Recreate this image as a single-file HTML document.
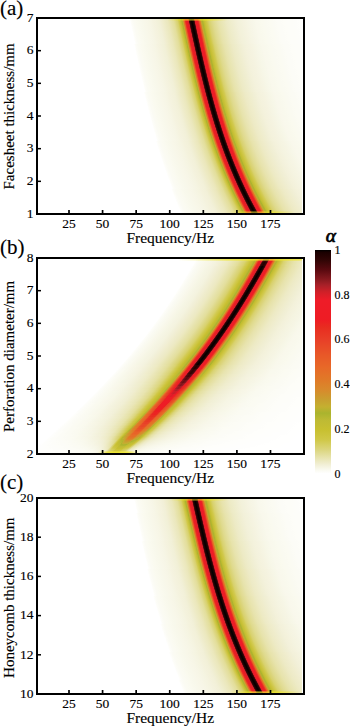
<!DOCTYPE html><html><head><meta charset="utf-8"><style>html,body{margin:0;padding:0;background:#fff;overflow:hidden}svg{display:block}</style></head><body>
<svg width="350" height="727" viewBox="0 0 350 727"><defs><linearGradient id="g0"><stop offset="0.0000" stop-color="#ffffff"/><stop offset="0.0077" stop-color="#fdfdf8"/><stop offset="0.0137" stop-color="#fcfcf6"/><stop offset="0.0179" stop-color="#fbfbf4"/><stop offset="0.0275" stop-color="#fbfbf2"/><stop offset="0.0412" stop-color="#fafaef"/><stop offset="0.0436" stop-color="#fafaef"/><stop offset="0.0549" stop-color="#f9f9ed"/><stop offset="0.0686" stop-color="#f8f8eb"/><stop offset="0.0824" stop-color="#f8f7e9"/><stop offset="0.0949" stop-color="#f7f6e7"/><stop offset="0.0961" stop-color="#f7f6e7"/><stop offset="0.1098" stop-color="#f6f5e4"/><stop offset="0.1236" stop-color="#f5f3e0"/><stop offset="0.1373" stop-color="#f4f2dd"/><stop offset="0.1510" stop-color="#f2f1d9"/><stop offset="0.1564" stop-color="#f2f0d8"/><stop offset="0.1648" stop-color="#f1eed3"/><stop offset="0.1785" stop-color="#efecca"/><stop offset="0.1922" stop-color="#ece9c2"/><stop offset="0.2025" stop-color="#ebe7bc"/><stop offset="0.2059" stop-color="#eae6b8"/><stop offset="0.2197" stop-color="#e6e2a9"/><stop offset="0.2333" stop-color="#e3de9b"/><stop offset="0.2334" stop-color="#e3de9a"/><stop offset="0.2471" stop-color="#dbd57b"/><stop offset="0.2538" stop-color="#d8d16d"/><stop offset="0.2609" stop-color="#d1c94b"/><stop offset="0.2641" stop-color="#cec643"/><stop offset="0.2712" stop-color="#c2bd32"/><stop offset="0.2746" stop-color="#b6b832"/><stop offset="0.2766" stop-color="#aab42e"/><stop offset="0.2832" stop-color="#c7a530"/><stop offset="0.2870" stop-color="#e07928"/><stop offset="0.2883" stop-color="#e47128"/><stop offset="0.2908" stop-color="#e86128"/><stop offset="0.2946" stop-color="#e83825"/><stop offset="0.2995" stop-color="#ee1c25"/><stop offset="0.3021" stop-color="#ee1c25"/><stop offset="0.3126" stop-color="#da1f28"/><stop offset="0.3158" stop-color="#54090e"/><stop offset="0.3159" stop-color="#51090e"/><stop offset="0.3192" stop-color="#270303"/><stop offset="0.3295" stop-color="#000000"/><stop offset="0.3399" stop-color="#270303"/><stop offset="0.3432" stop-color="#51090e"/><stop offset="0.3464" stop-color="#da1f28"/><stop offset="0.3492" stop-color="#eb1c28"/><stop offset="0.3606" stop-color="#ee1c25"/><stop offset="0.3655" stop-color="#e83825"/><stop offset="0.3690" stop-color="#e85928"/><stop offset="0.3699" stop-color="#e86128"/><stop offset="0.3742" stop-color="#e07928"/><stop offset="0.3786" stop-color="#c7a530"/><stop offset="0.3873" stop-color="#aab42e"/><stop offset="0.3887" stop-color="#b1b630"/><stop offset="0.3950" stop-color="#c5be31"/><stop offset="0.4052" stop-color="#cec643"/><stop offset="0.4084" stop-color="#d0c847"/><stop offset="0.4206" stop-color="#d8d16d"/><stop offset="0.4281" stop-color="#dad479"/><stop offset="0.4411" stop-color="#dfda8d"/><stop offset="0.4478" stop-color="#e1dc94"/><stop offset="0.4676" stop-color="#e6e2a8"/><stop offset="0.4719" stop-color="#e7e3ac"/><stop offset="0.4873" stop-color="#e9e6b5"/><stop offset="0.5070" stop-color="#ece9c1"/><stop offset="0.5129" stop-color="#edeac5"/><stop offset="0.5267" stop-color="#eeecca"/><stop offset="0.5464" stop-color="#f0eed1"/><stop offset="0.5662" stop-color="#f2f0d8"/><stop offset="0.5744" stop-color="#f3f1da"/><stop offset="0.5859" stop-color="#f3f2dc"/><stop offset="0.6056" stop-color="#f5f3e0"/><stop offset="0.6253" stop-color="#f6f5e4"/><stop offset="0.6450" stop-color="#f7f6e8"/><stop offset="0.6648" stop-color="#f8f8eb"/><stop offset="0.6667" stop-color="#f9f8ec"/><stop offset="0.6845" stop-color="#f9f9ed"/><stop offset="0.7042" stop-color="#fafaef"/><stop offset="0.7239" stop-color="#fafaf1"/><stop offset="0.7436" stop-color="#fbfbf2"/><stop offset="0.7634" stop-color="#fbfbf4"/><stop offset="0.7831" stop-color="#fcfcf6"/><stop offset="0.7949" stop-color="#fcfcf7"/><stop offset="0.8028" stop-color="#fcfcf7"/><stop offset="0.8225" stop-color="#fdfdf8"/><stop offset="0.8422" stop-color="#fdfdf9"/><stop offset="0.8620" stop-color="#fdfdf9"/><stop offset="0.8817" stop-color="#fdfdfa"/><stop offset="0.9014" stop-color="#fefefb"/><stop offset="0.9211" stop-color="#fefefc"/><stop offset="0.9408" stop-color="#fefefd"/><stop offset="0.9606" stop-color="#fefefd"/><stop offset="0.9803" stop-color="#fffffe"/><stop offset="1.0000" stop-color="#ffffff"/></linearGradient><linearGradient id="g1"><stop offset="0.0000" stop-color="#ffffff"/><stop offset="0.0077" stop-color="#fdfdf8"/><stop offset="0.0137" stop-color="#fcfcf6"/><stop offset="0.0180" stop-color="#fbfbf4"/><stop offset="0.0274" stop-color="#fbfbf2"/><stop offset="0.0411" stop-color="#fafaef"/><stop offset="0.0437" stop-color="#fafaef"/><stop offset="0.0548" stop-color="#f9f9ed"/><stop offset="0.0686" stop-color="#f8f8eb"/><stop offset="0.0823" stop-color="#f8f7e9"/><stop offset="0.0951" stop-color="#f7f6e7"/><stop offset="0.0960" stop-color="#f7f6e7"/><stop offset="0.1097" stop-color="#f6f5e4"/><stop offset="0.1234" stop-color="#f5f3e0"/><stop offset="0.1371" stop-color="#f4f2dd"/><stop offset="0.1508" stop-color="#f2f1d9"/><stop offset="0.1568" stop-color="#f2f0d8"/><stop offset="0.1645" stop-color="#f1efd3"/><stop offset="0.1782" stop-color="#efeccb"/><stop offset="0.1919" stop-color="#edeac2"/><stop offset="0.2031" stop-color="#ebe7bc"/><stop offset="0.2057" stop-color="#eae7b9"/><stop offset="0.2194" stop-color="#e7e2aa"/><stop offset="0.2331" stop-color="#e3de9c"/><stop offset="0.2339" stop-color="#e3de9b"/><stop offset="0.2468" stop-color="#dcd57e"/><stop offset="0.2545" stop-color="#d8d16d"/><stop offset="0.2605" stop-color="#d2ca50"/><stop offset="0.2648" stop-color="#cec643"/><stop offset="0.2717" stop-color="#c2bd32"/><stop offset="0.2742" stop-color="#bbb933"/><stop offset="0.2771" stop-color="#aab42e"/><stop offset="0.2835" stop-color="#c7a530"/><stop offset="0.2873" stop-color="#e07928"/><stop offset="0.2879" stop-color="#e27528"/><stop offset="0.2910" stop-color="#e86128"/><stop offset="0.2948" stop-color="#e83825"/><stop offset="0.2996" stop-color="#ee1c25"/><stop offset="0.3016" stop-color="#ee1c25"/><stop offset="0.3124" stop-color="#da1f28"/><stop offset="0.3153" stop-color="#5c0b11"/><stop offset="0.3157" stop-color="#51090e"/><stop offset="0.3189" stop-color="#270303"/><stop offset="0.3290" stop-color="#000000"/><stop offset="0.3392" stop-color="#270303"/><stop offset="0.3424" stop-color="#51090e"/><stop offset="0.3457" stop-color="#da1f28"/><stop offset="0.3488" stop-color="#ed1c28"/><stop offset="0.3596" stop-color="#ee1c25"/><stop offset="0.3644" stop-color="#e83825"/><stop offset="0.3685" stop-color="#e86028"/><stop offset="0.3687" stop-color="#e86128"/><stop offset="0.3730" stop-color="#e07928"/><stop offset="0.3772" stop-color="#c7a530"/><stop offset="0.3858" stop-color="#aab42e"/><stop offset="0.3883" stop-color="#b7b832"/><stop offset="0.3933" stop-color="#c5be31"/><stop offset="0.4036" stop-color="#cec643"/><stop offset="0.4080" stop-color="#d0c84a"/><stop offset="0.4190" stop-color="#d8d16d"/><stop offset="0.4277" stop-color="#dbd57a"/><stop offset="0.4396" stop-color="#dfda8d"/><stop offset="0.4475" stop-color="#e1dc95"/><stop offset="0.4672" stop-color="#e6e2a9"/><stop offset="0.4704" stop-color="#e7e3ac"/><stop offset="0.4869" stop-color="#e9e6b6"/><stop offset="0.5067" stop-color="#ece9c2"/><stop offset="0.5116" stop-color="#edeac5"/><stop offset="0.5264" stop-color="#eeecca"/><stop offset="0.5461" stop-color="#f0eed1"/><stop offset="0.5659" stop-color="#f2f0d8"/><stop offset="0.5733" stop-color="#f3f1da"/><stop offset="0.5856" stop-color="#f4f2dd"/><stop offset="0.6053" stop-color="#f5f3e0"/><stop offset="0.6251" stop-color="#f6f5e4"/><stop offset="0.6448" stop-color="#f7f7e8"/><stop offset="0.6645" stop-color="#f8f8eb"/><stop offset="0.6658" stop-color="#f9f8ec"/><stop offset="0.6843" stop-color="#f9f9ed"/><stop offset="0.7040" stop-color="#fafaef"/><stop offset="0.7237" stop-color="#fafaf1"/><stop offset="0.7435" stop-color="#fbfbf2"/><stop offset="0.7632" stop-color="#fbfbf4"/><stop offset="0.7829" stop-color="#fcfcf6"/><stop offset="0.7943" stop-color="#fcfcf7"/><stop offset="0.8027" stop-color="#fcfcf7"/><stop offset="0.8224" stop-color="#fdfdf8"/><stop offset="0.8421" stop-color="#fdfdf9"/><stop offset="0.8619" stop-color="#fdfdf9"/><stop offset="0.8816" stop-color="#fdfdfa"/><stop offset="0.9013" stop-color="#fefefb"/><stop offset="0.9211" stop-color="#fefefc"/><stop offset="0.9408" stop-color="#fefefd"/><stop offset="0.9605" stop-color="#fefefd"/><stop offset="0.9803" stop-color="#fffffe"/><stop offset="1.0000" stop-color="#ffffff"/></linearGradient><linearGradient id="g2"><stop offset="0.0000" stop-color="#ffffff"/><stop offset="0.0077" stop-color="#fdfdf8"/><stop offset="0.0137" stop-color="#fcfcf6"/><stop offset="0.0180" stop-color="#fbfbf4"/><stop offset="0.0274" stop-color="#fbfbf2"/><stop offset="0.0411" stop-color="#fafaef"/><stop offset="0.0438" stop-color="#fafaef"/><stop offset="0.0548" stop-color="#f9f9ed"/><stop offset="0.0685" stop-color="#f8f8eb"/><stop offset="0.0821" stop-color="#f8f7e9"/><stop offset="0.0954" stop-color="#f7f6e7"/><stop offset="0.0958" stop-color="#f7f6e7"/><stop offset="0.1095" stop-color="#f6f5e4"/><stop offset="0.1232" stop-color="#f5f3e0"/><stop offset="0.1369" stop-color="#f4f2dd"/><stop offset="0.1506" stop-color="#f3f1da"/><stop offset="0.1572" stop-color="#f2f0d8"/><stop offset="0.1643" stop-color="#f1efd4"/><stop offset="0.1780" stop-color="#efeccb"/><stop offset="0.1917" stop-color="#edeac3"/><stop offset="0.2036" stop-color="#ebe7bc"/><stop offset="0.2054" stop-color="#eae7ba"/><stop offset="0.2191" stop-color="#e7e3ab"/><stop offset="0.2328" stop-color="#e3de9d"/><stop offset="0.2345" stop-color="#e3de9b"/><stop offset="0.2464" stop-color="#dcd680"/><stop offset="0.2552" stop-color="#d8d16d"/><stop offset="0.2601" stop-color="#d3cb55"/><stop offset="0.2655" stop-color="#cec643"/><stop offset="0.2723" stop-color="#c2bd32"/><stop offset="0.2738" stop-color="#bfbb34"/><stop offset="0.2776" stop-color="#aab42e"/><stop offset="0.2839" stop-color="#c7a530"/><stop offset="0.2875" stop-color="#e07a28"/><stop offset="0.2876" stop-color="#e07928"/><stop offset="0.2913" stop-color="#e86128"/><stop offset="0.2949" stop-color="#e83825"/><stop offset="0.2997" stop-color="#ee1c25"/><stop offset="0.3012" stop-color="#ee1c25"/><stop offset="0.3123" stop-color="#da1f28"/><stop offset="0.3149" stop-color="#660e14"/><stop offset="0.3154" stop-color="#51090e"/><stop offset="0.3186" stop-color="#270303"/><stop offset="0.3286" stop-color="#000000"/><stop offset="0.3386" stop-color="#270303"/><stop offset="0.3417" stop-color="#51090e"/><stop offset="0.3449" stop-color="#da1f28"/><stop offset="0.3483" stop-color="#ee1c28"/><stop offset="0.3586" stop-color="#ee1c25"/><stop offset="0.3633" stop-color="#e83825"/><stop offset="0.3675" stop-color="#e86128"/><stop offset="0.3681" stop-color="#e86428"/><stop offset="0.3717" stop-color="#e07928"/><stop offset="0.3759" stop-color="#c7a530"/><stop offset="0.3844" stop-color="#aab42e"/><stop offset="0.3878" stop-color="#bcb933"/><stop offset="0.3917" stop-color="#c5be31"/><stop offset="0.4020" stop-color="#cec643"/><stop offset="0.4076" stop-color="#d1c94d"/><stop offset="0.4175" stop-color="#d8d16d"/><stop offset="0.4273" stop-color="#dbd57c"/><stop offset="0.4381" stop-color="#dfda8d"/><stop offset="0.4471" stop-color="#e2dc96"/><stop offset="0.4668" stop-color="#e6e2aa"/><stop offset="0.4690" stop-color="#e7e3ac"/><stop offset="0.4866" stop-color="#eae6b7"/><stop offset="0.5063" stop-color="#ede9c2"/><stop offset="0.5103" stop-color="#edeac5"/><stop offset="0.5261" stop-color="#efecca"/><stop offset="0.5458" stop-color="#f0eed1"/><stop offset="0.5656" stop-color="#f2f0d8"/><stop offset="0.5721" stop-color="#f3f1da"/><stop offset="0.5853" stop-color="#f4f2dd"/><stop offset="0.6051" stop-color="#f5f3e0"/><stop offset="0.6248" stop-color="#f6f5e4"/><stop offset="0.6446" stop-color="#f7f7e8"/><stop offset="0.6643" stop-color="#f9f8ec"/><stop offset="0.6649" stop-color="#f9f8ec"/><stop offset="0.6840" stop-color="#f9f9ed"/><stop offset="0.7038" stop-color="#fafaef"/><stop offset="0.7235" stop-color="#fafaf1"/><stop offset="0.7433" stop-color="#fbfbf3"/><stop offset="0.7630" stop-color="#fbfbf4"/><stop offset="0.7828" stop-color="#fcfcf6"/><stop offset="0.7938" stop-color="#fcfcf7"/><stop offset="0.8025" stop-color="#fcfcf7"/><stop offset="0.8223" stop-color="#fdfdf8"/><stop offset="0.8420" stop-color="#fdfdf9"/><stop offset="0.8618" stop-color="#fdfdf9"/><stop offset="0.8815" stop-color="#fdfdfa"/><stop offset="0.9013" stop-color="#fefefb"/><stop offset="0.9210" stop-color="#fefefc"/><stop offset="0.9408" stop-color="#fefefd"/><stop offset="0.9605" stop-color="#fefefd"/><stop offset="0.9803" stop-color="#fffffe"/><stop offset="1.0000" stop-color="#ffffff"/></linearGradient><linearGradient id="g3"><stop offset="0.0000" stop-color="#ffffff"/><stop offset="0.0078" stop-color="#fdfdf8"/><stop offset="0.0137" stop-color="#fcfcf6"/><stop offset="0.0181" stop-color="#fbfbf4"/><stop offset="0.0273" stop-color="#fbfbf2"/><stop offset="0.0410" stop-color="#fafaf0"/><stop offset="0.0439" stop-color="#fafaef"/><stop offset="0.0547" stop-color="#f9f9ed"/><stop offset="0.0684" stop-color="#f8f8eb"/><stop offset="0.0820" stop-color="#f8f7e9"/><stop offset="0.0956" stop-color="#f7f6e7"/><stop offset="0.0957" stop-color="#f7f6e7"/><stop offset="0.1094" stop-color="#f6f5e4"/><stop offset="0.1231" stop-color="#f5f4e1"/><stop offset="0.1367" stop-color="#f4f2dd"/><stop offset="0.1504" stop-color="#f3f1da"/><stop offset="0.1576" stop-color="#f2f0d8"/><stop offset="0.1641" stop-color="#f1efd4"/><stop offset="0.1778" stop-color="#efeccc"/><stop offset="0.1914" stop-color="#edeac3"/><stop offset="0.2041" stop-color="#ebe7bc"/><stop offset="0.2051" stop-color="#ebe7bb"/><stop offset="0.2188" stop-color="#e7e3ac"/><stop offset="0.2325" stop-color="#e3df9e"/><stop offset="0.2351" stop-color="#e3de9b"/><stop offset="0.2461" stop-color="#dcd782"/><stop offset="0.2558" stop-color="#d8d16d"/><stop offset="0.2598" stop-color="#d4cd5a"/><stop offset="0.2661" stop-color="#cec643"/><stop offset="0.2729" stop-color="#c2bd32"/><stop offset="0.2735" stop-color="#c1bc33"/><stop offset="0.2780" stop-color="#aab42e"/><stop offset="0.2842" stop-color="#c7a530"/><stop offset="0.2871" stop-color="#dd802a"/><stop offset="0.2879" stop-color="#e07928"/><stop offset="0.2915" stop-color="#e86128"/><stop offset="0.2951" stop-color="#e83825"/><stop offset="0.2997" stop-color="#ee1c25"/><stop offset="0.3008" stop-color="#ee1c25"/><stop offset="0.3121" stop-color="#da1f28"/><stop offset="0.3145" stop-color="#6f1117"/><stop offset="0.3152" stop-color="#51090e"/><stop offset="0.3183" stop-color="#270303"/><stop offset="0.3282" stop-color="#000000"/><stop offset="0.3380" stop-color="#270303"/><stop offset="0.3411" stop-color="#51090e"/><stop offset="0.3442" stop-color="#da1f28"/><stop offset="0.3479" stop-color="#ee1c28"/><stop offset="0.3576" stop-color="#ee1c25"/><stop offset="0.3623" stop-color="#e83825"/><stop offset="0.3664" stop-color="#e86128"/><stop offset="0.3677" stop-color="#e86928"/><stop offset="0.3705" stop-color="#e07928"/><stop offset="0.3747" stop-color="#c7a530"/><stop offset="0.3829" stop-color="#aab42e"/><stop offset="0.3874" stop-color="#bfbb33"/><stop offset="0.3902" stop-color="#c5be31"/><stop offset="0.4005" stop-color="#cec643"/><stop offset="0.4072" stop-color="#d2ca51"/><stop offset="0.4160" stop-color="#d8d16d"/><stop offset="0.4270" stop-color="#dcd57e"/><stop offset="0.4367" stop-color="#dfda8d"/><stop offset="0.4467" stop-color="#e2dd97"/><stop offset="0.4665" stop-color="#e7e2ab"/><stop offset="0.4677" stop-color="#e7e3ac"/><stop offset="0.4862" stop-color="#eae6b7"/><stop offset="0.5060" stop-color="#edeac3"/><stop offset="0.5090" stop-color="#edeac5"/><stop offset="0.5258" stop-color="#efeccb"/><stop offset="0.5455" stop-color="#f0eed2"/><stop offset="0.5653" stop-color="#f2f0d8"/><stop offset="0.5711" stop-color="#f3f1da"/><stop offset="0.5850" stop-color="#f4f2dd"/><stop offset="0.6048" stop-color="#f5f4e1"/><stop offset="0.6246" stop-color="#f6f5e4"/><stop offset="0.6443" stop-color="#f7f7e8"/><stop offset="0.6641" stop-color="#f9f8ec"/><stop offset="0.6838" stop-color="#f9f9ed"/><stop offset="0.7036" stop-color="#fafaef"/><stop offset="0.7234" stop-color="#fafaf1"/><stop offset="0.7431" stop-color="#fbfbf3"/><stop offset="0.7629" stop-color="#fbfbf4"/><stop offset="0.7826" stop-color="#fcfcf6"/><stop offset="0.7933" stop-color="#fcfcf7"/><stop offset="0.8024" stop-color="#fcfcf7"/><stop offset="0.8222" stop-color="#fdfdf8"/><stop offset="0.8419" stop-color="#fdfdf9"/><stop offset="0.8617" stop-color="#fdfdf9"/><stop offset="0.8814" stop-color="#fdfdfa"/><stop offset="0.9012" stop-color="#fefefb"/><stop offset="0.9210" stop-color="#fefefc"/><stop offset="0.9407" stop-color="#fefefd"/><stop offset="0.9605" stop-color="#fefefd"/><stop offset="0.9802" stop-color="#fffffe"/><stop offset="1.0000" stop-color="#ffffff"/></linearGradient><linearGradient id="g4"><stop offset="0.0000" stop-color="#ffffff"/><stop offset="0.0078" stop-color="#fdfdf8"/><stop offset="0.0137" stop-color="#fcfcf6"/><stop offset="0.0181" stop-color="#fbfbf4"/><stop offset="0.0273" stop-color="#fbfbf2"/><stop offset="0.0410" stop-color="#fafaf0"/><stop offset="0.0440" stop-color="#fafaef"/><stop offset="0.0546" stop-color="#f9f9ed"/><stop offset="0.0683" stop-color="#f8f8eb"/><stop offset="0.0819" stop-color="#f8f7e9"/><stop offset="0.0956" stop-color="#f7f6e7"/><stop offset="0.0958" stop-color="#f7f6e7"/><stop offset="0.1092" stop-color="#f6f5e4"/><stop offset="0.1229" stop-color="#f5f4e1"/><stop offset="0.1366" stop-color="#f4f2dd"/><stop offset="0.1502" stop-color="#f3f1da"/><stop offset="0.1580" stop-color="#f2f0d8"/><stop offset="0.1639" stop-color="#f1efd4"/><stop offset="0.1775" stop-color="#efeccc"/><stop offset="0.1912" stop-color="#edeac4"/><stop offset="0.2046" stop-color="#ebe7bc"/><stop offset="0.2048" stop-color="#ebe7bb"/><stop offset="0.2185" stop-color="#e7e3ad"/><stop offset="0.2322" stop-color="#e4df9e"/><stop offset="0.2357" stop-color="#e3de9b"/><stop offset="0.2458" stop-color="#ddd784"/><stop offset="0.2564" stop-color="#d8d16d"/><stop offset="0.2595" stop-color="#d5ce5f"/><stop offset="0.2668" stop-color="#cec643"/><stop offset="0.2731" stop-color="#c3bd32"/><stop offset="0.2734" stop-color="#c2bd32"/><stop offset="0.2785" stop-color="#aab42e"/><stop offset="0.2846" stop-color="#c7a530"/><stop offset="0.2868" stop-color="#d9872b"/><stop offset="0.2881" stop-color="#e07928"/><stop offset="0.2917" stop-color="#e86128"/><stop offset="0.2952" stop-color="#e83825"/><stop offset="0.2998" stop-color="#ee1c25"/><stop offset="0.3004" stop-color="#ee1c25"/><stop offset="0.3120" stop-color="#da1f28"/><stop offset="0.3141" stop-color="#78141a"/><stop offset="0.3150" stop-color="#51090e"/><stop offset="0.3181" stop-color="#270303"/><stop offset="0.3277" stop-color="#000000"/><stop offset="0.3374" stop-color="#270303"/><stop offset="0.3404" stop-color="#51090e"/><stop offset="0.3435" stop-color="#da1f28"/><stop offset="0.3475" stop-color="#ee1c28"/><stop offset="0.3567" stop-color="#ee1c25"/><stop offset="0.3613" stop-color="#e83825"/><stop offset="0.3653" stop-color="#e86128"/><stop offset="0.3673" stop-color="#e66d28"/><stop offset="0.3694" stop-color="#e07928"/><stop offset="0.3735" stop-color="#c7a530"/><stop offset="0.3816" stop-color="#aab42e"/><stop offset="0.3871" stop-color="#c1bc33"/><stop offset="0.3887" stop-color="#c5be31"/><stop offset="0.3991" stop-color="#cec643"/><stop offset="0.4068" stop-color="#d3cb54"/><stop offset="0.4146" stop-color="#d8d16d"/><stop offset="0.4266" stop-color="#dcd67f"/><stop offset="0.4353" stop-color="#dfda8d"/><stop offset="0.4464" stop-color="#e2dd98"/><stop offset="0.4662" stop-color="#e7e3ac"/><stop offset="0.4664" stop-color="#e7e3ac"/><stop offset="0.4859" stop-color="#eae6b8"/><stop offset="0.5057" stop-color="#edeac3"/><stop offset="0.5078" stop-color="#edeac5"/><stop offset="0.5255" stop-color="#efeccb"/><stop offset="0.5452" stop-color="#f0eed2"/><stop offset="0.5650" stop-color="#f2f0d9"/><stop offset="0.5700" stop-color="#f3f1da"/><stop offset="0.5848" stop-color="#f4f2dd"/><stop offset="0.6046" stop-color="#f5f4e1"/><stop offset="0.6243" stop-color="#f6f5e4"/><stop offset="0.6441" stop-color="#f7f7e8"/><stop offset="0.6633" stop-color="#f9f8ec"/><stop offset="0.6639" stop-color="#f9f8ec"/><stop offset="0.6836" stop-color="#f9f9ee"/><stop offset="0.7034" stop-color="#fafaef"/><stop offset="0.7232" stop-color="#fafaf1"/><stop offset="0.7430" stop-color="#fbfbf3"/><stop offset="0.7627" stop-color="#fbfbf4"/><stop offset="0.7825" stop-color="#fcfcf6"/><stop offset="0.7928" stop-color="#fcfcf7"/><stop offset="0.8023" stop-color="#fcfcf7"/><stop offset="0.8221" stop-color="#fdfdf8"/><stop offset="0.8418" stop-color="#fdfdf9"/><stop offset="0.8616" stop-color="#fdfdf9"/><stop offset="0.8814" stop-color="#fdfdfa"/><stop offset="0.9011" stop-color="#fefefb"/><stop offset="0.9209" stop-color="#fefefc"/><stop offset="0.9407" stop-color="#fefefd"/><stop offset="0.9605" stop-color="#fefefd"/><stop offset="0.9802" stop-color="#fffffe"/><stop offset="1.0000" stop-color="#ffffff"/></linearGradient><linearGradient id="sta5"><stop offset="0" stop-color="#f0e830" stop-opacity="0"/><stop offset="0.3" stop-color="#f0e830" stop-opacity="0.60"/><stop offset="0.7" stop-color="#f0e830" stop-opacity="0.60"/><stop offset="1" stop-color="#f0e830" stop-opacity="0"/></linearGradient><linearGradient id="sta6"><stop offset="0" stop-color="#f0e830" stop-opacity="0"/><stop offset="0.3" stop-color="#f0e830" stop-opacity="0.55"/><stop offset="0.7" stop-color="#f0e830" stop-opacity="0.55"/><stop offset="1" stop-color="#f0e830" stop-opacity="0"/></linearGradient><linearGradient id="g5"><stop offset="0.0000" stop-color="#ffffff"/><stop offset="0.0078" stop-color="#fdfdf9"/><stop offset="0.0137" stop-color="#fcfcf6"/><stop offset="0.0181" stop-color="#fbfbf4"/><stop offset="0.0273" stop-color="#fbfbf2"/><stop offset="0.0410" stop-color="#f9f9ed"/><stop offset="0.0439" stop-color="#f9f9ed"/><stop offset="0.0547" stop-color="#f8f7ea"/><stop offset="0.0684" stop-color="#f7f6e7"/><stop offset="0.0820" stop-color="#f6f5e3"/><stop offset="0.0956" stop-color="#f5f3e0"/><stop offset="0.0957" stop-color="#f5f3e0"/><stop offset="0.1094" stop-color="#f3f1db"/><stop offset="0.1231" stop-color="#f1efd5"/><stop offset="0.1367" stop-color="#f0edce"/><stop offset="0.1504" stop-color="#eeebc8"/><stop offset="0.1576" stop-color="#edeac5"/><stop offset="0.1641" stop-color="#ece9c0"/><stop offset="0.1778" stop-color="#e9e5b5"/><stop offset="0.1914" stop-color="#e6e2aa"/><stop offset="0.2041" stop-color="#e4df9f"/><stop offset="0.2051" stop-color="#e3df9e"/><stop offset="0.2188" stop-color="#dfd98a"/><stop offset="0.2325" stop-color="#dad477"/><stop offset="0.2351" stop-color="#d9d373"/><stop offset="0.2461" stop-color="#d3cc56"/><stop offset="0.2532" stop-color="#cfc746"/><stop offset="0.2598" stop-color="#cbc339"/><stop offset="0.2636" stop-color="#c9c132"/><stop offset="0.2718" stop-color="#c0bb33"/><stop offset="0.2735" stop-color="#beba34"/><stop offset="0.2780" stop-color="#b1b630"/><stop offset="0.2842" stop-color="#c5ab30"/><stop offset="0.2871" stop-color="#da862b"/><stop offset="0.2879" stop-color="#dd7f29"/><stop offset="0.2915" stop-color="#e86728"/><stop offset="0.2951" stop-color="#e84128"/><stop offset="0.2997" stop-color="#eb2422"/><stop offset="0.3008" stop-color="#ed1f23"/><stop offset="0.3121" stop-color="#ee1c28"/><stop offset="0.3145" stop-color="#981d24"/><stop offset="0.3152" stop-color="#77141a"/><stop offset="0.3183" stop-color="#46080b"/><stop offset="0.3282" stop-color="#2d0404"/><stop offset="0.3380" stop-color="#46080b"/><stop offset="0.3411" stop-color="#77141a"/><stop offset="0.3442" stop-color="#ee1c28"/><stop offset="0.3479" stop-color="#ee1c26"/><stop offset="0.3576" stop-color="#eb2422"/><stop offset="0.3623" stop-color="#e84128"/><stop offset="0.3664" stop-color="#e86728"/><stop offset="0.3677" stop-color="#e56e28"/><stop offset="0.3705" stop-color="#dd7f29"/><stop offset="0.3747" stop-color="#c5ab30"/><stop offset="0.3829" stop-color="#b1b630"/><stop offset="0.3874" stop-color="#c2bc33"/><stop offset="0.3902" stop-color="#c6bf31"/><stop offset="0.4005" stop-color="#cfc746"/><stop offset="0.4072" stop-color="#d3cc58"/><stop offset="0.4160" stop-color="#d9d373"/><stop offset="0.4270" stop-color="#ddd783"/><stop offset="0.4367" stop-color="#e1db92"/><stop offset="0.4467" stop-color="#e3de9c"/><stop offset="0.4665" stop-color="#e8e4af"/><stop offset="0.4677" stop-color="#e8e4b0"/><stop offset="0.4862" stop-color="#ebe7ba"/><stop offset="0.5060" stop-color="#edeac6"/><stop offset="0.5090" stop-color="#eeebc7"/><stop offset="0.5258" stop-color="#efedcd"/><stop offset="0.5455" stop-color="#f1efd4"/><stop offset="0.5653" stop-color="#f3f1da"/><stop offset="0.5711" stop-color="#f3f2dc"/><stop offset="0.5850" stop-color="#f4f3de"/><stop offset="0.6048" stop-color="#f5f4e2"/><stop offset="0.6246" stop-color="#f6f6e5"/><stop offset="0.6443" stop-color="#f8f7e9"/><stop offset="0.6641" stop-color="#f9f9ed"/><stop offset="0.6838" stop-color="#f9f9ee"/><stop offset="0.7036" stop-color="#fafaf0"/><stop offset="0.7234" stop-color="#fbfbf2"/><stop offset="0.7431" stop-color="#fbfbf3"/><stop offset="0.7629" stop-color="#fcfcf5"/><stop offset="0.7826" stop-color="#fcfcf6"/><stop offset="0.7933" stop-color="#fcfcf7"/><stop offset="0.8024" stop-color="#fcfcf7"/><stop offset="0.8222" stop-color="#fdfdf8"/><stop offset="0.8419" stop-color="#fdfdf9"/><stop offset="0.8617" stop-color="#fdfdfa"/><stop offset="0.8814" stop-color="#fdfdfa"/><stop offset="0.9012" stop-color="#fefefb"/><stop offset="0.9210" stop-color="#fefefc"/><stop offset="0.9407" stop-color="#fefefd"/><stop offset="0.9605" stop-color="#fefefd"/><stop offset="0.9802" stop-color="#fffffe"/><stop offset="1.0000" stop-color="#ffffff"/></linearGradient><linearGradient id="g6"><stop offset="0.0000" stop-color="#ffffff"/><stop offset="0.0078" stop-color="#fdfdf9"/><stop offset="0.0137" stop-color="#fcfcf6"/><stop offset="0.0181" stop-color="#fbfbf4"/><stop offset="0.0273" stop-color="#fafaf1"/><stop offset="0.0410" stop-color="#f9f9ed"/><stop offset="0.0439" stop-color="#f9f8ec"/><stop offset="0.0547" stop-color="#f8f7e9"/><stop offset="0.0684" stop-color="#f7f6e6"/><stop offset="0.0820" stop-color="#f6f4e3"/><stop offset="0.0956" stop-color="#f4f3df"/><stop offset="0.0957" stop-color="#f4f3df"/><stop offset="0.1094" stop-color="#f3f1da"/><stop offset="0.1231" stop-color="#f1efd4"/><stop offset="0.1367" stop-color="#efedcd"/><stop offset="0.1504" stop-color="#eeebc7"/><stop offset="0.1576" stop-color="#edeac3"/><stop offset="0.1641" stop-color="#ece8be"/><stop offset="0.1778" stop-color="#e9e5b3"/><stop offset="0.1914" stop-color="#e6e2a8"/><stop offset="0.2041" stop-color="#e3de9d"/><stop offset="0.2051" stop-color="#e3de9c"/><stop offset="0.2188" stop-color="#ded887"/><stop offset="0.2325" stop-color="#d9d374"/><stop offset="0.2351" stop-color="#d9d270"/><stop offset="0.2461" stop-color="#d2cb53"/><stop offset="0.2532" stop-color="#cfc744"/><stop offset="0.2598" stop-color="#cac237"/><stop offset="0.2636" stop-color="#c8c030"/><stop offset="0.2718" stop-color="#bfbb34"/><stop offset="0.2735" stop-color="#bbb933"/><stop offset="0.2780" stop-color="#adb52f"/><stop offset="0.2842" stop-color="#c6a830"/><stop offset="0.2871" stop-color="#db832a"/><stop offset="0.2879" stop-color="#df7c29"/><stop offset="0.2915" stop-color="#e86428"/><stop offset="0.2951" stop-color="#e83c27"/><stop offset="0.2997" stop-color="#ee1d24"/><stop offset="0.3008" stop-color="#ee1c24"/><stop offset="0.3121" stop-color="#e71d28"/><stop offset="0.3145" stop-color="#82171d"/><stop offset="0.3152" stop-color="#630d13"/><stop offset="0.3183" stop-color="#340506"/><stop offset="0.3282" stop-color="#200101"/><stop offset="0.3380" stop-color="#340506"/><stop offset="0.3411" stop-color="#630d13"/><stop offset="0.3442" stop-color="#e71d28"/><stop offset="0.3479" stop-color="#ee1c27"/><stop offset="0.3576" stop-color="#ee1d24"/><stop offset="0.3623" stop-color="#e83c27"/><stop offset="0.3664" stop-color="#e86428"/><stop offset="0.3677" stop-color="#e66b28"/><stop offset="0.3705" stop-color="#df7c29"/><stop offset="0.3747" stop-color="#c6a830"/><stop offset="0.3829" stop-color="#adb52f"/><stop offset="0.3874" stop-color="#c0bb33"/><stop offset="0.3902" stop-color="#c6bf31"/><stop offset="0.4005" stop-color="#cfc744"/><stop offset="0.4072" stop-color="#d3cb55"/><stop offset="0.4160" stop-color="#d9d270"/><stop offset="0.4270" stop-color="#dcd680"/><stop offset="0.4367" stop-color="#e0db90"/><stop offset="0.4467" stop-color="#e2dd9a"/><stop offset="0.4665" stop-color="#e7e3ad"/><stop offset="0.4677" stop-color="#e7e3ae"/><stop offset="0.4862" stop-color="#eae7b9"/><stop offset="0.5060" stop-color="#edeac4"/><stop offset="0.5090" stop-color="#eeebc6"/><stop offset="0.5258" stop-color="#efeccc"/><stop offset="0.5455" stop-color="#f1eed3"/><stop offset="0.5653" stop-color="#f2f1d9"/><stop offset="0.5711" stop-color="#f3f1db"/><stop offset="0.5850" stop-color="#f4f2de"/><stop offset="0.6048" stop-color="#f5f4e1"/><stop offset="0.6246" stop-color="#f6f5e5"/><stop offset="0.6443" stop-color="#f7f7e8"/><stop offset="0.6641" stop-color="#f9f8ec"/><stop offset="0.6838" stop-color="#f9f9ee"/><stop offset="0.7036" stop-color="#fafaf0"/><stop offset="0.7234" stop-color="#fafaf1"/><stop offset="0.7431" stop-color="#fbfbf3"/><stop offset="0.7629" stop-color="#fbfbf4"/><stop offset="0.7826" stop-color="#fcfcf6"/><stop offset="0.7933" stop-color="#fcfcf7"/><stop offset="0.8024" stop-color="#fcfcf7"/><stop offset="0.8222" stop-color="#fdfdf8"/><stop offset="0.8419" stop-color="#fdfdf9"/><stop offset="0.8617" stop-color="#fdfdf9"/><stop offset="0.8814" stop-color="#fdfdfa"/><stop offset="0.9012" stop-color="#fefefb"/><stop offset="0.9210" stop-color="#fefefc"/><stop offset="0.9407" stop-color="#fefefd"/><stop offset="0.9605" stop-color="#fefefd"/><stop offset="0.9802" stop-color="#fffffe"/><stop offset="1.0000" stop-color="#ffffff"/></linearGradient><linearGradient id="g7"><stop offset="0.0000" stop-color="#ffffff"/><stop offset="0.0078" stop-color="#fdfdf8"/><stop offset="0.0137" stop-color="#fcfcf6"/><stop offset="0.0181" stop-color="#fbfbf4"/><stop offset="0.0273" stop-color="#fafaf1"/><stop offset="0.0410" stop-color="#f9f9ed"/><stop offset="0.0439" stop-color="#f9f8ec"/><stop offset="0.0547" stop-color="#f8f7e9"/><stop offset="0.0684" stop-color="#f6f6e5"/><stop offset="0.0820" stop-color="#f5f4e2"/><stop offset="0.0956" stop-color="#f4f3df"/><stop offset="0.0957" stop-color="#f4f3df"/><stop offset="0.1094" stop-color="#f2f0d9"/><stop offset="0.1231" stop-color="#f1eed3"/><stop offset="0.1367" stop-color="#efeccc"/><stop offset="0.1504" stop-color="#edeac6"/><stop offset="0.1576" stop-color="#ede9c2"/><stop offset="0.1641" stop-color="#ebe8bd"/><stop offset="0.1778" stop-color="#e8e4b1"/><stop offset="0.1914" stop-color="#e5e1a6"/><stop offset="0.2041" stop-color="#e3de9b"/><stop offset="0.2051" stop-color="#e2dd99"/><stop offset="0.2188" stop-color="#ddd785"/><stop offset="0.2325" stop-color="#d9d271"/><stop offset="0.2351" stop-color="#d8d16d"/><stop offset="0.2461" stop-color="#d2ca4f"/><stop offset="0.2532" stop-color="#cec643"/><stop offset="0.2598" stop-color="#cac235"/><stop offset="0.2636" stop-color="#c7bf30"/><stop offset="0.2718" stop-color="#bdba34"/><stop offset="0.2735" stop-color="#b8b832"/><stop offset="0.2780" stop-color="#aab42e"/><stop offset="0.2842" stop-color="#c7a530"/><stop offset="0.2871" stop-color="#dd802a"/><stop offset="0.2879" stop-color="#e07928"/><stop offset="0.2915" stop-color="#e86128"/><stop offset="0.2951" stop-color="#e83825"/><stop offset="0.2997" stop-color="#ee1c25"/><stop offset="0.3008" stop-color="#ee1c25"/><stop offset="0.3121" stop-color="#da1f28"/><stop offset="0.3145" stop-color="#6f1117"/><stop offset="0.3152" stop-color="#51090e"/><stop offset="0.3183" stop-color="#270303"/><stop offset="0.3282" stop-color="#000000"/><stop offset="0.3380" stop-color="#270303"/><stop offset="0.3411" stop-color="#51090e"/><stop offset="0.3442" stop-color="#da1f28"/><stop offset="0.3479" stop-color="#ee1c28"/><stop offset="0.3576" stop-color="#ee1c25"/><stop offset="0.3623" stop-color="#e83825"/><stop offset="0.3664" stop-color="#e86128"/><stop offset="0.3677" stop-color="#e86928"/><stop offset="0.3705" stop-color="#e07928"/><stop offset="0.3747" stop-color="#c7a530"/><stop offset="0.3829" stop-color="#aab42e"/><stop offset="0.3874" stop-color="#bfbb33"/><stop offset="0.3902" stop-color="#c5be31"/><stop offset="0.4005" stop-color="#cec643"/><stop offset="0.4072" stop-color="#d2ca51"/><stop offset="0.4160" stop-color="#d8d16d"/><stop offset="0.4270" stop-color="#dcd57e"/><stop offset="0.4367" stop-color="#dfda8d"/><stop offset="0.4467" stop-color="#e2dd97"/><stop offset="0.4665" stop-color="#e7e2ab"/><stop offset="0.4677" stop-color="#e7e3ac"/><stop offset="0.4862" stop-color="#eae6b7"/><stop offset="0.5060" stop-color="#edeac3"/><stop offset="0.5090" stop-color="#edeac5"/><stop offset="0.5258" stop-color="#efeccb"/><stop offset="0.5455" stop-color="#f0eed2"/><stop offset="0.5653" stop-color="#f2f0d8"/><stop offset="0.5711" stop-color="#f3f1da"/><stop offset="0.5850" stop-color="#f4f2dd"/><stop offset="0.6048" stop-color="#f5f4e1"/><stop offset="0.6246" stop-color="#f6f5e4"/><stop offset="0.6443" stop-color="#f7f7e8"/><stop offset="0.6641" stop-color="#f9f8ec"/><stop offset="0.6838" stop-color="#f9f9ed"/><stop offset="0.7036" stop-color="#fafaef"/><stop offset="0.7234" stop-color="#fafaf1"/><stop offset="0.7431" stop-color="#fbfbf3"/><stop offset="0.7629" stop-color="#fbfbf4"/><stop offset="0.7826" stop-color="#fcfcf6"/><stop offset="0.7933" stop-color="#fcfcf7"/><stop offset="0.8024" stop-color="#fcfcf7"/><stop offset="0.8222" stop-color="#fdfdf8"/><stop offset="0.8419" stop-color="#fdfdf9"/><stop offset="0.8617" stop-color="#fdfdf9"/><stop offset="0.8814" stop-color="#fdfdfa"/><stop offset="0.9012" stop-color="#fefefb"/><stop offset="0.9210" stop-color="#fefefc"/><stop offset="0.9407" stop-color="#fefefd"/><stop offset="0.9605" stop-color="#fefefd"/><stop offset="0.9802" stop-color="#fffffe"/><stop offset="1.0000" stop-color="#ffffff"/></linearGradient><linearGradient id="g8"><stop offset="0.0000" stop-color="#ffffff"/><stop offset="0.0078" stop-color="#fdfdf9"/><stop offset="0.0137" stop-color="#fcfcf6"/><stop offset="0.0181" stop-color="#fbfbf4"/><stop offset="0.0273" stop-color="#fbfbf2"/><stop offset="0.0410" stop-color="#f9f9ee"/><stop offset="0.0439" stop-color="#f9f9ed"/><stop offset="0.0547" stop-color="#f8f8ea"/><stop offset="0.0684" stop-color="#f7f6e7"/><stop offset="0.0820" stop-color="#f6f5e4"/><stop offset="0.0956" stop-color="#f5f4e1"/><stop offset="0.0957" stop-color="#f5f4e1"/><stop offset="0.1094" stop-color="#f3f1db"/><stop offset="0.1231" stop-color="#f1efd6"/><stop offset="0.1367" stop-color="#f0eed0"/><stop offset="0.1504" stop-color="#eeecca"/><stop offset="0.1576" stop-color="#eeebc6"/><stop offset="0.1641" stop-color="#ece9c1"/><stop offset="0.1778" stop-color="#eae6b7"/><stop offset="0.1914" stop-color="#e7e3ac"/><stop offset="0.2041" stop-color="#e4e0a1"/><stop offset="0.2051" stop-color="#e4dfa0"/><stop offset="0.2188" stop-color="#dfda8d"/><stop offset="0.2325" stop-color="#dbd47a"/><stop offset="0.2351" stop-color="#dad476"/><stop offset="0.2461" stop-color="#d4cc5a"/><stop offset="0.2532" stop-color="#d0c848"/><stop offset="0.2598" stop-color="#ccc43b"/><stop offset="0.2636" stop-color="#c9c134"/><stop offset="0.2718" stop-color="#c1bc33"/><stop offset="0.2735" stop-color="#bfbb33"/><stop offset="0.2780" stop-color="#b4b731"/><stop offset="0.2842" stop-color="#c4af30"/><stop offset="0.2871" stop-color="#d8892c"/><stop offset="0.2879" stop-color="#dc822a"/><stop offset="0.2915" stop-color="#e76a28"/><stop offset="0.2951" stop-color="#e84528"/><stop offset="0.2997" stop-color="#e92b20"/><stop offset="0.3008" stop-color="#ea2621"/><stop offset="0.3121" stop-color="#ee1c27"/><stop offset="0.3145" stop-color="#af2028"/><stop offset="0.3152" stop-color="#8c1a20"/><stop offset="0.3183" stop-color="#580a10"/><stop offset="0.3282" stop-color="#3e0709"/><stop offset="0.3380" stop-color="#580a10"/><stop offset="0.3411" stop-color="#8c1a20"/><stop offset="0.3442" stop-color="#ee1c27"/><stop offset="0.3479" stop-color="#ee1c26"/><stop offset="0.3576" stop-color="#e92b20"/><stop offset="0.3623" stop-color="#e84528"/><stop offset="0.3664" stop-color="#e76a28"/><stop offset="0.3677" stop-color="#e47128"/><stop offset="0.3705" stop-color="#dc822a"/><stop offset="0.3747" stop-color="#c4af30"/><stop offset="0.3829" stop-color="#b4b731"/><stop offset="0.3874" stop-color="#c3bd32"/><stop offset="0.3902" stop-color="#c7c030"/><stop offset="0.4005" stop-color="#d0c848"/><stop offset="0.4072" stop-color="#d4cd5c"/><stop offset="0.4160" stop-color="#dad476"/><stop offset="0.4270" stop-color="#ded886"/><stop offset="0.4367" stop-color="#e1dc95"/><stop offset="0.4467" stop-color="#e4df9e"/><stop offset="0.4665" stop-color="#e8e4b1"/><stop offset="0.4677" stop-color="#e8e5b2"/><stop offset="0.4862" stop-color="#ebe8bc"/><stop offset="0.5060" stop-color="#eeebc7"/><stop offset="0.5090" stop-color="#eeebc9"/><stop offset="0.5258" stop-color="#f0edce"/><stop offset="0.5455" stop-color="#f1efd5"/><stop offset="0.5653" stop-color="#f3f1db"/><stop offset="0.5711" stop-color="#f4f2dd"/><stop offset="0.5850" stop-color="#f4f3df"/><stop offset="0.6048" stop-color="#f5f4e2"/><stop offset="0.6246" stop-color="#f7f6e6"/><stop offset="0.6443" stop-color="#f8f7e9"/><stop offset="0.6641" stop-color="#f9f9ed"/><stop offset="0.6838" stop-color="#faf9ef"/><stop offset="0.7036" stop-color="#fafaf0"/><stop offset="0.7234" stop-color="#fbfbf2"/><stop offset="0.7431" stop-color="#fbfbf3"/><stop offset="0.7629" stop-color="#fcfcf5"/><stop offset="0.7826" stop-color="#fcfcf6"/><stop offset="0.7933" stop-color="#fcfcf7"/><stop offset="0.8024" stop-color="#fcfcf7"/><stop offset="0.8222" stop-color="#fdfdf8"/><stop offset="0.8419" stop-color="#fdfdf9"/><stop offset="0.8617" stop-color="#fdfdfa"/><stop offset="0.8814" stop-color="#fdfdfa"/><stop offset="0.9012" stop-color="#fefefb"/><stop offset="0.9210" stop-color="#fefefc"/><stop offset="0.9407" stop-color="#fefefd"/><stop offset="0.9605" stop-color="#fefefd"/><stop offset="0.9802" stop-color="#fffffe"/><stop offset="1.0000" stop-color="#ffffff"/></linearGradient><linearGradient id="g9"><stop offset="0.0000" stop-color="#ffffff"/><stop offset="0.0078" stop-color="#fdfdf9"/><stop offset="0.0137" stop-color="#fcfcf6"/><stop offset="0.0181" stop-color="#fcfcf5"/><stop offset="0.0273" stop-color="#fbfbf2"/><stop offset="0.0410" stop-color="#f9f9ee"/><stop offset="0.0439" stop-color="#f9f9ed"/><stop offset="0.0547" stop-color="#f8f8eb"/><stop offset="0.0684" stop-color="#f7f7e8"/><stop offset="0.0820" stop-color="#f6f5e4"/><stop offset="0.0956" stop-color="#f5f4e1"/><stop offset="0.0957" stop-color="#f5f4e1"/><stop offset="0.1094" stop-color="#f3f2dc"/><stop offset="0.1231" stop-color="#f2f0d7"/><stop offset="0.1367" stop-color="#f0eed1"/><stop offset="0.1504" stop-color="#efeccb"/><stop offset="0.1576" stop-color="#eeebc8"/><stop offset="0.1641" stop-color="#edeac3"/><stop offset="0.1778" stop-color="#eae6b8"/><stop offset="0.1914" stop-color="#e7e3ae"/><stop offset="0.2041" stop-color="#e5e0a4"/><stop offset="0.2051" stop-color="#e5e0a2"/><stop offset="0.2188" stop-color="#e0db8f"/><stop offset="0.2325" stop-color="#dbd57d"/><stop offset="0.2351" stop-color="#dbd479"/><stop offset="0.2461" stop-color="#d5cd5d"/><stop offset="0.2532" stop-color="#d1c94b"/><stop offset="0.2598" stop-color="#ccc43d"/><stop offset="0.2636" stop-color="#cac236"/><stop offset="0.2718" stop-color="#c2bc32"/><stop offset="0.2735" stop-color="#c0bb33"/><stop offset="0.2780" stop-color="#b8b832"/><stop offset="0.2842" stop-color="#c1b130"/><stop offset="0.2871" stop-color="#d68d2d"/><stop offset="0.2879" stop-color="#da852b"/><stop offset="0.2915" stop-color="#e66d28"/><stop offset="0.2951" stop-color="#e84a28"/><stop offset="0.2997" stop-color="#e83022"/><stop offset="0.3008" stop-color="#e82d20"/><stop offset="0.3121" stop-color="#ee1c26"/><stop offset="0.3145" stop-color="#c62028"/><stop offset="0.3152" stop-color="#a41f27"/><stop offset="0.3183" stop-color="#6d1016"/><stop offset="0.3282" stop-color="#51090e"/><stop offset="0.3380" stop-color="#6d1016"/><stop offset="0.3411" stop-color="#a41f27"/><stop offset="0.3442" stop-color="#ee1c26"/><stop offset="0.3479" stop-color="#ee1c25"/><stop offset="0.3576" stop-color="#e83022"/><stop offset="0.3623" stop-color="#e84a28"/><stop offset="0.3664" stop-color="#e66d28"/><stop offset="0.3677" stop-color="#e37428"/><stop offset="0.3705" stop-color="#da852b"/><stop offset="0.3747" stop-color="#c1b130"/><stop offset="0.3829" stop-color="#b8b832"/><stop offset="0.3874" stop-color="#c4bd32"/><stop offset="0.3902" stop-color="#c8c031"/><stop offset="0.4005" stop-color="#d1c94b"/><stop offset="0.4072" stop-color="#d5ce5f"/><stop offset="0.4160" stop-color="#dbd479"/><stop offset="0.4270" stop-color="#ded989"/><stop offset="0.4367" stop-color="#e2dd97"/><stop offset="0.4467" stop-color="#e4e0a1"/><stop offset="0.4665" stop-color="#e9e5b2"/><stop offset="0.4677" stop-color="#e9e5b4"/><stop offset="0.4862" stop-color="#ebe8be"/><stop offset="0.5060" stop-color="#eeebc8"/><stop offset="0.5090" stop-color="#efecca"/><stop offset="0.5258" stop-color="#f0edd0"/><stop offset="0.5455" stop-color="#f1efd6"/><stop offset="0.5653" stop-color="#f3f2dc"/><stop offset="0.5711" stop-color="#f4f2dd"/><stop offset="0.5850" stop-color="#f5f3e0"/><stop offset="0.6048" stop-color="#f6f5e3"/><stop offset="0.6246" stop-color="#f7f6e7"/><stop offset="0.6443" stop-color="#f8f7ea"/><stop offset="0.6641" stop-color="#f9f9ed"/><stop offset="0.6838" stop-color="#fafaef"/><stop offset="0.7036" stop-color="#fafaf1"/><stop offset="0.7234" stop-color="#fbfbf2"/><stop offset="0.7431" stop-color="#fbfbf4"/><stop offset="0.7629" stop-color="#fcfcf5"/><stop offset="0.7826" stop-color="#fcfcf6"/><stop offset="0.7933" stop-color="#fcfcf7"/><stop offset="0.8024" stop-color="#fdfdf8"/><stop offset="0.8222" stop-color="#fdfdf8"/><stop offset="0.8419" stop-color="#fdfdf9"/><stop offset="0.8617" stop-color="#fdfdfa"/><stop offset="0.8814" stop-color="#fefefb"/><stop offset="0.9012" stop-color="#fefefb"/><stop offset="0.9210" stop-color="#fefefc"/><stop offset="0.9407" stop-color="#fefefd"/><stop offset="0.9605" stop-color="#fffffe"/><stop offset="0.9802" stop-color="#fffffe"/><stop offset="1.0000" stop-color="#ffffff"/></linearGradient><linearGradient id="g10"><stop offset="0.0000" stop-color="#ffffff"/><stop offset="0.0078" stop-color="#fdfdf9"/><stop offset="0.0137" stop-color="#fcfcf7"/><stop offset="0.0181" stop-color="#fcfcf5"/><stop offset="0.0273" stop-color="#fbfbf2"/><stop offset="0.0410" stop-color="#faf9ef"/><stop offset="0.0439" stop-color="#f9f9ee"/><stop offset="0.0547" stop-color="#f8f8eb"/><stop offset="0.0684" stop-color="#f7f7e8"/><stop offset="0.0820" stop-color="#f6f5e5"/><stop offset="0.0956" stop-color="#f5f4e2"/><stop offset="0.0957" stop-color="#f5f4e2"/><stop offset="0.1094" stop-color="#f4f2dd"/><stop offset="0.1231" stop-color="#f2f0d8"/><stop offset="0.1367" stop-color="#f1eed2"/><stop offset="0.1504" stop-color="#efeccc"/><stop offset="0.1576" stop-color="#eeecc9"/><stop offset="0.1641" stop-color="#edeac4"/><stop offset="0.1778" stop-color="#ebe7ba"/><stop offset="0.1914" stop-color="#e8e4b0"/><stop offset="0.2041" stop-color="#e6e1a6"/><stop offset="0.2051" stop-color="#e5e1a5"/><stop offset="0.2188" stop-color="#e1db92"/><stop offset="0.2325" stop-color="#dcd680"/><stop offset="0.2351" stop-color="#dbd57c"/><stop offset="0.2461" stop-color="#d5ce61"/><stop offset="0.2532" stop-color="#d2ca4f"/><stop offset="0.2598" stop-color="#cdc53f"/><stop offset="0.2636" stop-color="#cbc338"/><stop offset="0.2718" stop-color="#c3bd32"/><stop offset="0.2735" stop-color="#c2bc33"/><stop offset="0.2780" stop-color="#bbb933"/><stop offset="0.2842" stop-color="#bbb12f"/><stop offset="0.2871" stop-color="#d3912d"/><stop offset="0.2879" stop-color="#d9892c"/><stop offset="0.2915" stop-color="#e47028"/><stop offset="0.2951" stop-color="#e84e28"/><stop offset="0.2997" stop-color="#e83523"/><stop offset="0.3008" stop-color="#e83222"/><stop offset="0.3121" stop-color="#ee1c25"/><stop offset="0.3145" stop-color="#d91f28"/><stop offset="0.3152" stop-color="#bb2028"/><stop offset="0.3183" stop-color="#82171d"/><stop offset="0.3282" stop-color="#650e14"/><stop offset="0.3380" stop-color="#82171d"/><stop offset="0.3411" stop-color="#bb2028"/><stop offset="0.3442" stop-color="#ee1c25"/><stop offset="0.3479" stop-color="#ee1c24"/><stop offset="0.3576" stop-color="#e83523"/><stop offset="0.3623" stop-color="#e84e28"/><stop offset="0.3664" stop-color="#e47028"/><stop offset="0.3677" stop-color="#e17728"/><stop offset="0.3705" stop-color="#d9892c"/><stop offset="0.3747" stop-color="#bbb12f"/><stop offset="0.3829" stop-color="#bbb933"/><stop offset="0.3874" stop-color="#c5be31"/><stop offset="0.3902" stop-color="#c9c133"/><stop offset="0.4005" stop-color="#d2ca4f"/><stop offset="0.4072" stop-color="#d6cf63"/><stop offset="0.4160" stop-color="#dbd57c"/><stop offset="0.4270" stop-color="#dfd98c"/><stop offset="0.4367" stop-color="#e2de9a"/><stop offset="0.4467" stop-color="#e5e0a3"/><stop offset="0.4665" stop-color="#e9e5b4"/><stop offset="0.4677" stop-color="#e9e6b5"/><stop offset="0.4862" stop-color="#ece9bf"/><stop offset="0.5060" stop-color="#eeecca"/><stop offset="0.5090" stop-color="#efeccb"/><stop offset="0.5258" stop-color="#f0eed1"/><stop offset="0.5455" stop-color="#f2f0d7"/><stop offset="0.5653" stop-color="#f4f2dd"/><stop offset="0.5711" stop-color="#f4f3de"/><stop offset="0.5850" stop-color="#f5f4e0"/><stop offset="0.6048" stop-color="#f6f5e4"/><stop offset="0.6246" stop-color="#f7f6e7"/><stop offset="0.6443" stop-color="#f8f8ea"/><stop offset="0.6641" stop-color="#f9f9ee"/><stop offset="0.6838" stop-color="#fafaef"/><stop offset="0.7036" stop-color="#fafaf1"/><stop offset="0.7234" stop-color="#fbfbf2"/><stop offset="0.7431" stop-color="#fbfbf4"/><stop offset="0.7629" stop-color="#fcfcf5"/><stop offset="0.7826" stop-color="#fcfcf7"/><stop offset="0.7933" stop-color="#fcfcf7"/><stop offset="0.8024" stop-color="#fdfdf8"/><stop offset="0.8222" stop-color="#fdfdf8"/><stop offset="0.8419" stop-color="#fdfdf9"/><stop offset="0.8617" stop-color="#fdfdfa"/><stop offset="0.8814" stop-color="#fefefb"/><stop offset="0.9012" stop-color="#fefefb"/><stop offset="0.9210" stop-color="#fefefc"/><stop offset="0.9407" stop-color="#fefefd"/><stop offset="0.9605" stop-color="#fffffe"/><stop offset="0.9802" stop-color="#fffffe"/><stop offset="1.0000" stop-color="#ffffff"/></linearGradient><linearGradient id="g11"><stop offset="0.0000" stop-color="#ffffff"/><stop offset="0.0078" stop-color="#fdfdf9"/><stop offset="0.0137" stop-color="#fcfcf7"/><stop offset="0.0181" stop-color="#fcfcf5"/><stop offset="0.0273" stop-color="#fbfbf3"/><stop offset="0.0410" stop-color="#fafaef"/><stop offset="0.0439" stop-color="#f9f9ee"/><stop offset="0.0547" stop-color="#f9f8ec"/><stop offset="0.0684" stop-color="#f8f7e9"/><stop offset="0.0820" stop-color="#f7f6e6"/><stop offset="0.0956" stop-color="#f6f4e3"/><stop offset="0.0957" stop-color="#f6f4e3"/><stop offset="0.1094" stop-color="#f4f2de"/><stop offset="0.1231" stop-color="#f2f0d9"/><stop offset="0.1367" stop-color="#f1efd3"/><stop offset="0.1504" stop-color="#efedce"/><stop offset="0.1576" stop-color="#efeccb"/><stop offset="0.1641" stop-color="#edebc6"/><stop offset="0.1778" stop-color="#ebe8bc"/><stop offset="0.1914" stop-color="#e8e5b2"/><stop offset="0.2041" stop-color="#e6e2a8"/><stop offset="0.2051" stop-color="#e6e1a7"/><stop offset="0.2188" stop-color="#e1dc95"/><stop offset="0.2325" stop-color="#ddd783"/><stop offset="0.2351" stop-color="#dcd67f"/><stop offset="0.2461" stop-color="#d6cf65"/><stop offset="0.2532" stop-color="#d2cb53"/><stop offset="0.2598" stop-color="#cec641"/><stop offset="0.2636" stop-color="#cbc33a"/><stop offset="0.2718" stop-color="#c4be31"/><stop offset="0.2735" stop-color="#c3bd32"/><stop offset="0.2780" stop-color="#beba34"/><stop offset="0.2842" stop-color="#b5b22f"/><stop offset="0.2871" stop-color="#d0952e"/><stop offset="0.2879" stop-color="#d68c2c"/><stop offset="0.2915" stop-color="#e37328"/><stop offset="0.2951" stop-color="#e85228"/><stop offset="0.2997" stop-color="#e83925"/><stop offset="0.3008" stop-color="#e83724"/><stop offset="0.3121" stop-color="#ee1c25"/><stop offset="0.3145" stop-color="#e71d28"/><stop offset="0.3152" stop-color="#d22028"/><stop offset="0.3183" stop-color="#9a1d24"/><stop offset="0.3282" stop-color="#7b151b"/><stop offset="0.3380" stop-color="#9a1d24"/><stop offset="0.3411" stop-color="#d22028"/><stop offset="0.3442" stop-color="#ee1c25"/><stop offset="0.3479" stop-color="#ed2023"/><stop offset="0.3576" stop-color="#e83925"/><stop offset="0.3623" stop-color="#e85228"/><stop offset="0.3664" stop-color="#e37328"/><stop offset="0.3677" stop-color="#e07a28"/><stop offset="0.3705" stop-color="#d68c2c"/><stop offset="0.3747" stop-color="#b5b22f"/><stop offset="0.3829" stop-color="#beba34"/><stop offset="0.3874" stop-color="#c6bf31"/><stop offset="0.3902" stop-color="#cac235"/><stop offset="0.4005" stop-color="#d2cb53"/><stop offset="0.4072" stop-color="#d7d066"/><stop offset="0.4160" stop-color="#dcd67f"/><stop offset="0.4270" stop-color="#e0da8f"/><stop offset="0.4367" stop-color="#e3de9d"/><stop offset="0.4467" stop-color="#e5e1a5"/><stop offset="0.4665" stop-color="#eae6b6"/><stop offset="0.4677" stop-color="#eae6b7"/><stop offset="0.4862" stop-color="#ece9c1"/><stop offset="0.5060" stop-color="#efeccb"/><stop offset="0.5090" stop-color="#efedcd"/><stop offset="0.5258" stop-color="#f1eed2"/><stop offset="0.5455" stop-color="#f2f0d8"/><stop offset="0.5653" stop-color="#f4f2dd"/><stop offset="0.5711" stop-color="#f4f3df"/><stop offset="0.5850" stop-color="#f5f4e1"/><stop offset="0.6048" stop-color="#f6f5e4"/><stop offset="0.6246" stop-color="#f7f7e8"/><stop offset="0.6443" stop-color="#f8f8eb"/><stop offset="0.6641" stop-color="#f9f9ee"/><stop offset="0.6838" stop-color="#fafaf0"/><stop offset="0.7036" stop-color="#fafaf1"/><stop offset="0.7234" stop-color="#fbfbf3"/><stop offset="0.7431" stop-color="#fbfbf4"/><stop offset="0.7629" stop-color="#fcfcf5"/><stop offset="0.7826" stop-color="#fcfcf7"/><stop offset="0.7933" stop-color="#fdfdf8"/><stop offset="0.8024" stop-color="#fdfdf8"/><stop offset="0.8222" stop-color="#fdfdf9"/><stop offset="0.8419" stop-color="#fdfdf9"/><stop offset="0.8617" stop-color="#fdfdfa"/><stop offset="0.8814" stop-color="#fefefb"/><stop offset="0.9012" stop-color="#fefefb"/><stop offset="0.9210" stop-color="#fefefc"/><stop offset="0.9407" stop-color="#fefefd"/><stop offset="0.9605" stop-color="#fffffe"/><stop offset="0.9802" stop-color="#fffffe"/><stop offset="1.0000" stop-color="#ffffff"/></linearGradient><linearGradient id="g12"><stop offset="0.0000" stop-color="#ffffff"/><stop offset="0.0078" stop-color="#fdfdf9"/><stop offset="0.0137" stop-color="#fcfcf7"/><stop offset="0.0181" stop-color="#fcfcf5"/><stop offset="0.0273" stop-color="#fbfbf3"/><stop offset="0.0410" stop-color="#fafaf0"/><stop offset="0.0439" stop-color="#faf9ef"/><stop offset="0.0547" stop-color="#f9f8ec"/><stop offset="0.0684" stop-color="#f8f7e9"/><stop offset="0.0820" stop-color="#f7f6e6"/><stop offset="0.0956" stop-color="#f6f5e3"/><stop offset="0.0957" stop-color="#f6f5e3"/><stop offset="0.1094" stop-color="#f4f3df"/><stop offset="0.1231" stop-color="#f3f1da"/><stop offset="0.1367" stop-color="#f1efd5"/><stop offset="0.1504" stop-color="#f0edcf"/><stop offset="0.1576" stop-color="#efeccc"/><stop offset="0.1641" stop-color="#eeebc7"/><stop offset="0.1778" stop-color="#ebe8be"/><stop offset="0.1914" stop-color="#e9e5b4"/><stop offset="0.2041" stop-color="#e7e2ab"/><stop offset="0.2051" stop-color="#e6e2a9"/><stop offset="0.2188" stop-color="#e2dd98"/><stop offset="0.2325" stop-color="#ddd886"/><stop offset="0.2351" stop-color="#ddd782"/><stop offset="0.2461" stop-color="#d7d068"/><stop offset="0.2532" stop-color="#d3cc57"/><stop offset="0.2598" stop-color="#cec643"/><stop offset="0.2636" stop-color="#ccc43c"/><stop offset="0.2718" stop-color="#c5be31"/><stop offset="0.2735" stop-color="#c4be32"/><stop offset="0.2780" stop-color="#c0bb33"/><stop offset="0.2842" stop-color="#afb32e"/><stop offset="0.2871" stop-color="#cd992f"/><stop offset="0.2879" stop-color="#d3902d"/><stop offset="0.2915" stop-color="#e27628"/><stop offset="0.2951" stop-color="#e85728"/><stop offset="0.2997" stop-color="#e83e27"/><stop offset="0.3008" stop-color="#e83c26"/><stop offset="0.3121" stop-color="#ee1c24"/><stop offset="0.3145" stop-color="#ee1c28"/><stop offset="0.3152" stop-color="#e11e28"/><stop offset="0.3183" stop-color="#b32028"/><stop offset="0.3282" stop-color="#921c22"/><stop offset="0.3380" stop-color="#b32028"/><stop offset="0.3411" stop-color="#e11e28"/><stop offset="0.3442" stop-color="#ee1c24"/><stop offset="0.3479" stop-color="#ea2721"/><stop offset="0.3576" stop-color="#e83e27"/><stop offset="0.3623" stop-color="#e85728"/><stop offset="0.3664" stop-color="#e27628"/><stop offset="0.3677" stop-color="#de7d29"/><stop offset="0.3705" stop-color="#d3902d"/><stop offset="0.3747" stop-color="#afb32e"/><stop offset="0.3829" stop-color="#c0bb33"/><stop offset="0.3874" stop-color="#c7bf30"/><stop offset="0.3902" stop-color="#cbc338"/><stop offset="0.4005" stop-color="#d3cc57"/><stop offset="0.4072" stop-color="#d7d06a"/><stop offset="0.4160" stop-color="#ddd782"/><stop offset="0.4270" stop-color="#e0db92"/><stop offset="0.4367" stop-color="#e4df9f"/><stop offset="0.4467" stop-color="#e6e2a8"/><stop offset="0.4665" stop-color="#eae6b8"/><stop offset="0.4677" stop-color="#eae7b9"/><stop offset="0.4862" stop-color="#edeac3"/><stop offset="0.5060" stop-color="#efedcd"/><stop offset="0.5090" stop-color="#f0edce"/><stop offset="0.5258" stop-color="#f1efd3"/><stop offset="0.5455" stop-color="#f2f0d9"/><stop offset="0.5653" stop-color="#f4f3de"/><stop offset="0.5711" stop-color="#f5f3e0"/><stop offset="0.5850" stop-color="#f5f4e2"/><stop offset="0.6048" stop-color="#f6f5e5"/><stop offset="0.6246" stop-color="#f7f7e8"/><stop offset="0.6443" stop-color="#f9f8ec"/><stop offset="0.6641" stop-color="#faf9ef"/><stop offset="0.6838" stop-color="#fafaf0"/><stop offset="0.7036" stop-color="#fbfbf2"/><stop offset="0.7234" stop-color="#fbfbf3"/><stop offset="0.7431" stop-color="#fbfbf4"/><stop offset="0.7629" stop-color="#fcfcf6"/><stop offset="0.7826" stop-color="#fcfcf7"/><stop offset="0.7933" stop-color="#fdfdf8"/><stop offset="0.8024" stop-color="#fdfdf8"/><stop offset="0.8222" stop-color="#fdfdf9"/><stop offset="0.8419" stop-color="#fdfdf9"/><stop offset="0.8617" stop-color="#fdfdfa"/><stop offset="0.8814" stop-color="#fefefb"/><stop offset="0.9012" stop-color="#fefefc"/><stop offset="0.9210" stop-color="#fefefc"/><stop offset="0.9407" stop-color="#fefefd"/><stop offset="0.9605" stop-color="#fffffe"/><stop offset="0.9802" stop-color="#fffffe"/><stop offset="1.0000" stop-color="#ffffff"/></linearGradient><linearGradient id="g13"><stop offset="0.0000" stop-color="#ffffff"/><stop offset="0.0078" stop-color="#fdfdf9"/><stop offset="0.0137" stop-color="#fcfcf7"/><stop offset="0.0181" stop-color="#fcfcf6"/><stop offset="0.0273" stop-color="#fbfbf3"/><stop offset="0.0410" stop-color="#fafaf0"/><stop offset="0.0439" stop-color="#fafaef"/><stop offset="0.0547" stop-color="#f9f9ed"/><stop offset="0.0684" stop-color="#f8f7ea"/><stop offset="0.0820" stop-color="#f7f6e7"/><stop offset="0.0956" stop-color="#f6f5e4"/><stop offset="0.0957" stop-color="#f6f5e4"/><stop offset="0.1094" stop-color="#f4f3df"/><stop offset="0.1231" stop-color="#f3f1db"/><stop offset="0.1367" stop-color="#f1efd6"/><stop offset="0.1504" stop-color="#f0eed0"/><stop offset="0.1576" stop-color="#efedcd"/><stop offset="0.1641" stop-color="#eeebc9"/><stop offset="0.1778" stop-color="#ece9bf"/><stop offset="0.1914" stop-color="#e9e6b6"/><stop offset="0.2041" stop-color="#e7e3ad"/><stop offset="0.2051" stop-color="#e7e3ac"/><stop offset="0.2188" stop-color="#e3de9a"/><stop offset="0.2325" stop-color="#ded989"/><stop offset="0.2351" stop-color="#ddd886"/><stop offset="0.2461" stop-color="#d8d16c"/><stop offset="0.2532" stop-color="#d4cd5b"/><stop offset="0.2598" stop-color="#cfc745"/><stop offset="0.2636" stop-color="#cdc53e"/><stop offset="0.2718" stop-color="#c6bf31"/><stop offset="0.2735" stop-color="#c5be31"/><stop offset="0.2780" stop-color="#c1bc33"/><stop offset="0.2842" stop-color="#abb42e"/><stop offset="0.2871" stop-color="#cb9c2f"/><stop offset="0.2879" stop-color="#d0942e"/><stop offset="0.2915" stop-color="#e07928"/><stop offset="0.2951" stop-color="#e85b28"/><stop offset="0.2997" stop-color="#e84328"/><stop offset="0.3008" stop-color="#e84128"/><stop offset="0.3121" stop-color="#eb2422"/><stop offset="0.3145" stop-color="#ee1c27"/><stop offset="0.3152" stop-color="#ee1c28"/><stop offset="0.3183" stop-color="#cc2028"/><stop offset="0.3282" stop-color="#ac2028"/><stop offset="0.3380" stop-color="#cc2028"/><stop offset="0.3411" stop-color="#ee1c28"/><stop offset="0.3442" stop-color="#eb2422"/><stop offset="0.3479" stop-color="#e82e21"/><stop offset="0.3576" stop-color="#e84328"/><stop offset="0.3623" stop-color="#e85b28"/><stop offset="0.3664" stop-color="#e07928"/><stop offset="0.3677" stop-color="#dd812a"/><stop offset="0.3705" stop-color="#d0942e"/><stop offset="0.3747" stop-color="#abb42e"/><stop offset="0.3829" stop-color="#c1bc33"/><stop offset="0.3874" stop-color="#c8c030"/><stop offset="0.3902" stop-color="#cbc33a"/><stop offset="0.4005" stop-color="#d4cd5b"/><stop offset="0.4072" stop-color="#d8d16d"/><stop offset="0.4160" stop-color="#ddd886"/><stop offset="0.4270" stop-color="#e1dc94"/><stop offset="0.4367" stop-color="#e4e0a2"/><stop offset="0.4467" stop-color="#e6e2aa"/><stop offset="0.4665" stop-color="#ebe7ba"/><stop offset="0.4677" stop-color="#ebe7bb"/><stop offset="0.4862" stop-color="#edeac4"/><stop offset="0.5060" stop-color="#f0edce"/><stop offset="0.5090" stop-color="#f0edd0"/><stop offset="0.5258" stop-color="#f1efd5"/><stop offset="0.5455" stop-color="#f3f1da"/><stop offset="0.5653" stop-color="#f4f3df"/><stop offset="0.5711" stop-color="#f5f4e0"/><stop offset="0.5850" stop-color="#f6f4e3"/><stop offset="0.6048" stop-color="#f7f6e6"/><stop offset="0.6246" stop-color="#f8f7e9"/><stop offset="0.6443" stop-color="#f9f8ec"/><stop offset="0.6641" stop-color="#fafaef"/><stop offset="0.6838" stop-color="#fafaf1"/><stop offset="0.7036" stop-color="#fbfbf2"/><stop offset="0.7234" stop-color="#fbfbf3"/><stop offset="0.7431" stop-color="#fcfcf5"/><stop offset="0.7629" stop-color="#fcfcf6"/><stop offset="0.7826" stop-color="#fcfcf7"/><stop offset="0.7933" stop-color="#fdfdf8"/><stop offset="0.8024" stop-color="#fdfdf8"/><stop offset="0.8222" stop-color="#fdfdf9"/><stop offset="0.8419" stop-color="#fdfdfa"/><stop offset="0.8617" stop-color="#fdfdfa"/><stop offset="0.8814" stop-color="#fefefb"/><stop offset="0.9012" stop-color="#fefefc"/><stop offset="0.9210" stop-color="#fefefc"/><stop offset="0.9407" stop-color="#fefefd"/><stop offset="0.9605" stop-color="#fffffe"/><stop offset="0.9802" stop-color="#fffffe"/><stop offset="1.0000" stop-color="#ffffff"/></linearGradient><linearGradient id="g14"><stop offset="0.0000" stop-color="#ffffff"/><stop offset="0.0078" stop-color="#fdfdfa"/><stop offset="0.0137" stop-color="#fcfcf7"/><stop offset="0.0181" stop-color="#fcfcf6"/><stop offset="0.0273" stop-color="#fbfbf4"/><stop offset="0.0410" stop-color="#fafaf0"/><stop offset="0.0439" stop-color="#fafaf0"/><stop offset="0.0547" stop-color="#f9f9ed"/><stop offset="0.0684" stop-color="#f8f8ea"/><stop offset="0.0820" stop-color="#f7f7e8"/><stop offset="0.0956" stop-color="#f6f5e5"/><stop offset="0.0957" stop-color="#f6f5e5"/><stop offset="0.1094" stop-color="#f5f3e0"/><stop offset="0.1231" stop-color="#f3f2dc"/><stop offset="0.1367" stop-color="#f2f0d7"/><stop offset="0.1504" stop-color="#f0eed2"/><stop offset="0.1576" stop-color="#f0edcf"/><stop offset="0.1641" stop-color="#efecca"/><stop offset="0.1778" stop-color="#ece9c1"/><stop offset="0.1914" stop-color="#eae6b8"/><stop offset="0.2041" stop-color="#e8e4af"/><stop offset="0.2051" stop-color="#e7e3ae"/><stop offset="0.2188" stop-color="#e3de9d"/><stop offset="0.2325" stop-color="#dfda8c"/><stop offset="0.2351" stop-color="#ded989"/><stop offset="0.2461" stop-color="#d8d26f"/><stop offset="0.2532" stop-color="#d5ce5f"/><stop offset="0.2598" stop-color="#d0c847"/><stop offset="0.2636" stop-color="#cec641"/><stop offset="0.2718" stop-color="#c8c030"/><stop offset="0.2735" stop-color="#c6bf31"/><stop offset="0.2780" stop-color="#c2bc32"/><stop offset="0.2842" stop-color="#afb52f"/><stop offset="0.2871" stop-color="#c8a030"/><stop offset="0.2879" stop-color="#cd982f"/><stop offset="0.2915" stop-color="#df7d29"/><stop offset="0.2951" stop-color="#e85f28"/><stop offset="0.2997" stop-color="#e84828"/><stop offset="0.3008" stop-color="#e84628"/><stop offset="0.3121" stop-color="#e82c20"/><stop offset="0.3145" stop-color="#ee1c26"/><stop offset="0.3152" stop-color="#ee1c27"/><stop offset="0.3183" stop-color="#de1e28"/><stop offset="0.3282" stop-color="#c62028"/><stop offset="0.3380" stop-color="#de1e28"/><stop offset="0.3411" stop-color="#ee1c27"/><stop offset="0.3442" stop-color="#e82c20"/><stop offset="0.3479" stop-color="#e83423"/><stop offset="0.3576" stop-color="#e84828"/><stop offset="0.3623" stop-color="#e85f28"/><stop offset="0.3664" stop-color="#df7d29"/><stop offset="0.3677" stop-color="#db842b"/><stop offset="0.3705" stop-color="#cd982f"/><stop offset="0.3747" stop-color="#afb52f"/><stop offset="0.3829" stop-color="#c2bc32"/><stop offset="0.3874" stop-color="#c9c132"/><stop offset="0.3902" stop-color="#ccc43c"/><stop offset="0.4005" stop-color="#d5ce5f"/><stop offset="0.4072" stop-color="#d9d271"/><stop offset="0.4160" stop-color="#ded989"/><stop offset="0.4270" stop-color="#e2dd97"/><stop offset="0.4367" stop-color="#e5e1a4"/><stop offset="0.4467" stop-color="#e7e3ac"/><stop offset="0.4665" stop-color="#ebe8bc"/><stop offset="0.4677" stop-color="#ebe8bd"/><stop offset="0.4862" stop-color="#edebc6"/><stop offset="0.5060" stop-color="#f0edcf"/><stop offset="0.5090" stop-color="#f0eed1"/><stop offset="0.5258" stop-color="#f1efd6"/><stop offset="0.5455" stop-color="#f3f1db"/><stop offset="0.5653" stop-color="#f5f3e0"/><stop offset="0.5711" stop-color="#f5f4e1"/><stop offset="0.5850" stop-color="#f6f5e3"/><stop offset="0.6048" stop-color="#f7f6e6"/><stop offset="0.6246" stop-color="#f8f7e9"/><stop offset="0.6443" stop-color="#f9f9ed"/><stop offset="0.6641" stop-color="#fafaf0"/><stop offset="0.6838" stop-color="#fafaf1"/><stop offset="0.7036" stop-color="#fbfbf2"/><stop offset="0.7234" stop-color="#fbfbf4"/><stop offset="0.7431" stop-color="#fcfcf5"/><stop offset="0.7629" stop-color="#fcfcf6"/><stop offset="0.7826" stop-color="#fcfcf7"/><stop offset="0.7933" stop-color="#fdfdf8"/><stop offset="0.8024" stop-color="#fdfdf8"/><stop offset="0.8222" stop-color="#fdfdf9"/><stop offset="0.8419" stop-color="#fdfdfa"/><stop offset="0.8617" stop-color="#fdfdfa"/><stop offset="0.8814" stop-color="#fefefb"/><stop offset="0.9012" stop-color="#fefefc"/><stop offset="0.9210" stop-color="#fefefc"/><stop offset="0.9407" stop-color="#fefefd"/><stop offset="0.9605" stop-color="#fffffe"/><stop offset="0.9802" stop-color="#fffffe"/><stop offset="1.0000" stop-color="#ffffff"/></linearGradient><linearGradient id="g15"><stop offset="0.0000" stop-color="#ffffff"/><stop offset="0.0078" stop-color="#fdfdfa"/><stop offset="0.0137" stop-color="#fdfdf8"/><stop offset="0.0181" stop-color="#fcfcf6"/><stop offset="0.0273" stop-color="#fbfbf4"/><stop offset="0.0410" stop-color="#fafaf1"/><stop offset="0.0439" stop-color="#fafaf0"/><stop offset="0.0547" stop-color="#f9f9ee"/><stop offset="0.0684" stop-color="#f8f8eb"/><stop offset="0.0820" stop-color="#f7f7e8"/><stop offset="0.0956" stop-color="#f7f6e6"/><stop offset="0.0957" stop-color="#f6f6e5"/><stop offset="0.1094" stop-color="#f5f4e1"/><stop offset="0.1231" stop-color="#f4f2dd"/><stop offset="0.1367" stop-color="#f2f0d8"/><stop offset="0.1504" stop-color="#f1efd3"/><stop offset="0.1576" stop-color="#f0eed0"/><stop offset="0.1641" stop-color="#efeccc"/><stop offset="0.1778" stop-color="#edeac3"/><stop offset="0.1914" stop-color="#eae7ba"/><stop offset="0.2041" stop-color="#e8e4b1"/><stop offset="0.2051" stop-color="#e8e4b0"/><stop offset="0.2188" stop-color="#e4dfa0"/><stop offset="0.2325" stop-color="#e0da8f"/><stop offset="0.2351" stop-color="#dfda8c"/><stop offset="0.2461" stop-color="#d9d373"/><stop offset="0.2532" stop-color="#d6cf63"/><stop offset="0.2598" stop-color="#d0c94a"/><stop offset="0.2636" stop-color="#cec643"/><stop offset="0.2718" stop-color="#c9c132"/><stop offset="0.2735" stop-color="#c7c030"/><stop offset="0.2780" stop-color="#c3bd32"/><stop offset="0.2842" stop-color="#b3b731"/><stop offset="0.2871" stop-color="#c7a430"/><stop offset="0.2879" stop-color="#ca9d2f"/><stop offset="0.2915" stop-color="#dd812a"/><stop offset="0.2951" stop-color="#e86228"/><stop offset="0.2997" stop-color="#e84d28"/><stop offset="0.3008" stop-color="#e84b28"/><stop offset="0.3121" stop-color="#e83122"/><stop offset="0.3145" stop-color="#ee1c25"/><stop offset="0.3152" stop-color="#ee1c26"/><stop offset="0.3183" stop-color="#ee1c28"/><stop offset="0.3282" stop-color="#da1f28"/><stop offset="0.3380" stop-color="#ee1c28"/><stop offset="0.3411" stop-color="#ee1c26"/><stop offset="0.3442" stop-color="#e83122"/><stop offset="0.3479" stop-color="#e83925"/><stop offset="0.3576" stop-color="#e84d28"/><stop offset="0.3623" stop-color="#e86228"/><stop offset="0.3664" stop-color="#dd812a"/><stop offset="0.3677" stop-color="#d9882b"/><stop offset="0.3705" stop-color="#ca9d2f"/><stop offset="0.3747" stop-color="#b3b731"/><stop offset="0.3829" stop-color="#c3bd32"/><stop offset="0.3874" stop-color="#cac235"/><stop offset="0.3902" stop-color="#cdc53e"/><stop offset="0.4005" stop-color="#d6cf63"/><stop offset="0.4072" stop-color="#dad375"/><stop offset="0.4160" stop-color="#dfda8c"/><stop offset="0.4270" stop-color="#e3de9a"/><stop offset="0.4367" stop-color="#e6e1a7"/><stop offset="0.4467" stop-color="#e8e4af"/><stop offset="0.4665" stop-color="#ebe8be"/><stop offset="0.4677" stop-color="#ece8bf"/><stop offset="0.4862" stop-color="#eeebc8"/><stop offset="0.5060" stop-color="#f0eed1"/><stop offset="0.5090" stop-color="#f1eed2"/><stop offset="0.5258" stop-color="#f2f0d7"/><stop offset="0.5455" stop-color="#f3f2dc"/><stop offset="0.5653" stop-color="#f5f4e1"/><stop offset="0.5711" stop-color="#f5f4e2"/><stop offset="0.5850" stop-color="#f6f5e4"/><stop offset="0.6048" stop-color="#f7f6e7"/><stop offset="0.6246" stop-color="#f8f8ea"/><stop offset="0.6443" stop-color="#f9f9ed"/><stop offset="0.6641" stop-color="#fafaf0"/><stop offset="0.6838" stop-color="#fafaf1"/><stop offset="0.7036" stop-color="#fbfbf3"/><stop offset="0.7234" stop-color="#fbfbf4"/><stop offset="0.7431" stop-color="#fcfcf5"/><stop offset="0.7629" stop-color="#fcfcf6"/><stop offset="0.7826" stop-color="#fdfdf8"/><stop offset="0.7933" stop-color="#fdfdf8"/><stop offset="0.8024" stop-color="#fdfdf9"/><stop offset="0.8222" stop-color="#fdfdf9"/><stop offset="0.8419" stop-color="#fdfdfa"/><stop offset="0.8617" stop-color="#fdfdfa"/><stop offset="0.8814" stop-color="#fefefb"/><stop offset="0.9012" stop-color="#fefefc"/><stop offset="0.9210" stop-color="#fefefc"/><stop offset="0.9407" stop-color="#fefefd"/><stop offset="0.9605" stop-color="#fffffe"/><stop offset="0.9802" stop-color="#fffffe"/><stop offset="1.0000" stop-color="#ffffff"/></linearGradient><linearGradient id="g16"><stop offset="0.0000" stop-color="#ffffff"/><stop offset="0.0078" stop-color="#fdfdfa"/><stop offset="0.0137" stop-color="#fdfdf8"/><stop offset="0.0181" stop-color="#fcfcf6"/><stop offset="0.0273" stop-color="#fbfbf4"/><stop offset="0.0410" stop-color="#fafaf1"/><stop offset="0.0439" stop-color="#fafaf0"/><stop offset="0.0547" stop-color="#f9f9ee"/><stop offset="0.0684" stop-color="#f9f8ec"/><stop offset="0.0820" stop-color="#f8f7e9"/><stop offset="0.0956" stop-color="#f7f6e6"/><stop offset="0.0957" stop-color="#f7f6e6"/><stop offset="0.1094" stop-color="#f5f4e2"/><stop offset="0.1231" stop-color="#f4f2de"/><stop offset="0.1367" stop-color="#f2f1d9"/><stop offset="0.1504" stop-color="#f1efd4"/><stop offset="0.1576" stop-color="#f0eed2"/><stop offset="0.1641" stop-color="#efedcd"/><stop offset="0.1778" stop-color="#edeac5"/><stop offset="0.1914" stop-color="#ebe8bc"/><stop offset="0.2041" stop-color="#e9e5b3"/><stop offset="0.2051" stop-color="#e9e5b2"/><stop offset="0.2188" stop-color="#e5e0a2"/><stop offset="0.2325" stop-color="#e1db92"/><stop offset="0.2351" stop-color="#e0da8f"/><stop offset="0.2461" stop-color="#dad477"/><stop offset="0.2532" stop-color="#d7d067"/><stop offset="0.2598" stop-color="#d1ca4f"/><stop offset="0.2636" stop-color="#cfc745"/><stop offset="0.2718" stop-color="#c9c134"/><stop offset="0.2735" stop-color="#c8c031"/><stop offset="0.2780" stop-color="#c4be31"/><stop offset="0.2842" stop-color="#b7b832"/><stop offset="0.2871" stop-color="#c6a930"/><stop offset="0.2879" stop-color="#c8a130"/><stop offset="0.2915" stop-color="#db842b"/><stop offset="0.2951" stop-color="#e86628"/><stop offset="0.2997" stop-color="#e85228"/><stop offset="0.3008" stop-color="#e85028"/><stop offset="0.3121" stop-color="#e83724"/><stop offset="0.3145" stop-color="#ee1c24"/><stop offset="0.3152" stop-color="#ee1c25"/><stop offset="0.3183" stop-color="#ee1c27"/><stop offset="0.3282" stop-color="#eb1c28"/><stop offset="0.3380" stop-color="#ee1c27"/><stop offset="0.3411" stop-color="#ee1c25"/><stop offset="0.3442" stop-color="#e83724"/><stop offset="0.3479" stop-color="#e83e27"/><stop offset="0.3576" stop-color="#e85228"/><stop offset="0.3623" stop-color="#e86628"/><stop offset="0.3664" stop-color="#db842b"/><stop offset="0.3677" stop-color="#d78c2c"/><stop offset="0.3705" stop-color="#c8a130"/><stop offset="0.3747" stop-color="#b7b832"/><stop offset="0.3829" stop-color="#c4be31"/><stop offset="0.3874" stop-color="#cac237"/><stop offset="0.3902" stop-color="#cec641"/><stop offset="0.4005" stop-color="#d7d067"/><stop offset="0.4072" stop-color="#dad478"/><stop offset="0.4160" stop-color="#e0da8f"/><stop offset="0.4270" stop-color="#e3de9d"/><stop offset="0.4367" stop-color="#e6e2a9"/><stop offset="0.4467" stop-color="#e8e4b1"/><stop offset="0.4665" stop-color="#ece9c0"/><stop offset="0.4677" stop-color="#ece9c1"/><stop offset="0.4862" stop-color="#eeecc9"/><stop offset="0.5060" stop-color="#f1eed2"/><stop offset="0.5090" stop-color="#f1efd4"/><stop offset="0.5258" stop-color="#f2f0d8"/><stop offset="0.5455" stop-color="#f4f2dd"/><stop offset="0.5653" stop-color="#f5f4e1"/><stop offset="0.5711" stop-color="#f6f5e3"/><stop offset="0.5850" stop-color="#f6f5e5"/><stop offset="0.6048" stop-color="#f7f7e8"/><stop offset="0.6246" stop-color="#f8f8eb"/><stop offset="0.6443" stop-color="#f9f9ee"/><stop offset="0.6641" stop-color="#fafaf0"/><stop offset="0.6838" stop-color="#fbfbf2"/><stop offset="0.7036" stop-color="#fbfbf3"/><stop offset="0.7234" stop-color="#fbfbf4"/><stop offset="0.7431" stop-color="#fcfcf5"/><stop offset="0.7629" stop-color="#fcfcf7"/><stop offset="0.7826" stop-color="#fdfdf8"/><stop offset="0.7933" stop-color="#fdfdf8"/><stop offset="0.8024" stop-color="#fdfdf9"/><stop offset="0.8222" stop-color="#fdfdf9"/><stop offset="0.8419" stop-color="#fdfdfa"/><stop offset="0.8617" stop-color="#fefefb"/><stop offset="0.8814" stop-color="#fefefb"/><stop offset="0.9012" stop-color="#fefefc"/><stop offset="0.9210" stop-color="#fefefc"/><stop offset="0.9407" stop-color="#fefefd"/><stop offset="0.9605" stop-color="#fffffe"/><stop offset="0.9802" stop-color="#fffffe"/><stop offset="1.0000" stop-color="#ffffff"/></linearGradient><linearGradient id="g17"><stop offset="0.0000" stop-color="#ffffff"/><stop offset="0.0078" stop-color="#fdfdfa"/><stop offset="0.0137" stop-color="#fdfdf8"/><stop offset="0.0181" stop-color="#fcfcf6"/><stop offset="0.0273" stop-color="#fbfbf4"/><stop offset="0.0410" stop-color="#fafaf1"/><stop offset="0.0439" stop-color="#fafaf1"/><stop offset="0.0547" stop-color="#fafaef"/><stop offset="0.0684" stop-color="#f9f8ec"/><stop offset="0.0820" stop-color="#f8f7ea"/><stop offset="0.0956" stop-color="#f7f6e7"/><stop offset="0.0957" stop-color="#f7f6e7"/><stop offset="0.1094" stop-color="#f6f4e3"/><stop offset="0.1231" stop-color="#f4f3de"/><stop offset="0.1367" stop-color="#f3f1da"/><stop offset="0.1504" stop-color="#f1efd6"/><stop offset="0.1576" stop-color="#f1efd3"/><stop offset="0.1641" stop-color="#f0edcf"/><stop offset="0.1778" stop-color="#eeebc6"/><stop offset="0.1914" stop-color="#ebe8be"/><stop offset="0.2041" stop-color="#e9e6b6"/><stop offset="0.2051" stop-color="#e9e5b5"/><stop offset="0.2188" stop-color="#e5e1a5"/><stop offset="0.2325" stop-color="#e1dc95"/><stop offset="0.2351" stop-color="#e1db92"/><stop offset="0.2461" stop-color="#dbd57a"/><stop offset="0.2532" stop-color="#d8d16b"/><stop offset="0.2598" stop-color="#d2cb53"/><stop offset="0.2636" stop-color="#d0c847"/><stop offset="0.2718" stop-color="#cac237"/><stop offset="0.2735" stop-color="#c9c134"/><stop offset="0.2780" stop-color="#c6bf31"/><stop offset="0.2842" stop-color="#bbb933"/><stop offset="0.2871" stop-color="#c5ad30"/><stop offset="0.2879" stop-color="#c7a530"/><stop offset="0.2915" stop-color="#d9882b"/><stop offset="0.2951" stop-color="#e76a28"/><stop offset="0.2997" stop-color="#e85728"/><stop offset="0.3008" stop-color="#e85528"/><stop offset="0.3121" stop-color="#e83c26"/><stop offset="0.3145" stop-color="#ec2123"/><stop offset="0.3152" stop-color="#ee1c25"/><stop offset="0.3183" stop-color="#ee1c26"/><stop offset="0.3282" stop-color="#ee1c27"/><stop offset="0.3380" stop-color="#ee1c26"/><stop offset="0.3411" stop-color="#ee1c25"/><stop offset="0.3442" stop-color="#e83c26"/><stop offset="0.3479" stop-color="#e84428"/><stop offset="0.3576" stop-color="#e85728"/><stop offset="0.3623" stop-color="#e76a28"/><stop offset="0.3664" stop-color="#d9882b"/><stop offset="0.3677" stop-color="#d3902d"/><stop offset="0.3705" stop-color="#c7a530"/><stop offset="0.3747" stop-color="#bbb933"/><stop offset="0.3829" stop-color="#c6bf31"/><stop offset="0.3874" stop-color="#cbc33a"/><stop offset="0.3902" stop-color="#cec643"/><stop offset="0.4005" stop-color="#d8d16b"/><stop offset="0.4072" stop-color="#dbd57c"/><stop offset="0.4160" stop-color="#e1db92"/><stop offset="0.4270" stop-color="#e4dfa0"/><stop offset="0.4367" stop-color="#e7e3ac"/><stop offset="0.4467" stop-color="#e9e5b3"/><stop offset="0.4665" stop-color="#ece9c2"/><stop offset="0.4677" stop-color="#edeac2"/><stop offset="0.4862" stop-color="#efeccb"/><stop offset="0.5060" stop-color="#f1efd4"/><stop offset="0.5090" stop-color="#f1efd5"/><stop offset="0.5258" stop-color="#f2f1d9"/><stop offset="0.5455" stop-color="#f4f2de"/><stop offset="0.5653" stop-color="#f5f4e2"/><stop offset="0.5711" stop-color="#f6f5e4"/><stop offset="0.5850" stop-color="#f7f6e6"/><stop offset="0.6048" stop-color="#f7f7e8"/><stop offset="0.6246" stop-color="#f8f8eb"/><stop offset="0.6443" stop-color="#f9f9ee"/><stop offset="0.6641" stop-color="#fafaf1"/><stop offset="0.6838" stop-color="#fbfbf2"/><stop offset="0.7036" stop-color="#fbfbf3"/><stop offset="0.7234" stop-color="#fbfbf4"/><stop offset="0.7431" stop-color="#fcfcf6"/><stop offset="0.7629" stop-color="#fcfcf7"/><stop offset="0.7826" stop-color="#fdfdf8"/><stop offset="0.7933" stop-color="#fdfdf9"/><stop offset="0.8222" stop-color="#fdfdf9"/><stop offset="0.8419" stop-color="#fdfdfa"/><stop offset="0.8617" stop-color="#fefefb"/><stop offset="0.8814" stop-color="#fefefb"/><stop offset="0.9012" stop-color="#fefefc"/><stop offset="0.9210" stop-color="#fefefd"/><stop offset="0.9407" stop-color="#fefefd"/><stop offset="0.9605" stop-color="#fffffe"/><stop offset="0.9802" stop-color="#fffffe"/><stop offset="1.0000" stop-color="#ffffff"/></linearGradient><linearGradient id="g18"><stop offset="0.0000" stop-color="#ffffff"/><stop offset="0.0078" stop-color="#fdfdfa"/><stop offset="0.0137" stop-color="#fdfdf8"/><stop offset="0.0181" stop-color="#fcfcf7"/><stop offset="0.0273" stop-color="#fcfcf5"/><stop offset="0.0410" stop-color="#fbfbf2"/><stop offset="0.0439" stop-color="#fafaf1"/><stop offset="0.0547" stop-color="#fafaef"/><stop offset="0.0684" stop-color="#f9f9ed"/><stop offset="0.0820" stop-color="#f8f8ea"/><stop offset="0.0956" stop-color="#f7f7e8"/><stop offset="0.0957" stop-color="#f7f6e8"/><stop offset="0.1094" stop-color="#f6f5e3"/><stop offset="0.1231" stop-color="#f4f3df"/><stop offset="0.1367" stop-color="#f3f1db"/><stop offset="0.1504" stop-color="#f2f0d7"/><stop offset="0.1576" stop-color="#f1efd5"/><stop offset="0.1641" stop-color="#f0eed1"/><stop offset="0.1778" stop-color="#eeebc8"/><stop offset="0.1914" stop-color="#ece9c0"/><stop offset="0.2041" stop-color="#eae6b8"/><stop offset="0.2051" stop-color="#eae6b7"/><stop offset="0.2188" stop-color="#e6e2a8"/><stop offset="0.2325" stop-color="#e2dd99"/><stop offset="0.2351" stop-color="#e1dc96"/><stop offset="0.2461" stop-color="#dcd57e"/><stop offset="0.2532" stop-color="#d8d26f"/><stop offset="0.2598" stop-color="#d3cc58"/><stop offset="0.2636" stop-color="#d1c94a"/><stop offset="0.2718" stop-color="#cbc339"/><stop offset="0.2735" stop-color="#cac236"/><stop offset="0.2780" stop-color="#c7bf30"/><stop offset="0.2842" stop-color="#beba34"/><stop offset="0.2871" stop-color="#c2b030"/><stop offset="0.2879" stop-color="#c6a930"/><stop offset="0.2915" stop-color="#d78c2c"/><stop offset="0.2951" stop-color="#e66e28"/><stop offset="0.2997" stop-color="#e85c28"/><stop offset="0.3008" stop-color="#e85a28"/><stop offset="0.3121" stop-color="#e84228"/><stop offset="0.3145" stop-color="#e92a21"/><stop offset="0.3152" stop-color="#ed1f23"/><stop offset="0.3183" stop-color="#ee1c25"/><stop offset="0.3282" stop-color="#ee1c26"/><stop offset="0.3380" stop-color="#ee1c25"/><stop offset="0.3411" stop-color="#ed1f23"/><stop offset="0.3442" stop-color="#e84228"/><stop offset="0.3479" stop-color="#e84928"/><stop offset="0.3576" stop-color="#e85c28"/><stop offset="0.3623" stop-color="#e66e28"/><stop offset="0.3664" stop-color="#d78c2c"/><stop offset="0.3677" stop-color="#d0952e"/><stop offset="0.3705" stop-color="#c6a930"/><stop offset="0.3747" stop-color="#beba34"/><stop offset="0.3829" stop-color="#c7bf30"/><stop offset="0.3874" stop-color="#ccc43c"/><stop offset="0.3902" stop-color="#cfc745"/><stop offset="0.4005" stop-color="#d8d26f"/><stop offset="0.4072" stop-color="#dcd67f"/><stop offset="0.4160" stop-color="#e1dc96"/><stop offset="0.4270" stop-color="#e5e0a3"/><stop offset="0.4367" stop-color="#e8e3ae"/><stop offset="0.4467" stop-color="#e9e6b5"/><stop offset="0.4665" stop-color="#edeac3"/><stop offset="0.4677" stop-color="#edeac4"/><stop offset="0.4862" stop-color="#efedcc"/><stop offset="0.5060" stop-color="#f1efd5"/><stop offset="0.5090" stop-color="#f2f0d6"/><stop offset="0.5258" stop-color="#f3f1da"/><stop offset="0.5455" stop-color="#f4f3df"/><stop offset="0.5653" stop-color="#f6f5e3"/><stop offset="0.5711" stop-color="#f6f5e4"/><stop offset="0.5850" stop-color="#f7f6e6"/><stop offset="0.6048" stop-color="#f8f7e9"/><stop offset="0.6246" stop-color="#f9f8ec"/><stop offset="0.6443" stop-color="#faf9ef"/><stop offset="0.6641" stop-color="#fafaf1"/><stop offset="0.6838" stop-color="#fbfbf2"/><stop offset="0.7036" stop-color="#fbfbf3"/><stop offset="0.7234" stop-color="#fcfcf5"/><stop offset="0.7431" stop-color="#fcfcf6"/><stop offset="0.7629" stop-color="#fcfcf7"/><stop offset="0.7826" stop-color="#fdfdf8"/><stop offset="0.7933" stop-color="#fdfdf9"/><stop offset="0.8024" stop-color="#fdfdf9"/><stop offset="0.8222" stop-color="#fdfdfa"/><stop offset="0.8419" stop-color="#fdfdfa"/><stop offset="0.8617" stop-color="#fefefb"/><stop offset="0.8814" stop-color="#fefefb"/><stop offset="0.9012" stop-color="#fefefc"/><stop offset="0.9210" stop-color="#fefefd"/><stop offset="0.9407" stop-color="#fefefd"/><stop offset="0.9605" stop-color="#fffffe"/><stop offset="0.9802" stop-color="#fffffe"/><stop offset="1.0000" stop-color="#ffffff"/></linearGradient><linearGradient id="g19"><stop offset="0.0000" stop-color="#ffffff"/><stop offset="0.0078" stop-color="#fdfdfa"/><stop offset="0.0137" stop-color="#fdfdf8"/><stop offset="0.0181" stop-color="#fcfcf7"/><stop offset="0.0273" stop-color="#fcfcf5"/><stop offset="0.0410" stop-color="#fbfbf2"/><stop offset="0.0439" stop-color="#fafaf2"/><stop offset="0.0547" stop-color="#fafaf0"/><stop offset="0.0684" stop-color="#f9f9ed"/><stop offset="0.0820" stop-color="#f8f8eb"/><stop offset="0.0956" stop-color="#f7f7e8"/><stop offset="0.0957" stop-color="#f7f7e8"/><stop offset="0.1094" stop-color="#f6f5e4"/><stop offset="0.1231" stop-color="#f5f3e0"/><stop offset="0.1367" stop-color="#f3f2dc"/><stop offset="0.1504" stop-color="#f2f0d8"/><stop offset="0.1576" stop-color="#f1efd6"/><stop offset="0.1641" stop-color="#f1eed2"/><stop offset="0.1778" stop-color="#eeecca"/><stop offset="0.1914" stop-color="#ece9c2"/><stop offset="0.2041" stop-color="#ebe7ba"/><stop offset="0.2051" stop-color="#eae7b9"/><stop offset="0.2188" stop-color="#e7e2ab"/><stop offset="0.2325" stop-color="#e3de9c"/><stop offset="0.2351" stop-color="#e2dd99"/><stop offset="0.2461" stop-color="#dcd681"/><stop offset="0.2532" stop-color="#d9d373"/><stop offset="0.2598" stop-color="#d4cd5d"/><stop offset="0.2636" stop-color="#d2ca4f"/><stop offset="0.2718" stop-color="#ccc43c"/><stop offset="0.2735" stop-color="#cbc339"/><stop offset="0.2780" stop-color="#c8c030"/><stop offset="0.2842" stop-color="#c0bb33"/><stop offset="0.2871" stop-color="#bbb12f"/><stop offset="0.2879" stop-color="#c5ae30"/><stop offset="0.2915" stop-color="#d3912d"/><stop offset="0.2951" stop-color="#e47128"/><stop offset="0.2997" stop-color="#e86028"/><stop offset="0.3008" stop-color="#e85e28"/><stop offset="0.3121" stop-color="#e84828"/><stop offset="0.3145" stop-color="#e83122"/><stop offset="0.3152" stop-color="#e92821"/><stop offset="0.3183" stop-color="#ee1c25"/><stop offset="0.3380" stop-color="#ee1c25"/><stop offset="0.3411" stop-color="#e92821"/><stop offset="0.3442" stop-color="#e84828"/><stop offset="0.3479" stop-color="#e84f28"/><stop offset="0.3576" stop-color="#e86028"/><stop offset="0.3623" stop-color="#e47128"/><stop offset="0.3664" stop-color="#d3912d"/><stop offset="0.3677" stop-color="#cd9a2f"/><stop offset="0.3705" stop-color="#c5ae30"/><stop offset="0.3747" stop-color="#c0bb33"/><stop offset="0.3829" stop-color="#c8c030"/><stop offset="0.3874" stop-color="#cdc53f"/><stop offset="0.3902" stop-color="#d0c847"/><stop offset="0.4005" stop-color="#d9d373"/><stop offset="0.4072" stop-color="#ddd783"/><stop offset="0.4160" stop-color="#e2dd99"/><stop offset="0.4270" stop-color="#e5e1a6"/><stop offset="0.4367" stop-color="#e8e4b1"/><stop offset="0.4467" stop-color="#eae6b8"/><stop offset="0.4665" stop-color="#edeac5"/><stop offset="0.4677" stop-color="#eeebc6"/><stop offset="0.4862" stop-color="#f0edce"/><stop offset="0.5060" stop-color="#f2f0d6"/><stop offset="0.5090" stop-color="#f2f0d8"/><stop offset="0.5258" stop-color="#f3f1db"/><stop offset="0.5455" stop-color="#f5f3e0"/><stop offset="0.5653" stop-color="#f6f5e4"/><stop offset="0.5711" stop-color="#f6f5e5"/><stop offset="0.5850" stop-color="#f7f6e7"/><stop offset="0.6048" stop-color="#f8f7ea"/><stop offset="0.6246" stop-color="#f9f9ec"/><stop offset="0.6443" stop-color="#fafaef"/><stop offset="0.6641" stop-color="#fafaf2"/><stop offset="0.6838" stop-color="#fbfbf3"/><stop offset="0.7036" stop-color="#fbfbf4"/><stop offset="0.7234" stop-color="#fcfcf5"/><stop offset="0.7431" stop-color="#fcfcf6"/><stop offset="0.7629" stop-color="#fcfcf7"/><stop offset="0.7826" stop-color="#fdfdf8"/><stop offset="0.7933" stop-color="#fdfdf9"/><stop offset="0.8024" stop-color="#fdfdf9"/><stop offset="0.8222" stop-color="#fdfdfa"/><stop offset="0.8419" stop-color="#fdfdfa"/><stop offset="0.8617" stop-color="#fefefb"/><stop offset="0.8814" stop-color="#fefefc"/><stop offset="0.9012" stop-color="#fefefc"/><stop offset="0.9210" stop-color="#fefefd"/><stop offset="0.9407" stop-color="#fefefd"/><stop offset="0.9605" stop-color="#fffffe"/><stop offset="0.9802" stop-color="#fffffe"/><stop offset="1.0000" stop-color="#ffffff"/></linearGradient><linearGradient id="g20"><stop offset="0.0000" stop-color="#ffffff"/><stop offset="0.0078" stop-color="#fdfdfa"/><stop offset="0.0137" stop-color="#fdfdf9"/><stop offset="0.0181" stop-color="#fcfcf7"/><stop offset="0.0273" stop-color="#fcfcf5"/><stop offset="0.0410" stop-color="#fbfbf2"/><stop offset="0.0439" stop-color="#fbfbf2"/><stop offset="0.0547" stop-color="#fafaf0"/><stop offset="0.0684" stop-color="#f9f9ee"/><stop offset="0.0820" stop-color="#f8f8eb"/><stop offset="0.0956" stop-color="#f8f7e9"/><stop offset="0.0957" stop-color="#f8f7e9"/><stop offset="0.1094" stop-color="#f6f5e5"/><stop offset="0.1231" stop-color="#f5f4e1"/><stop offset="0.1367" stop-color="#f4f2dd"/><stop offset="0.1504" stop-color="#f2f1d9"/><stop offset="0.1576" stop-color="#f2f0d7"/><stop offset="0.1641" stop-color="#f1efd4"/><stop offset="0.1778" stop-color="#efeccc"/><stop offset="0.1914" stop-color="#edeac4"/><stop offset="0.2041" stop-color="#ebe8bc"/><stop offset="0.2051" stop-color="#ebe7bb"/><stop offset="0.2188" stop-color="#e7e3ad"/><stop offset="0.2325" stop-color="#e4df9f"/><stop offset="0.2351" stop-color="#e3de9c"/><stop offset="0.2461" stop-color="#ddd885"/><stop offset="0.2532" stop-color="#dad477"/><stop offset="0.2598" stop-color="#d5ce61"/><stop offset="0.2636" stop-color="#d3cb54"/><stop offset="0.2718" stop-color="#cdc53e"/><stop offset="0.2735" stop-color="#ccc43b"/><stop offset="0.2780" stop-color="#c9c133"/><stop offset="0.2842" stop-color="#c1bc33"/><stop offset="0.2871" stop-color="#b4b32f"/><stop offset="0.2879" stop-color="#c0b130"/><stop offset="0.2915" stop-color="#cf962e"/><stop offset="0.2951" stop-color="#e27528"/><stop offset="0.2997" stop-color="#e86428"/><stop offset="0.3008" stop-color="#e86228"/><stop offset="0.3121" stop-color="#e84d28"/><stop offset="0.3145" stop-color="#e83724"/><stop offset="0.3152" stop-color="#e83022"/><stop offset="0.3183" stop-color="#ec2023"/><stop offset="0.3282" stop-color="#ee1c25"/><stop offset="0.3380" stop-color="#ec2023"/><stop offset="0.3411" stop-color="#e83022"/><stop offset="0.3442" stop-color="#e84d28"/><stop offset="0.3479" stop-color="#e85428"/><stop offset="0.3576" stop-color="#e86428"/><stop offset="0.3623" stop-color="#e27528"/><stop offset="0.3664" stop-color="#cf962e"/><stop offset="0.3677" stop-color="#c99e30"/><stop offset="0.3705" stop-color="#c0b130"/><stop offset="0.3747" stop-color="#c1bc33"/><stop offset="0.3829" stop-color="#c9c133"/><stop offset="0.3874" stop-color="#cec641"/><stop offset="0.3902" stop-color="#d1c94c"/><stop offset="0.4005" stop-color="#dad477"/><stop offset="0.4072" stop-color="#ded887"/><stop offset="0.4160" stop-color="#e3de9c"/><stop offset="0.4270" stop-color="#e6e2a8"/><stop offset="0.4367" stop-color="#e9e5b3"/><stop offset="0.4467" stop-color="#eae7ba"/><stop offset="0.4665" stop-color="#eeebc7"/><stop offset="0.4677" stop-color="#eeebc8"/><stop offset="0.4862" stop-color="#f0eed0"/><stop offset="0.5060" stop-color="#f2f0d8"/><stop offset="0.5090" stop-color="#f2f0d9"/><stop offset="0.5258" stop-color="#f3f2dc"/><stop offset="0.5455" stop-color="#f5f4e1"/><stop offset="0.5653" stop-color="#f6f5e5"/><stop offset="0.5711" stop-color="#f7f6e6"/><stop offset="0.5850" stop-color="#f7f7e8"/><stop offset="0.6048" stop-color="#f8f8ea"/><stop offset="0.6246" stop-color="#f9f9ed"/><stop offset="0.6443" stop-color="#fafaf0"/><stop offset="0.6641" stop-color="#fbfbf2"/><stop offset="0.6838" stop-color="#fbfbf3"/><stop offset="0.7036" stop-color="#fbfbf4"/><stop offset="0.7234" stop-color="#fcfcf5"/><stop offset="0.7431" stop-color="#fcfcf6"/><stop offset="0.7629" stop-color="#fcfcf7"/><stop offset="0.7826" stop-color="#fdfdf8"/><stop offset="0.7933" stop-color="#fdfdf9"/><stop offset="0.8024" stop-color="#fdfdf9"/><stop offset="0.8222" stop-color="#fdfdfa"/><stop offset="0.8419" stop-color="#fdfdfa"/><stop offset="0.8617" stop-color="#fefefb"/><stop offset="0.8814" stop-color="#fefefc"/><stop offset="0.9012" stop-color="#fefefc"/><stop offset="0.9210" stop-color="#fefefd"/><stop offset="0.9407" stop-color="#fefefd"/><stop offset="0.9605" stop-color="#fffffe"/><stop offset="0.9802" stop-color="#fffffe"/><stop offset="1.0000" stop-color="#ffffff"/></linearGradient><linearGradient id="g21"><stop offset="0.0000" stop-color="#ffffff"/><stop offset="0.0078" stop-color="#fefefb"/><stop offset="0.0137" stop-color="#fdfdf9"/><stop offset="0.0181" stop-color="#fcfcf7"/><stop offset="0.0273" stop-color="#fcfcf6"/><stop offset="0.0410" stop-color="#fbfbf3"/><stop offset="0.0439" stop-color="#fbfbf2"/><stop offset="0.0547" stop-color="#fafaf1"/><stop offset="0.0684" stop-color="#f9f9ee"/><stop offset="0.0820" stop-color="#f9f8ec"/><stop offset="0.0956" stop-color="#f8f7ea"/><stop offset="0.0957" stop-color="#f8f7ea"/><stop offset="0.1094" stop-color="#f7f6e6"/><stop offset="0.1231" stop-color="#f5f4e2"/><stop offset="0.1367" stop-color="#f4f3de"/><stop offset="0.1504" stop-color="#f3f1db"/><stop offset="0.1576" stop-color="#f2f0d9"/><stop offset="0.1641" stop-color="#f1efd5"/><stop offset="0.1778" stop-color="#efedcd"/><stop offset="0.1914" stop-color="#edeac6"/><stop offset="0.2041" stop-color="#ece8be"/><stop offset="0.2051" stop-color="#ebe8bd"/><stop offset="0.2188" stop-color="#e8e4b0"/><stop offset="0.2325" stop-color="#e4e0a2"/><stop offset="0.2351" stop-color="#e4df9f"/><stop offset="0.2461" stop-color="#ded989"/><stop offset="0.2532" stop-color="#dbd57b"/><stop offset="0.2598" stop-color="#d6cf66"/><stop offset="0.2636" stop-color="#d4cc59"/><stop offset="0.2718" stop-color="#cec641"/><stop offset="0.2735" stop-color="#cdc53e"/><stop offset="0.2780" stop-color="#cac236"/><stop offset="0.2842" stop-color="#c3bd32"/><stop offset="0.2871" stop-color="#acb42e"/><stop offset="0.2879" stop-color="#b8b22f"/><stop offset="0.2915" stop-color="#cc9b2f"/><stop offset="0.2951" stop-color="#e07928"/><stop offset="0.2997" stop-color="#e86828"/><stop offset="0.3008" stop-color="#e86728"/><stop offset="0.3121" stop-color="#e85328"/><stop offset="0.3145" stop-color="#e83d27"/><stop offset="0.3152" stop-color="#e83624"/><stop offset="0.3183" stop-color="#e92a21"/><stop offset="0.3282" stop-color="#ed2023"/><stop offset="0.3380" stop-color="#e92a21"/><stop offset="0.3411" stop-color="#e83624"/><stop offset="0.3442" stop-color="#e85328"/><stop offset="0.3479" stop-color="#e85928"/><stop offset="0.3576" stop-color="#e86828"/><stop offset="0.3623" stop-color="#e07928"/><stop offset="0.3664" stop-color="#cc9b2f"/><stop offset="0.3677" stop-color="#c7a330"/><stop offset="0.3705" stop-color="#b8b22f"/><stop offset="0.3747" stop-color="#c3bd32"/><stop offset="0.3829" stop-color="#cac236"/><stop offset="0.3874" stop-color="#cfc744"/><stop offset="0.3902" stop-color="#d2ca51"/><stop offset="0.4005" stop-color="#dbd57b"/><stop offset="0.4072" stop-color="#dfd98b"/><stop offset="0.4160" stop-color="#e4df9f"/><stop offset="0.4270" stop-color="#e7e3ab"/><stop offset="0.4367" stop-color="#e9e6b6"/><stop offset="0.4467" stop-color="#ebe8bc"/><stop offset="0.4665" stop-color="#eeecc9"/><stop offset="0.4677" stop-color="#eeecca"/><stop offset="0.4862" stop-color="#f0eed1"/><stop offset="0.5060" stop-color="#f2f0d9"/><stop offset="0.5090" stop-color="#f3f1da"/><stop offset="0.5258" stop-color="#f4f2de"/><stop offset="0.5455" stop-color="#f5f4e2"/><stop offset="0.5653" stop-color="#f7f6e6"/><stop offset="0.5711" stop-color="#f7f6e7"/><stop offset="0.5850" stop-color="#f8f7e9"/><stop offset="0.6048" stop-color="#f8f8eb"/><stop offset="0.6246" stop-color="#f9f9ee"/><stop offset="0.6443" stop-color="#fafaf0"/><stop offset="0.6641" stop-color="#fbfbf2"/><stop offset="0.6838" stop-color="#fbfbf3"/><stop offset="0.7036" stop-color="#fbfbf4"/><stop offset="0.7234" stop-color="#fcfcf5"/><stop offset="0.7431" stop-color="#fcfcf7"/><stop offset="0.7629" stop-color="#fdfdf8"/><stop offset="0.7826" stop-color="#fdfdf9"/><stop offset="0.7933" stop-color="#fdfdf9"/><stop offset="0.8024" stop-color="#fdfdfa"/><stop offset="0.8222" stop-color="#fdfdfa"/><stop offset="0.8419" stop-color="#fefefb"/><stop offset="0.8617" stop-color="#fefefb"/><stop offset="0.8814" stop-color="#fefefc"/><stop offset="0.9012" stop-color="#fefefc"/><stop offset="0.9210" stop-color="#fefefd"/><stop offset="0.9407" stop-color="#fefefd"/><stop offset="0.9605" stop-color="#fffffe"/><stop offset="0.9802" stop-color="#fffffe"/><stop offset="1.0000" stop-color="#ffffff"/></linearGradient><linearGradient id="g22"><stop offset="0.0000" stop-color="#ffffff"/><stop offset="0.0078" stop-color="#fefefb"/><stop offset="0.0137" stop-color="#fdfdf9"/><stop offset="0.0181" stop-color="#fdfdf8"/><stop offset="0.0273" stop-color="#fcfcf6"/><stop offset="0.0410" stop-color="#fbfbf3"/><stop offset="0.0439" stop-color="#fbfbf3"/><stop offset="0.0547" stop-color="#fafaf1"/><stop offset="0.0684" stop-color="#fafaef"/><stop offset="0.0820" stop-color="#f9f9ed"/><stop offset="0.0956" stop-color="#f8f8ea"/><stop offset="0.0957" stop-color="#f8f8ea"/><stop offset="0.1094" stop-color="#f7f6e7"/><stop offset="0.1231" stop-color="#f6f5e3"/><stop offset="0.1367" stop-color="#f4f3df"/><stop offset="0.1504" stop-color="#f3f2dc"/><stop offset="0.1576" stop-color="#f3f1da"/><stop offset="0.1641" stop-color="#f2f0d7"/><stop offset="0.1778" stop-color="#f0edcf"/><stop offset="0.1914" stop-color="#eeebc8"/><stop offset="0.2041" stop-color="#ece9c1"/><stop offset="0.2051" stop-color="#ece9c0"/><stop offset="0.2188" stop-color="#e9e5b3"/><stop offset="0.2325" stop-color="#e5e1a5"/><stop offset="0.2351" stop-color="#e5e0a2"/><stop offset="0.2461" stop-color="#dfda8d"/><stop offset="0.2532" stop-color="#dcd67f"/><stop offset="0.2598" stop-color="#d7d16a"/><stop offset="0.2636" stop-color="#d5ce5e"/><stop offset="0.2718" stop-color="#cfc744"/><stop offset="0.2735" stop-color="#cec641"/><stop offset="0.2780" stop-color="#cbc339"/><stop offset="0.2842" stop-color="#c4be31"/><stop offset="0.2871" stop-color="#aeb52f"/><stop offset="0.2879" stop-color="#b1b32f"/><stop offset="0.2915" stop-color="#c8a030"/><stop offset="0.2951" stop-color="#de7d29"/><stop offset="0.2997" stop-color="#e66d28"/><stop offset="0.3008" stop-color="#e76b28"/><stop offset="0.3121" stop-color="#e85928"/><stop offset="0.3145" stop-color="#e84328"/><stop offset="0.3152" stop-color="#e83c27"/><stop offset="0.3183" stop-color="#e83122"/><stop offset="0.3282" stop-color="#e92a21"/><stop offset="0.3380" stop-color="#e83122"/><stop offset="0.3411" stop-color="#e83c27"/><stop offset="0.3442" stop-color="#e85928"/><stop offset="0.3479" stop-color="#e85e28"/><stop offset="0.3576" stop-color="#e66d28"/><stop offset="0.3623" stop-color="#de7d29"/><stop offset="0.3664" stop-color="#c8a030"/><stop offset="0.3677" stop-color="#c6a830"/><stop offset="0.3705" stop-color="#b1b32f"/><stop offset="0.3747" stop-color="#c4be31"/><stop offset="0.3829" stop-color="#cbc339"/><stop offset="0.3874" stop-color="#cfc746"/><stop offset="0.3902" stop-color="#d3cc56"/><stop offset="0.4005" stop-color="#dcd67f"/><stop offset="0.4072" stop-color="#e0da8e"/><stop offset="0.4160" stop-color="#e5e0a2"/><stop offset="0.4270" stop-color="#e8e3ae"/><stop offset="0.4367" stop-color="#eae6b8"/><stop offset="0.4467" stop-color="#ece8be"/><stop offset="0.4665" stop-color="#efeccb"/><stop offset="0.4677" stop-color="#efeccc"/><stop offset="0.4862" stop-color="#f1eed3"/><stop offset="0.5060" stop-color="#f3f1da"/><stop offset="0.5090" stop-color="#f3f1db"/><stop offset="0.5258" stop-color="#f4f3df"/><stop offset="0.5455" stop-color="#f5f4e2"/><stop offset="0.5653" stop-color="#f7f6e6"/><stop offset="0.5711" stop-color="#f7f6e8"/><stop offset="0.5850" stop-color="#f8f7e9"/><stop offset="0.6048" stop-color="#f9f8ec"/><stop offset="0.6246" stop-color="#f9f9ee"/><stop offset="0.6443" stop-color="#fafaf1"/><stop offset="0.6641" stop-color="#fbfbf3"/><stop offset="0.6838" stop-color="#fbfbf4"/><stop offset="0.7036" stop-color="#fcfcf5"/><stop offset="0.7234" stop-color="#fcfcf6"/><stop offset="0.7431" stop-color="#fcfcf7"/><stop offset="0.7629" stop-color="#fdfdf8"/><stop offset="0.7826" stop-color="#fdfdf9"/><stop offset="0.7933" stop-color="#fdfdf9"/><stop offset="0.8024" stop-color="#fdfdfa"/><stop offset="0.8222" stop-color="#fdfdfa"/><stop offset="0.8419" stop-color="#fefefb"/><stop offset="0.8617" stop-color="#fefefb"/><stop offset="0.8814" stop-color="#fefefc"/><stop offset="0.9012" stop-color="#fefefc"/><stop offset="0.9210" stop-color="#fefefd"/><stop offset="0.9407" stop-color="#fefefd"/><stop offset="0.9605" stop-color="#fffffe"/><stop offset="0.9802" stop-color="#fffffe"/><stop offset="1.0000" stop-color="#ffffff"/></linearGradient><linearGradient id="g23"><stop offset="0.0000" stop-color="#ffffff"/><stop offset="0.0078" stop-color="#fefefb"/><stop offset="0.0137" stop-color="#fdfdf9"/><stop offset="0.0181" stop-color="#fdfdf8"/><stop offset="0.0273" stop-color="#fcfcf6"/><stop offset="0.0410" stop-color="#fbfbf4"/><stop offset="0.0439" stop-color="#fbfbf3"/><stop offset="0.0547" stop-color="#fafaf2"/><stop offset="0.0684" stop-color="#fafaf0"/><stop offset="0.0820" stop-color="#f9f9ed"/><stop offset="0.0956" stop-color="#f8f8eb"/><stop offset="0.0957" stop-color="#f8f8eb"/><stop offset="0.1094" stop-color="#f7f6e8"/><stop offset="0.1231" stop-color="#f6f5e4"/><stop offset="0.1367" stop-color="#f5f4e0"/><stop offset="0.1504" stop-color="#f4f2dd"/><stop offset="0.1576" stop-color="#f3f1db"/><stop offset="0.1641" stop-color="#f2f0d8"/><stop offset="0.1778" stop-color="#f0eed1"/><stop offset="0.1914" stop-color="#eeecca"/><stop offset="0.2041" stop-color="#edeac3"/><stop offset="0.2051" stop-color="#ece9c2"/><stop offset="0.2188" stop-color="#e9e6b5"/><stop offset="0.2325" stop-color="#e6e2a8"/><stop offset="0.2351" stop-color="#e5e1a6"/><stop offset="0.2461" stop-color="#e0db91"/><stop offset="0.2532" stop-color="#ddd783"/><stop offset="0.2598" stop-color="#d8d26f"/><stop offset="0.2636" stop-color="#d6cf63"/><stop offset="0.2718" stop-color="#cfc746"/><stop offset="0.2735" stop-color="#cec643"/><stop offset="0.2780" stop-color="#ccc43c"/><stop offset="0.2842" stop-color="#c6bf31"/><stop offset="0.2871" stop-color="#b3b731"/><stop offset="0.2879" stop-color="#abb42e"/><stop offset="0.2915" stop-color="#c7a530"/><stop offset="0.2951" stop-color="#dc822a"/><stop offset="0.2997" stop-color="#e47128"/><stop offset="0.3008" stop-color="#e56f28"/><stop offset="0.3121" stop-color="#e85d28"/><stop offset="0.3145" stop-color="#e84a28"/><stop offset="0.3152" stop-color="#e84328"/><stop offset="0.3183" stop-color="#e83825"/><stop offset="0.3282" stop-color="#e83122"/><stop offset="0.3380" stop-color="#e83825"/><stop offset="0.3411" stop-color="#e84328"/><stop offset="0.3442" stop-color="#e85d28"/><stop offset="0.3479" stop-color="#e86328"/><stop offset="0.3576" stop-color="#e47128"/><stop offset="0.3623" stop-color="#dc822a"/><stop offset="0.3664" stop-color="#c7a530"/><stop offset="0.3677" stop-color="#c5ad30"/><stop offset="0.3705" stop-color="#abb42e"/><stop offset="0.3747" stop-color="#c6bf31"/><stop offset="0.3829" stop-color="#ccc43c"/><stop offset="0.3874" stop-color="#d0c849"/><stop offset="0.3902" stop-color="#d4cd5b"/><stop offset="0.4005" stop-color="#ddd783"/><stop offset="0.4072" stop-color="#e1db92"/><stop offset="0.4160" stop-color="#e5e1a6"/><stop offset="0.4270" stop-color="#e8e4b1"/><stop offset="0.4367" stop-color="#ebe7bb"/><stop offset="0.4467" stop-color="#ece9c1"/><stop offset="0.4665" stop-color="#efedcd"/><stop offset="0.4677" stop-color="#efedce"/><stop offset="0.4862" stop-color="#f1efd5"/><stop offset="0.5060" stop-color="#f3f1db"/><stop offset="0.5090" stop-color="#f3f2dc"/><stop offset="0.5258" stop-color="#f5f3e0"/><stop offset="0.5455" stop-color="#f6f5e3"/><stop offset="0.5653" stop-color="#f7f6e7"/><stop offset="0.5711" stop-color="#f7f7e8"/><stop offset="0.5850" stop-color="#f8f7ea"/><stop offset="0.6048" stop-color="#f9f8ec"/><stop offset="0.6246" stop-color="#faf9ef"/><stop offset="0.6443" stop-color="#fafaf1"/><stop offset="0.6641" stop-color="#fbfbf3"/><stop offset="0.6838" stop-color="#fbfbf4"/><stop offset="0.7036" stop-color="#fcfcf5"/><stop offset="0.7234" stop-color="#fcfcf6"/><stop offset="0.7431" stop-color="#fcfcf7"/><stop offset="0.7629" stop-color="#fdfdf8"/><stop offset="0.7826" stop-color="#fdfdf9"/><stop offset="0.7933" stop-color="#fdfdfa"/><stop offset="0.8222" stop-color="#fdfdfa"/><stop offset="0.8419" stop-color="#fefefb"/><stop offset="0.8617" stop-color="#fefefb"/><stop offset="0.8814" stop-color="#fefefc"/><stop offset="0.9012" stop-color="#fefefc"/><stop offset="0.9210" stop-color="#fefefd"/><stop offset="0.9407" stop-color="#fefefd"/><stop offset="0.9605" stop-color="#fffffe"/><stop offset="0.9802" stop-color="#fffffe"/><stop offset="1.0000" stop-color="#ffffff"/></linearGradient><linearGradient id="g24"><stop offset="0.0000" stop-color="#ffffff"/><stop offset="0.0078" stop-color="#fefefb"/><stop offset="0.0137" stop-color="#fdfdf9"/><stop offset="0.0181" stop-color="#fdfdf8"/><stop offset="0.0273" stop-color="#fcfcf6"/><stop offset="0.0410" stop-color="#fbfbf4"/><stop offset="0.0439" stop-color="#fbfbf3"/><stop offset="0.0547" stop-color="#fbfbf2"/><stop offset="0.0684" stop-color="#fafaf0"/><stop offset="0.0820" stop-color="#f9f9ee"/><stop offset="0.0956" stop-color="#f9f8ec"/><stop offset="0.0957" stop-color="#f9f8ec"/><stop offset="0.1094" stop-color="#f7f7e8"/><stop offset="0.1231" stop-color="#f6f5e5"/><stop offset="0.1367" stop-color="#f5f4e1"/><stop offset="0.1504" stop-color="#f4f3de"/><stop offset="0.1576" stop-color="#f3f2dc"/><stop offset="0.1641" stop-color="#f2f1d9"/><stop offset="0.1778" stop-color="#f1eed3"/><stop offset="0.1914" stop-color="#efeccc"/><stop offset="0.2041" stop-color="#edeac5"/><stop offset="0.2051" stop-color="#edeac4"/><stop offset="0.2188" stop-color="#eae6b8"/><stop offset="0.2325" stop-color="#e7e3ab"/><stop offset="0.2351" stop-color="#e6e2a9"/><stop offset="0.2461" stop-color="#e1dc95"/><stop offset="0.2532" stop-color="#ded888"/><stop offset="0.2598" stop-color="#d9d374"/><stop offset="0.2636" stop-color="#d7d068"/><stop offset="0.2718" stop-color="#d0c849"/><stop offset="0.2735" stop-color="#cfc746"/><stop offset="0.2780" stop-color="#cdc53f"/><stop offset="0.2842" stop-color="#c7c030"/><stop offset="0.2871" stop-color="#b8b832"/><stop offset="0.2879" stop-color="#b0b630"/><stop offset="0.2915" stop-color="#c6aa30"/><stop offset="0.2951" stop-color="#da862b"/><stop offset="0.2997" stop-color="#e27528"/><stop offset="0.3008" stop-color="#e37328"/><stop offset="0.3121" stop-color="#e86228"/><stop offset="0.3145" stop-color="#e85028"/><stop offset="0.3152" stop-color="#e84a28"/><stop offset="0.3183" stop-color="#e83e27"/><stop offset="0.3282" stop-color="#e83825"/><stop offset="0.3380" stop-color="#e83e27"/><stop offset="0.3411" stop-color="#e84a28"/><stop offset="0.3442" stop-color="#e86228"/><stop offset="0.3479" stop-color="#e86728"/><stop offset="0.3576" stop-color="#e27528"/><stop offset="0.3623" stop-color="#da862b"/><stop offset="0.3664" stop-color="#c6aa30"/><stop offset="0.3677" stop-color="#c1b030"/><stop offset="0.3705" stop-color="#b0b630"/><stop offset="0.3747" stop-color="#c7c030"/><stop offset="0.3829" stop-color="#cdc53f"/><stop offset="0.3874" stop-color="#d2ca4f"/><stop offset="0.3902" stop-color="#d5ce61"/><stop offset="0.4005" stop-color="#ded888"/><stop offset="0.4072" stop-color="#e1dc96"/><stop offset="0.4160" stop-color="#e6e2a9"/><stop offset="0.4270" stop-color="#e9e5b4"/><stop offset="0.4367" stop-color="#ebe8bd"/><stop offset="0.4467" stop-color="#edeac3"/><stop offset="0.4665" stop-color="#f0edcf"/><stop offset="0.4677" stop-color="#f0edcf"/><stop offset="0.4862" stop-color="#f2efd6"/><stop offset="0.5060" stop-color="#f4f2dd"/><stop offset="0.5090" stop-color="#f4f2de"/><stop offset="0.5258" stop-color="#f5f4e1"/><stop offset="0.5455" stop-color="#f6f5e4"/><stop offset="0.5653" stop-color="#f7f7e8"/><stop offset="0.5711" stop-color="#f8f7e9"/><stop offset="0.5850" stop-color="#f8f8eb"/><stop offset="0.6048" stop-color="#f9f9ed"/><stop offset="0.6246" stop-color="#fafaef"/><stop offset="0.6443" stop-color="#fafaf1"/><stop offset="0.6641" stop-color="#fbfbf3"/><stop offset="0.6838" stop-color="#fbfbf4"/><stop offset="0.7036" stop-color="#fcfcf5"/><stop offset="0.7234" stop-color="#fcfcf6"/><stop offset="0.7431" stop-color="#fcfcf7"/><stop offset="0.7629" stop-color="#fdfdf8"/><stop offset="0.7826" stop-color="#fdfdf9"/><stop offset="0.7933" stop-color="#fdfdfa"/><stop offset="0.8222" stop-color="#fdfdfa"/><stop offset="0.8419" stop-color="#fefefb"/><stop offset="0.8617" stop-color="#fefefb"/><stop offset="0.8814" stop-color="#fefefc"/><stop offset="0.9012" stop-color="#fefefc"/><stop offset="0.9210" stop-color="#fefefd"/><stop offset="0.9407" stop-color="#fefefd"/><stop offset="0.9605" stop-color="#fffffe"/><stop offset="0.9802" stop-color="#fffffe"/><stop offset="1.0000" stop-color="#ffffff"/></linearGradient><linearGradient id="g25"><stop offset="0.0000" stop-color="#ffffff"/><stop offset="0.0078" stop-color="#fefefb"/><stop offset="0.0137" stop-color="#fdfdf9"/><stop offset="0.0181" stop-color="#fdfdf8"/><stop offset="0.0273" stop-color="#fcfcf7"/><stop offset="0.0410" stop-color="#fbfbf4"/><stop offset="0.0439" stop-color="#fbfbf4"/><stop offset="0.0547" stop-color="#fbfbf2"/><stop offset="0.0684" stop-color="#fafaf1"/><stop offset="0.0820" stop-color="#faf9ef"/><stop offset="0.0956" stop-color="#f9f9ed"/><stop offset="0.0957" stop-color="#f9f9ec"/><stop offset="0.1094" stop-color="#f8f7e9"/><stop offset="0.1231" stop-color="#f7f6e6"/><stop offset="0.1367" stop-color="#f6f4e3"/><stop offset="0.1504" stop-color="#f4f3df"/><stop offset="0.1576" stop-color="#f4f2dd"/><stop offset="0.1641" stop-color="#f3f1db"/><stop offset="0.1778" stop-color="#f1efd4"/><stop offset="0.1914" stop-color="#efedce"/><stop offset="0.2041" stop-color="#eeebc7"/><stop offset="0.2051" stop-color="#eeebc6"/><stop offset="0.2188" stop-color="#ebe7ba"/><stop offset="0.2325" stop-color="#e8e4ae"/><stop offset="0.2351" stop-color="#e7e3ac"/><stop offset="0.2461" stop-color="#e2dd99"/><stop offset="0.2532" stop-color="#dfda8c"/><stop offset="0.2598" stop-color="#dad478"/><stop offset="0.2636" stop-color="#d8d16d"/><stop offset="0.2718" stop-color="#d2ca4f"/><stop offset="0.2735" stop-color="#d0c84a"/><stop offset="0.2780" stop-color="#cec642"/><stop offset="0.2842" stop-color="#c9c132"/><stop offset="0.2871" stop-color="#bdba34"/><stop offset="0.2879" stop-color="#b6b731"/><stop offset="0.2915" stop-color="#c4af30"/><stop offset="0.2951" stop-color="#d78b2c"/><stop offset="0.2997" stop-color="#e07928"/><stop offset="0.3008" stop-color="#e17828"/><stop offset="0.3121" stop-color="#e86728"/><stop offset="0.3145" stop-color="#e85628"/><stop offset="0.3152" stop-color="#e85028"/><stop offset="0.3183" stop-color="#e84528"/><stop offset="0.3282" stop-color="#e83f28"/><stop offset="0.3380" stop-color="#e84528"/><stop offset="0.3411" stop-color="#e85028"/><stop offset="0.3442" stop-color="#e86728"/><stop offset="0.3479" stop-color="#e66c28"/><stop offset="0.3576" stop-color="#e07928"/><stop offset="0.3623" stop-color="#d78b2c"/><stop offset="0.3664" stop-color="#c4af30"/><stop offset="0.3677" stop-color="#b8b22f"/><stop offset="0.3705" stop-color="#b6b731"/><stop offset="0.3747" stop-color="#c9c132"/><stop offset="0.3829" stop-color="#cec642"/><stop offset="0.3874" stop-color="#d3cb55"/><stop offset="0.3902" stop-color="#d6cf66"/><stop offset="0.4005" stop-color="#dfda8c"/><stop offset="0.4072" stop-color="#e2de9a"/><stop offset="0.4160" stop-color="#e7e3ac"/><stop offset="0.4270" stop-color="#eae6b6"/><stop offset="0.4367" stop-color="#ece9bf"/><stop offset="0.4467" stop-color="#edeac5"/><stop offset="0.4665" stop-color="#f0eed1"/><stop offset="0.4677" stop-color="#f0eed1"/><stop offset="0.4862" stop-color="#f2f0d8"/><stop offset="0.5060" stop-color="#f4f2de"/><stop offset="0.5090" stop-color="#f4f3df"/><stop offset="0.5258" stop-color="#f5f4e2"/><stop offset="0.5455" stop-color="#f6f6e5"/><stop offset="0.5653" stop-color="#f8f7e9"/><stop offset="0.5711" stop-color="#f8f7ea"/><stop offset="0.5850" stop-color="#f8f8eb"/><stop offset="0.6048" stop-color="#f9f9ee"/><stop offset="0.6246" stop-color="#fafaf0"/><stop offset="0.6443" stop-color="#fbfbf2"/><stop offset="0.6641" stop-color="#fbfbf4"/><stop offset="0.6838" stop-color="#fcfcf5"/><stop offset="0.7036" stop-color="#fcfcf6"/><stop offset="0.7234" stop-color="#fcfcf7"/><stop offset="0.7431" stop-color="#fdfdf8"/><stop offset="0.7629" stop-color="#fdfdf8"/><stop offset="0.7826" stop-color="#fdfdf9"/><stop offset="0.7933" stop-color="#fdfdfa"/><stop offset="0.8024" stop-color="#fdfdfa"/><stop offset="0.8222" stop-color="#fefefb"/><stop offset="0.8419" stop-color="#fefefb"/><stop offset="0.8617" stop-color="#fefefc"/><stop offset="0.8814" stop-color="#fefefc"/><stop offset="0.9012" stop-color="#fefefd"/><stop offset="0.9210" stop-color="#fefefd"/><stop offset="0.9407" stop-color="#fffffe"/><stop offset="0.9605" stop-color="#fffffe"/><stop offset="0.9802" stop-color="#ffffff"/><stop offset="1.0000" stop-color="#ffffff"/></linearGradient><linearGradient id="g26"><stop offset="0.0000" stop-color="#ffffff"/><stop offset="0.0078" stop-color="#fefefb"/><stop offset="0.0137" stop-color="#fdfdfa"/><stop offset="0.0181" stop-color="#fdfdf8"/><stop offset="0.0273" stop-color="#fcfcf7"/><stop offset="0.0410" stop-color="#fcfcf5"/><stop offset="0.0439" stop-color="#fbfbf4"/><stop offset="0.0547" stop-color="#fbfbf3"/><stop offset="0.0684" stop-color="#fafaf1"/><stop offset="0.0820" stop-color="#fafaef"/><stop offset="0.0956" stop-color="#f9f9ed"/><stop offset="0.0957" stop-color="#f9f9ed"/><stop offset="0.1094" stop-color="#f8f7ea"/><stop offset="0.1231" stop-color="#f7f6e7"/><stop offset="0.1367" stop-color="#f6f5e4"/><stop offset="0.1504" stop-color="#f5f3e0"/><stop offset="0.1576" stop-color="#f4f3df"/><stop offset="0.1641" stop-color="#f3f2dc"/><stop offset="0.1778" stop-color="#f2efd6"/><stop offset="0.1914" stop-color="#f0edd0"/><stop offset="0.2041" stop-color="#eeecc9"/><stop offset="0.2051" stop-color="#eeebc9"/><stop offset="0.2188" stop-color="#ebe8bd"/><stop offset="0.2325" stop-color="#e8e4b1"/><stop offset="0.2351" stop-color="#e8e4af"/><stop offset="0.2461" stop-color="#e3de9c"/><stop offset="0.2532" stop-color="#e0db90"/><stop offset="0.2598" stop-color="#dbd57d"/><stop offset="0.2636" stop-color="#d9d372"/><stop offset="0.2718" stop-color="#d3cb55"/><stop offset="0.2735" stop-color="#d2ca50"/><stop offset="0.2780" stop-color="#cfc744"/><stop offset="0.2842" stop-color="#cac235"/><stop offset="0.2871" stop-color="#c0bb33"/><stop offset="0.2879" stop-color="#bbb933"/><stop offset="0.2915" stop-color="#bdb12f"/><stop offset="0.2951" stop-color="#d3912d"/><stop offset="0.2997" stop-color="#de7e29"/><stop offset="0.3008" stop-color="#df7d29"/><stop offset="0.3121" stop-color="#e66c28"/><stop offset="0.3145" stop-color="#e85c28"/><stop offset="0.3152" stop-color="#e85728"/><stop offset="0.3183" stop-color="#e84c28"/><stop offset="0.3282" stop-color="#e84628"/><stop offset="0.3380" stop-color="#e84c28"/><stop offset="0.3411" stop-color="#e85728"/><stop offset="0.3442" stop-color="#e66c28"/><stop offset="0.3479" stop-color="#e47128"/><stop offset="0.3576" stop-color="#de7e29"/><stop offset="0.3623" stop-color="#d3912d"/><stop offset="0.3664" stop-color="#bdb12f"/><stop offset="0.3677" stop-color="#afb32e"/><stop offset="0.3705" stop-color="#bbb933"/><stop offset="0.3747" stop-color="#cac235"/><stop offset="0.3829" stop-color="#cfc744"/><stop offset="0.3874" stop-color="#d4cd5b"/><stop offset="0.3902" stop-color="#d8d16b"/><stop offset="0.4005" stop-color="#e0db90"/><stop offset="0.4072" stop-color="#e3df9e"/><stop offset="0.4160" stop-color="#e8e4af"/><stop offset="0.4270" stop-color="#eae7b9"/><stop offset="0.4367" stop-color="#ece9c2"/><stop offset="0.4467" stop-color="#eeebc8"/><stop offset="0.4665" stop-color="#f1eed2"/><stop offset="0.4677" stop-color="#f1efd3"/><stop offset="0.4862" stop-color="#f2f1d9"/><stop offset="0.5060" stop-color="#f4f3df"/><stop offset="0.5090" stop-color="#f5f3e0"/><stop offset="0.5258" stop-color="#f6f5e3"/><stop offset="0.5455" stop-color="#f7f6e6"/><stop offset="0.5653" stop-color="#f8f7ea"/><stop offset="0.5711" stop-color="#f8f8eb"/><stop offset="0.5850" stop-color="#f9f8ec"/><stop offset="0.6048" stop-color="#f9f9ee"/><stop offset="0.6246" stop-color="#fafaf0"/><stop offset="0.6443" stop-color="#fbfbf2"/><stop offset="0.6641" stop-color="#fbfbf4"/><stop offset="0.6838" stop-color="#fcfcf5"/><stop offset="0.7036" stop-color="#fcfcf6"/><stop offset="0.7234" stop-color="#fcfcf7"/><stop offset="0.7431" stop-color="#fdfdf8"/><stop offset="0.7629" stop-color="#fdfdf9"/><stop offset="0.7826" stop-color="#fdfdfa"/><stop offset="0.8024" stop-color="#fdfdfa"/><stop offset="0.8222" stop-color="#fefefb"/><stop offset="0.8419" stop-color="#fefefb"/><stop offset="0.8617" stop-color="#fefefc"/><stop offset="0.8814" stop-color="#fefefc"/><stop offset="0.9012" stop-color="#fefefd"/><stop offset="0.9210" stop-color="#fefefd"/><stop offset="0.9407" stop-color="#fffffe"/><stop offset="0.9605" stop-color="#fffffe"/><stop offset="0.9802" stop-color="#ffffff"/><stop offset="1.0000" stop-color="#ffffff"/></linearGradient><linearGradient id="g27"><stop offset="0.0000" stop-color="#ffffff"/><stop offset="0.0078" stop-color="#fefefb"/><stop offset="0.0137" stop-color="#fdfdfa"/><stop offset="0.0181" stop-color="#fdfdf9"/><stop offset="0.0273" stop-color="#fcfcf7"/><stop offset="0.0410" stop-color="#fcfcf5"/><stop offset="0.0439" stop-color="#fcfcf4"/><stop offset="0.0547" stop-color="#fbfbf3"/><stop offset="0.0684" stop-color="#fbfbf2"/><stop offset="0.0820" stop-color="#fafaf0"/><stop offset="0.0956" stop-color="#f9f9ee"/><stop offset="0.0957" stop-color="#f9f9ee"/><stop offset="0.1094" stop-color="#f8f8eb"/><stop offset="0.1231" stop-color="#f7f7e8"/><stop offset="0.1367" stop-color="#f6f5e5"/><stop offset="0.1504" stop-color="#f5f4e1"/><stop offset="0.1576" stop-color="#f5f3e0"/><stop offset="0.1641" stop-color="#f4f2dd"/><stop offset="0.1778" stop-color="#f2f0d8"/><stop offset="0.1914" stop-color="#f0eed2"/><stop offset="0.2041" stop-color="#efeccc"/><stop offset="0.2051" stop-color="#efeccb"/><stop offset="0.2188" stop-color="#ece9c0"/><stop offset="0.2325" stop-color="#e9e5b5"/><stop offset="0.2351" stop-color="#e9e5b2"/><stop offset="0.2461" stop-color="#e4dfa0"/><stop offset="0.2532" stop-color="#e1dc95"/><stop offset="0.2598" stop-color="#dcd682"/><stop offset="0.2636" stop-color="#dad477"/><stop offset="0.2718" stop-color="#d4cd5b"/><stop offset="0.2735" stop-color="#d3cb56"/><stop offset="0.2780" stop-color="#d0c847"/><stop offset="0.2842" stop-color="#cbc338"/><stop offset="0.2871" stop-color="#c1bc33"/><stop offset="0.2879" stop-color="#bfbb34"/><stop offset="0.2915" stop-color="#b3b32f"/><stop offset="0.2951" stop-color="#ce972e"/><stop offset="0.2997" stop-color="#db832a"/><stop offset="0.3008" stop-color="#dc822a"/><stop offset="0.3121" stop-color="#e47128"/><stop offset="0.3145" stop-color="#e86128"/><stop offset="0.3152" stop-color="#e85c28"/><stop offset="0.3183" stop-color="#e85328"/><stop offset="0.3282" stop-color="#e84d28"/><stop offset="0.3380" stop-color="#e85328"/><stop offset="0.3411" stop-color="#e85c28"/><stop offset="0.3442" stop-color="#e47128"/><stop offset="0.3479" stop-color="#e27628"/><stop offset="0.3576" stop-color="#db832a"/><stop offset="0.3623" stop-color="#ce972e"/><stop offset="0.3664" stop-color="#b3b32f"/><stop offset="0.3677" stop-color="#acb52f"/><stop offset="0.3705" stop-color="#bfbb34"/><stop offset="0.3747" stop-color="#cbc338"/><stop offset="0.3829" stop-color="#d0c847"/><stop offset="0.3874" stop-color="#d5ce61"/><stop offset="0.3902" stop-color="#d9d270"/><stop offset="0.4005" stop-color="#e1dc95"/><stop offset="0.4072" stop-color="#e4e0a1"/><stop offset="0.4160" stop-color="#e9e5b2"/><stop offset="0.4270" stop-color="#ebe8bc"/><stop offset="0.4367" stop-color="#edeac4"/><stop offset="0.4467" stop-color="#eeecca"/><stop offset="0.4665" stop-color="#f1efd4"/><stop offset="0.4677" stop-color="#f1efd5"/><stop offset="0.4862" stop-color="#f3f1db"/><stop offset="0.5060" stop-color="#f5f3e0"/><stop offset="0.5090" stop-color="#f5f4e1"/><stop offset="0.5258" stop-color="#f6f5e4"/><stop offset="0.5455" stop-color="#f7f6e7"/><stop offset="0.5653" stop-color="#f8f8ea"/><stop offset="0.5711" stop-color="#f8f8eb"/><stop offset="0.5850" stop-color="#f9f9ed"/><stop offset="0.6048" stop-color="#fafaef"/><stop offset="0.6246" stop-color="#fafaf1"/><stop offset="0.6443" stop-color="#fbfbf3"/><stop offset="0.6641" stop-color="#fcfcf4"/><stop offset="0.6838" stop-color="#fcfcf5"/><stop offset="0.7036" stop-color="#fcfcf6"/><stop offset="0.7234" stop-color="#fcfcf7"/><stop offset="0.7431" stop-color="#fdfdf8"/><stop offset="0.7629" stop-color="#fdfdf9"/><stop offset="0.7826" stop-color="#fdfdfa"/><stop offset="0.8024" stop-color="#fdfdfa"/><stop offset="0.8222" stop-color="#fefefb"/><stop offset="0.8419" stop-color="#fefefb"/><stop offset="0.8617" stop-color="#fefefc"/><stop offset="0.8814" stop-color="#fefefc"/><stop offset="0.9012" stop-color="#fefefd"/><stop offset="0.9210" stop-color="#fefefd"/><stop offset="0.9407" stop-color="#fffffe"/><stop offset="0.9605" stop-color="#fffffe"/><stop offset="0.9802" stop-color="#ffffff"/><stop offset="1.0000" stop-color="#ffffff"/></linearGradient><linearGradient id="g28"><stop offset="0.0000" stop-color="#ffffff"/><stop offset="0.0078" stop-color="#fefefb"/><stop offset="0.0137" stop-color="#fdfdfa"/><stop offset="0.0181" stop-color="#fdfdf9"/><stop offset="0.0273" stop-color="#fcfcf7"/><stop offset="0.0410" stop-color="#fcfcf5"/><stop offset="0.0439" stop-color="#fcfcf5"/><stop offset="0.0547" stop-color="#fbfbf4"/><stop offset="0.0684" stop-color="#fbfbf2"/><stop offset="0.0820" stop-color="#fafaf0"/><stop offset="0.0956" stop-color="#faf9ef"/><stop offset="0.0957" stop-color="#faf9ef"/><stop offset="0.1094" stop-color="#f9f8ec"/><stop offset="0.1231" stop-color="#f8f7e9"/><stop offset="0.1367" stop-color="#f7f6e6"/><stop offset="0.1504" stop-color="#f6f4e3"/><stop offset="0.1576" stop-color="#f5f4e1"/><stop offset="0.1641" stop-color="#f4f3df"/><stop offset="0.1778" stop-color="#f2f1d9"/><stop offset="0.1914" stop-color="#f1efd4"/><stop offset="0.2041" stop-color="#efedce"/><stop offset="0.2051" stop-color="#efedcd"/><stop offset="0.2188" stop-color="#ede9c2"/><stop offset="0.2325" stop-color="#eae6b8"/><stop offset="0.2351" stop-color="#e9e6b5"/><stop offset="0.2461" stop-color="#e5e1a4"/><stop offset="0.2532" stop-color="#e2dd99"/><stop offset="0.2598" stop-color="#ded886"/><stop offset="0.2636" stop-color="#dbd57c"/><stop offset="0.2718" stop-color="#d5ce61"/><stop offset="0.2735" stop-color="#d4cd5c"/><stop offset="0.2780" stop-color="#d1c94d"/><stop offset="0.2842" stop-color="#ccc43c"/><stop offset="0.2871" stop-color="#c3bd32"/><stop offset="0.2879" stop-color="#c1bc33"/><stop offset="0.2915" stop-color="#aab42e"/><stop offset="0.2951" stop-color="#ca9d2f"/><stop offset="0.2997" stop-color="#d9892c"/><stop offset="0.3008" stop-color="#da872b"/><stop offset="0.3121" stop-color="#e27628"/><stop offset="0.3145" stop-color="#e86728"/><stop offset="0.3152" stop-color="#e86228"/><stop offset="0.3183" stop-color="#e85a28"/><stop offset="0.3282" stop-color="#e85428"/><stop offset="0.3380" stop-color="#e85a28"/><stop offset="0.3411" stop-color="#e86228"/><stop offset="0.3442" stop-color="#e27628"/><stop offset="0.3479" stop-color="#e07a28"/><stop offset="0.3576" stop-color="#d9892c"/><stop offset="0.3623" stop-color="#ca9d2f"/><stop offset="0.3664" stop-color="#aab42e"/><stop offset="0.3677" stop-color="#b3b731"/><stop offset="0.3705" stop-color="#c1bc33"/><stop offset="0.3747" stop-color="#ccc43c"/><stop offset="0.3829" stop-color="#d1c94d"/><stop offset="0.3874" stop-color="#d6d066"/><stop offset="0.3902" stop-color="#dad376"/><stop offset="0.4005" stop-color="#e2dd99"/><stop offset="0.4072" stop-color="#e5e1a5"/><stop offset="0.4160" stop-color="#e9e6b5"/><stop offset="0.4270" stop-color="#ece8bf"/><stop offset="0.4367" stop-color="#eeebc7"/><stop offset="0.4467" stop-color="#efeccc"/><stop offset="0.4665" stop-color="#f2efd6"/><stop offset="0.4677" stop-color="#f2f0d7"/><stop offset="0.4862" stop-color="#f3f2dc"/><stop offset="0.5060" stop-color="#f5f4e1"/><stop offset="0.5090" stop-color="#f5f4e2"/><stop offset="0.5258" stop-color="#f6f5e5"/><stop offset="0.5455" stop-color="#f7f7e8"/><stop offset="0.5653" stop-color="#f8f8eb"/><stop offset="0.5711" stop-color="#f9f8ec"/><stop offset="0.5850" stop-color="#f9f9ee"/><stop offset="0.6048" stop-color="#fafaf0"/><stop offset="0.6246" stop-color="#fafaf1"/><stop offset="0.6443" stop-color="#fbfbf3"/><stop offset="0.6641" stop-color="#fcfcf5"/><stop offset="0.6838" stop-color="#fcfcf6"/><stop offset="0.7036" stop-color="#fcfcf7"/><stop offset="0.7234" stop-color="#fcfcf7"/><stop offset="0.7431" stop-color="#fdfdf8"/><stop offset="0.7629" stop-color="#fdfdf9"/><stop offset="0.7826" stop-color="#fdfdfa"/><stop offset="0.7933" stop-color="#fdfdfa"/><stop offset="0.8024" stop-color="#fefefb"/><stop offset="0.8222" stop-color="#fefefb"/><stop offset="0.8419" stop-color="#fefefc"/><stop offset="0.8814" stop-color="#fefefc"/><stop offset="0.9012" stop-color="#fefefd"/><stop offset="0.9210" stop-color="#fefefd"/><stop offset="0.9407" stop-color="#fffffe"/><stop offset="0.9605" stop-color="#fffffe"/><stop offset="0.9802" stop-color="#ffffff"/><stop offset="1.0000" stop-color="#ffffff"/></linearGradient><linearGradient id="g29"><stop offset="0.0000" stop-color="#ffffff"/><stop offset="0.0078" stop-color="#fefefc"/><stop offset="0.0137" stop-color="#fdfdfa"/><stop offset="0.0181" stop-color="#fdfdf9"/><stop offset="0.0273" stop-color="#fdfdf8"/><stop offset="0.0410" stop-color="#fcfcf6"/><stop offset="0.0439" stop-color="#fcfcf5"/><stop offset="0.0547" stop-color="#fbfbf4"/><stop offset="0.0684" stop-color="#fbfbf2"/><stop offset="0.0820" stop-color="#fafaf1"/><stop offset="0.0956" stop-color="#fafaef"/><stop offset="0.0957" stop-color="#fafaef"/><stop offset="0.1094" stop-color="#f9f9ec"/><stop offset="0.1231" stop-color="#f8f7ea"/><stop offset="0.1367" stop-color="#f7f6e7"/><stop offset="0.1504" stop-color="#f6f5e4"/><stop offset="0.1576" stop-color="#f5f4e2"/><stop offset="0.1641" stop-color="#f5f3e0"/><stop offset="0.1778" stop-color="#f3f1db"/><stop offset="0.1914" stop-color="#f1efd5"/><stop offset="0.2041" stop-color="#f0eed0"/><stop offset="0.2051" stop-color="#f0edcf"/><stop offset="0.2188" stop-color="#edeac5"/><stop offset="0.2325" stop-color="#ebe7bb"/><stop offset="0.2351" stop-color="#eae7b9"/><stop offset="0.2461" stop-color="#e6e2a8"/><stop offset="0.2532" stop-color="#e3de9d"/><stop offset="0.2598" stop-color="#dfd98b"/><stop offset="0.2636" stop-color="#dcd681"/><stop offset="0.2718" stop-color="#d7d067"/><stop offset="0.2735" stop-color="#d6cf62"/><stop offset="0.2780" stop-color="#d3cb54"/><stop offset="0.2842" stop-color="#cdc53f"/><stop offset="0.2871" stop-color="#c5be31"/><stop offset="0.2879" stop-color="#c3bd32"/><stop offset="0.2915" stop-color="#b0b630"/><stop offset="0.2951" stop-color="#c7a330"/><stop offset="0.2997" stop-color="#d48f2d"/><stop offset="0.3008" stop-color="#d68d2c"/><stop offset="0.3121" stop-color="#e07b28"/><stop offset="0.3145" stop-color="#e66c28"/><stop offset="0.3152" stop-color="#e86828"/><stop offset="0.3183" stop-color="#e86028"/><stop offset="0.3282" stop-color="#e85b28"/><stop offset="0.3380" stop-color="#e86028"/><stop offset="0.3411" stop-color="#e86828"/><stop offset="0.3442" stop-color="#e07b28"/><stop offset="0.3479" stop-color="#dd8029"/><stop offset="0.3576" stop-color="#d48f2d"/><stop offset="0.3623" stop-color="#c7a330"/><stop offset="0.3664" stop-color="#b0b630"/><stop offset="0.3677" stop-color="#b9b832"/><stop offset="0.3705" stop-color="#c3bd32"/><stop offset="0.3747" stop-color="#cdc53f"/><stop offset="0.3829" stop-color="#d3cb54"/><stop offset="0.3874" stop-color="#d8d16c"/><stop offset="0.3902" stop-color="#dbd57b"/><stop offset="0.4005" stop-color="#e3de9d"/><stop offset="0.4072" stop-color="#e6e2a9"/><stop offset="0.4160" stop-color="#eae7b9"/><stop offset="0.4270" stop-color="#ece9c1"/><stop offset="0.4367" stop-color="#eeecc9"/><stop offset="0.4467" stop-color="#f0edce"/><stop offset="0.4665" stop-color="#f2f0d8"/><stop offset="0.4677" stop-color="#f2f0d9"/><stop offset="0.4862" stop-color="#f4f2dd"/><stop offset="0.5060" stop-color="#f6f4e3"/><stop offset="0.5090" stop-color="#f6f5e3"/><stop offset="0.5258" stop-color="#f7f6e6"/><stop offset="0.5455" stop-color="#f8f7e9"/><stop offset="0.5653" stop-color="#f9f8ec"/><stop offset="0.5711" stop-color="#f9f9ed"/><stop offset="0.5850" stop-color="#f9f9ee"/><stop offset="0.6048" stop-color="#fafaf0"/><stop offset="0.6246" stop-color="#fbfbf2"/><stop offset="0.6443" stop-color="#fbfbf4"/><stop offset="0.6641" stop-color="#fcfcf5"/><stop offset="0.6838" stop-color="#fcfcf6"/><stop offset="0.7036" stop-color="#fcfcf7"/><stop offset="0.7234" stop-color="#fdfdf8"/><stop offset="0.7431" stop-color="#fdfdf9"/><stop offset="0.7629" stop-color="#fdfdf9"/><stop offset="0.7826" stop-color="#fdfdfa"/><stop offset="0.7933" stop-color="#fefefb"/><stop offset="0.8222" stop-color="#fefefb"/><stop offset="0.8419" stop-color="#fefefc"/><stop offset="0.8814" stop-color="#fefefc"/><stop offset="0.9012" stop-color="#fefefd"/><stop offset="0.9210" stop-color="#fefefd"/><stop offset="0.9407" stop-color="#fffffe"/><stop offset="0.9605" stop-color="#fffffe"/><stop offset="0.9802" stop-color="#ffffff"/><stop offset="1.0000" stop-color="#ffffff"/></linearGradient><linearGradient id="g30"><stop offset="0.0000" stop-color="#ffffff"/><stop offset="0.0078" stop-color="#fefefc"/><stop offset="0.0137" stop-color="#fdfdfa"/><stop offset="0.0181" stop-color="#fdfdf9"/><stop offset="0.0273" stop-color="#fdfdf8"/><stop offset="0.0410" stop-color="#fcfcf6"/><stop offset="0.0439" stop-color="#fcfcf6"/><stop offset="0.0547" stop-color="#fbfbf4"/><stop offset="0.0684" stop-color="#fbfbf3"/><stop offset="0.0820" stop-color="#fafaf1"/><stop offset="0.0956" stop-color="#fafaf0"/><stop offset="0.0957" stop-color="#fafaf0"/><stop offset="0.1094" stop-color="#f9f9ed"/><stop offset="0.1231" stop-color="#f8f8ea"/><stop offset="0.1367" stop-color="#f7f7e8"/><stop offset="0.1504" stop-color="#f6f5e5"/><stop offset="0.1576" stop-color="#f6f5e3"/><stop offset="0.1641" stop-color="#f5f4e1"/><stop offset="0.1778" stop-color="#f3f2dc"/><stop offset="0.1914" stop-color="#f2f0d7"/><stop offset="0.2041" stop-color="#f1eed2"/><stop offset="0.2051" stop-color="#f0eed1"/><stop offset="0.2188" stop-color="#eeebc8"/><stop offset="0.2325" stop-color="#ebe8be"/><stop offset="0.2351" stop-color="#ebe7bc"/><stop offset="0.2461" stop-color="#e7e3ac"/><stop offset="0.2532" stop-color="#e4e0a1"/><stop offset="0.2598" stop-color="#e0db90"/><stop offset="0.2636" stop-color="#ded887"/><stop offset="0.2718" stop-color="#d8d16d"/><stop offset="0.2735" stop-color="#d7d068"/><stop offset="0.2780" stop-color="#d4cd5b"/><stop offset="0.2842" stop-color="#cec643"/><stop offset="0.2871" stop-color="#c7bf30"/><stop offset="0.2879" stop-color="#c5be31"/><stop offset="0.2915" stop-color="#b7b832"/><stop offset="0.2951" stop-color="#c6aa30"/><stop offset="0.2997" stop-color="#cf962e"/><stop offset="0.3008" stop-color="#d1942e"/><stop offset="0.3121" stop-color="#dd812a"/><stop offset="0.3145" stop-color="#e47228"/><stop offset="0.3152" stop-color="#e66d28"/><stop offset="0.3183" stop-color="#e86628"/><stop offset="0.3282" stop-color="#e86128"/><stop offset="0.3380" stop-color="#e86628"/><stop offset="0.3411" stop-color="#e66d28"/><stop offset="0.3442" stop-color="#dd812a"/><stop offset="0.3479" stop-color="#da862b"/><stop offset="0.3576" stop-color="#cf962e"/><stop offset="0.3623" stop-color="#c6aa30"/><stop offset="0.3664" stop-color="#b7b832"/><stop offset="0.3677" stop-color="#beba34"/><stop offset="0.3705" stop-color="#c5be31"/><stop offset="0.3747" stop-color="#cec643"/><stop offset="0.3829" stop-color="#d4cd5b"/><stop offset="0.3874" stop-color="#d9d272"/><stop offset="0.3902" stop-color="#dcd680"/><stop offset="0.4005" stop-color="#e4e0a1"/><stop offset="0.4072" stop-color="#e7e3ad"/><stop offset="0.4160" stop-color="#ebe7bc"/><stop offset="0.4270" stop-color="#edeac4"/><stop offset="0.4367" stop-color="#efeccc"/><stop offset="0.4467" stop-color="#f0eed1"/><stop offset="0.4665" stop-color="#f3f1da"/><stop offset="0.4677" stop-color="#f3f1da"/><stop offset="0.4862" stop-color="#f4f3df"/><stop offset="0.5060" stop-color="#f6f5e4"/><stop offset="0.5090" stop-color="#f6f5e5"/><stop offset="0.5258" stop-color="#f7f6e7"/><stop offset="0.5455" stop-color="#f8f8ea"/><stop offset="0.5653" stop-color="#f9f9ed"/><stop offset="0.5711" stop-color="#f9f9ee"/><stop offset="0.5850" stop-color="#fafaef"/><stop offset="0.6048" stop-color="#fafaf1"/><stop offset="0.6246" stop-color="#fbfbf2"/><stop offset="0.6443" stop-color="#fbfbf4"/><stop offset="0.6641" stop-color="#fcfcf6"/><stop offset="0.6838" stop-color="#fcfcf6"/><stop offset="0.7036" stop-color="#fcfcf7"/><stop offset="0.7234" stop-color="#fdfdf8"/><stop offset="0.7431" stop-color="#fdfdf9"/><stop offset="0.7629" stop-color="#fdfdfa"/><stop offset="0.7826" stop-color="#fdfdfa"/><stop offset="0.7933" stop-color="#fefefb"/><stop offset="0.8222" stop-color="#fefefb"/><stop offset="0.8419" stop-color="#fefefc"/><stop offset="0.8617" stop-color="#fefefc"/><stop offset="0.8814" stop-color="#fefefd"/><stop offset="0.9210" stop-color="#fefefd"/><stop offset="0.9407" stop-color="#fffffe"/><stop offset="0.9605" stop-color="#fffffe"/><stop offset="0.9802" stop-color="#ffffff"/><stop offset="1.0000" stop-color="#ffffff"/></linearGradient><linearGradient id="g31"><stop offset="0.0000" stop-color="#ffffff"/><stop offset="0.0078" stop-color="#fefefc"/><stop offset="0.0137" stop-color="#fefefb"/><stop offset="0.0181" stop-color="#fdfdfa"/><stop offset="0.0273" stop-color="#fdfdf8"/><stop offset="0.0410" stop-color="#fcfcf6"/><stop offset="0.0439" stop-color="#fcfcf6"/><stop offset="0.0547" stop-color="#fcfcf5"/><stop offset="0.0684" stop-color="#fbfbf3"/><stop offset="0.0820" stop-color="#fbfbf2"/><stop offset="0.0956" stop-color="#fafaf1"/><stop offset="0.0957" stop-color="#fafaf1"/><stop offset="0.1094" stop-color="#f9f9ee"/><stop offset="0.1231" stop-color="#f8f8eb"/><stop offset="0.1367" stop-color="#f8f7e9"/><stop offset="0.1504" stop-color="#f7f6e6"/><stop offset="0.1576" stop-color="#f6f5e5"/><stop offset="0.1641" stop-color="#f5f4e2"/><stop offset="0.1778" stop-color="#f4f2de"/><stop offset="0.1914" stop-color="#f2f1d9"/><stop offset="0.2041" stop-color="#f1efd4"/><stop offset="0.2051" stop-color="#f1efd4"/><stop offset="0.2188" stop-color="#efecca"/><stop offset="0.2325" stop-color="#ece9c1"/><stop offset="0.2351" stop-color="#ece8bf"/><stop offset="0.2461" stop-color="#e8e4b0"/><stop offset="0.2532" stop-color="#e5e1a6"/><stop offset="0.2598" stop-color="#e1dc95"/><stop offset="0.2636" stop-color="#dfda8c"/><stop offset="0.2718" stop-color="#d9d373"/><stop offset="0.2735" stop-color="#d8d26f"/><stop offset="0.2780" stop-color="#d5ce61"/><stop offset="0.2842" stop-color="#cfc746"/><stop offset="0.2871" stop-color="#c9c132"/><stop offset="0.2879" stop-color="#c6bf31"/><stop offset="0.2915" stop-color="#bdba34"/><stop offset="0.2951" stop-color="#c4b030"/><stop offset="0.2997" stop-color="#ca9d2f"/><stop offset="0.3008" stop-color="#cc9b2f"/><stop offset="0.3121" stop-color="#da862b"/><stop offset="0.3145" stop-color="#e17728"/><stop offset="0.3152" stop-color="#e37328"/><stop offset="0.3183" stop-color="#e66b28"/><stop offset="0.3282" stop-color="#e86728"/><stop offset="0.3380" stop-color="#e66b28"/><stop offset="0.3411" stop-color="#e37328"/><stop offset="0.3442" stop-color="#da862b"/><stop offset="0.3479" stop-color="#d78c2c"/><stop offset="0.3576" stop-color="#ca9d2f"/><stop offset="0.3623" stop-color="#c4b030"/><stop offset="0.3664" stop-color="#bdba34"/><stop offset="0.3677" stop-color="#c0bb33"/><stop offset="0.3705" stop-color="#c6bf31"/><stop offset="0.3747" stop-color="#cfc746"/><stop offset="0.3829" stop-color="#d5ce61"/><stop offset="0.3874" stop-color="#dad478"/><stop offset="0.3902" stop-color="#ddd886"/><stop offset="0.4005" stop-color="#e5e1a6"/><stop offset="0.4072" stop-color="#e8e4b1"/><stop offset="0.4160" stop-color="#ece8bf"/><stop offset="0.4270" stop-color="#eeebc7"/><stop offset="0.4367" stop-color="#f0edce"/><stop offset="0.4467" stop-color="#f1eed3"/><stop offset="0.4665" stop-color="#f3f1db"/><stop offset="0.4677" stop-color="#f3f2dc"/><stop offset="0.4862" stop-color="#f5f3e0"/><stop offset="0.5060" stop-color="#f6f5e5"/><stop offset="0.5090" stop-color="#f7f6e6"/><stop offset="0.5258" stop-color="#f7f7e8"/><stop offset="0.5455" stop-color="#f8f8eb"/><stop offset="0.5653" stop-color="#f9f9ee"/><stop offset="0.5711" stop-color="#faf9ef"/><stop offset="0.5850" stop-color="#fafaf0"/><stop offset="0.6048" stop-color="#fafaf1"/><stop offset="0.6246" stop-color="#fbfbf3"/><stop offset="0.6443" stop-color="#fbfbf4"/><stop offset="0.6641" stop-color="#fcfcf6"/><stop offset="0.6838" stop-color="#fcfcf7"/><stop offset="0.7036" stop-color="#fdfdf8"/><stop offset="0.7234" stop-color="#fdfdf8"/><stop offset="0.7431" stop-color="#fdfdf9"/><stop offset="0.7629" stop-color="#fdfdfa"/><stop offset="0.7826" stop-color="#fefefb"/><stop offset="0.8024" stop-color="#fefefb"/><stop offset="0.8222" stop-color="#fefefc"/><stop offset="0.8617" stop-color="#fefefc"/><stop offset="0.8814" stop-color="#fefefd"/><stop offset="0.9210" stop-color="#fefefd"/><stop offset="0.9407" stop-color="#fffffe"/><stop offset="0.9605" stop-color="#fffffe"/><stop offset="0.9802" stop-color="#ffffff"/><stop offset="1.0000" stop-color="#ffffff"/></linearGradient><linearGradient id="g32"><stop offset="0.0000" stop-color="#ffffff"/><stop offset="0.0078" stop-color="#fefefc"/><stop offset="0.0137" stop-color="#fefefb"/><stop offset="0.0181" stop-color="#fdfdfa"/><stop offset="0.0273" stop-color="#fdfdf9"/><stop offset="0.0410" stop-color="#fcfcf7"/><stop offset="0.0439" stop-color="#fcfcf6"/><stop offset="0.0547" stop-color="#fcfcf5"/><stop offset="0.0684" stop-color="#fbfbf4"/><stop offset="0.0820" stop-color="#fbfbf3"/><stop offset="0.0956" stop-color="#fafaf1"/><stop offset="0.0957" stop-color="#fafaf1"/><stop offset="0.1094" stop-color="#fafaef"/><stop offset="0.1231" stop-color="#f9f8ec"/><stop offset="0.1367" stop-color="#f8f7ea"/><stop offset="0.1504" stop-color="#f7f6e7"/><stop offset="0.1576" stop-color="#f7f6e6"/><stop offset="0.1641" stop-color="#f6f5e4"/><stop offset="0.1778" stop-color="#f4f3df"/><stop offset="0.1914" stop-color="#f3f1db"/><stop offset="0.2041" stop-color="#f2f0d7"/><stop offset="0.2051" stop-color="#f1efd6"/><stop offset="0.2188" stop-color="#efedcd"/><stop offset="0.2325" stop-color="#edeac4"/><stop offset="0.2351" stop-color="#ece9c2"/><stop offset="0.2461" stop-color="#e9e5b3"/><stop offset="0.2532" stop-color="#e6e2aa"/><stop offset="0.2598" stop-color="#e3de9a"/><stop offset="0.2636" stop-color="#e0db91"/><stop offset="0.2718" stop-color="#dbd479"/><stop offset="0.2735" stop-color="#dad375"/><stop offset="0.2780" stop-color="#d7d068"/><stop offset="0.2842" stop-color="#d1c94b"/><stop offset="0.2871" stop-color="#cac236"/><stop offset="0.2879" stop-color="#c8c031"/><stop offset="0.2915" stop-color="#c0bb33"/><stop offset="0.2951" stop-color="#b8b22f"/><stop offset="0.2997" stop-color="#c7a430"/><stop offset="0.3008" stop-color="#c8a230"/><stop offset="0.3121" stop-color="#d68d2d"/><stop offset="0.3145" stop-color="#df7d29"/><stop offset="0.3152" stop-color="#e17828"/><stop offset="0.3183" stop-color="#e47128"/><stop offset="0.3282" stop-color="#e66d28"/><stop offset="0.3380" stop-color="#e47128"/><stop offset="0.3411" stop-color="#e17828"/><stop offset="0.3442" stop-color="#d68d2d"/><stop offset="0.3479" stop-color="#d1932e"/><stop offset="0.3576" stop-color="#c7a430"/><stop offset="0.3623" stop-color="#b8b22f"/><stop offset="0.3664" stop-color="#c0bb33"/><stop offset="0.3677" stop-color="#c3bd32"/><stop offset="0.3705" stop-color="#c8c031"/><stop offset="0.3747" stop-color="#d1c94b"/><stop offset="0.3829" stop-color="#d7d068"/><stop offset="0.3874" stop-color="#dbd57d"/><stop offset="0.3902" stop-color="#dfd98b"/><stop offset="0.4005" stop-color="#e6e2aa"/><stop offset="0.4072" stop-color="#e9e5b4"/><stop offset="0.4160" stop-color="#ece9c2"/><stop offset="0.4270" stop-color="#eeecca"/><stop offset="0.4367" stop-color="#f0eed1"/><stop offset="0.4467" stop-color="#f1efd5"/><stop offset="0.4665" stop-color="#f4f2dd"/><stop offset="0.4677" stop-color="#f4f2dd"/><stop offset="0.4862" stop-color="#f5f4e2"/><stop offset="0.5060" stop-color="#f7f6e6"/><stop offset="0.5090" stop-color="#f7f6e7"/><stop offset="0.5258" stop-color="#f8f7e9"/><stop offset="0.5455" stop-color="#f9f8ec"/><stop offset="0.5653" stop-color="#faf9ef"/><stop offset="0.5711" stop-color="#fafaef"/><stop offset="0.5850" stop-color="#fafaf1"/><stop offset="0.6048" stop-color="#fbfbf2"/><stop offset="0.6246" stop-color="#fbfbf3"/><stop offset="0.6443" stop-color="#fcfcf5"/><stop offset="0.6641" stop-color="#fcfcf6"/><stop offset="0.6838" stop-color="#fcfcf7"/><stop offset="0.7036" stop-color="#fdfdf8"/><stop offset="0.7234" stop-color="#fdfdf9"/><stop offset="0.7431" stop-color="#fdfdf9"/><stop offset="0.7629" stop-color="#fdfdfa"/><stop offset="0.7826" stop-color="#fefefb"/><stop offset="0.8024" stop-color="#fefefb"/><stop offset="0.8222" stop-color="#fefefc"/><stop offset="0.8617" stop-color="#fefefc"/><stop offset="0.8814" stop-color="#fefefd"/><stop offset="0.9012" stop-color="#fefefd"/><stop offset="0.9210" stop-color="#fffffe"/><stop offset="0.9605" stop-color="#fffffe"/><stop offset="0.9802" stop-color="#ffffff"/><stop offset="1.0000" stop-color="#ffffff"/></linearGradient><linearGradient id="g33"><stop offset="0.0000" stop-color="#ffffff"/><stop offset="0.0078" stop-color="#fefefc"/><stop offset="0.0137" stop-color="#fefefb"/><stop offset="0.0181" stop-color="#fdfdfa"/><stop offset="0.0273" stop-color="#fdfdf9"/><stop offset="0.0410" stop-color="#fcfcf7"/><stop offset="0.0439" stop-color="#fcfcf7"/><stop offset="0.0547" stop-color="#fcfcf6"/><stop offset="0.0684" stop-color="#fbfbf4"/><stop offset="0.0820" stop-color="#fbfbf3"/><stop offset="0.0956" stop-color="#fbfbf2"/><stop offset="0.0957" stop-color="#fbfbf2"/><stop offset="0.1094" stop-color="#fafaf0"/><stop offset="0.1231" stop-color="#f9f9ed"/><stop offset="0.1367" stop-color="#f8f8eb"/><stop offset="0.1504" stop-color="#f7f7e8"/><stop offset="0.1576" stop-color="#f7f6e7"/><stop offset="0.1641" stop-color="#f6f5e5"/><stop offset="0.1778" stop-color="#f5f4e1"/><stop offset="0.1914" stop-color="#f4f2dd"/><stop offset="0.2041" stop-color="#f2f0d9"/><stop offset="0.2051" stop-color="#f2f0d8"/><stop offset="0.2188" stop-color="#f0edcf"/><stop offset="0.2325" stop-color="#eeebc7"/><stop offset="0.2351" stop-color="#edeac5"/><stop offset="0.2461" stop-color="#eae6b7"/><stop offset="0.2532" stop-color="#e8e3ae"/><stop offset="0.2598" stop-color="#e4df9f"/><stop offset="0.2636" stop-color="#e2dd97"/><stop offset="0.2718" stop-color="#dcd67f"/><stop offset="0.2735" stop-color="#dbd57b"/><stop offset="0.2780" stop-color="#d8d26f"/><stop offset="0.2842" stop-color="#d2cb53"/><stop offset="0.2871" stop-color="#cbc33a"/><stop offset="0.2879" stop-color="#cac235"/><stop offset="0.2915" stop-color="#c2bd32"/><stop offset="0.2951" stop-color="#adb42e"/><stop offset="0.2997" stop-color="#c5ab30"/><stop offset="0.3008" stop-color="#c6a930"/><stop offset="0.3121" stop-color="#d0952e"/><stop offset="0.3145" stop-color="#db832a"/><stop offset="0.3152" stop-color="#de7f29"/><stop offset="0.3183" stop-color="#e17728"/><stop offset="0.3282" stop-color="#e37328"/><stop offset="0.3380" stop-color="#e17728"/><stop offset="0.3411" stop-color="#de7f29"/><stop offset="0.3442" stop-color="#d0952e"/><stop offset="0.3479" stop-color="#cc9b2f"/><stop offset="0.3576" stop-color="#c5ab30"/><stop offset="0.3623" stop-color="#adb42e"/><stop offset="0.3664" stop-color="#c2bd32"/><stop offset="0.3677" stop-color="#c5be31"/><stop offset="0.3705" stop-color="#cac235"/><stop offset="0.3747" stop-color="#d2cb53"/><stop offset="0.3829" stop-color="#d8d26f"/><stop offset="0.3874" stop-color="#ddd783"/><stop offset="0.3902" stop-color="#e0db91"/><stop offset="0.4005" stop-color="#e8e3ae"/><stop offset="0.4072" stop-color="#eae6b8"/><stop offset="0.4160" stop-color="#edeac5"/><stop offset="0.4270" stop-color="#efedcc"/><stop offset="0.4367" stop-color="#f1efd3"/><stop offset="0.4467" stop-color="#f2f0d7"/><stop offset="0.4665" stop-color="#f4f3de"/><stop offset="0.4677" stop-color="#f4f3df"/><stop offset="0.4862" stop-color="#f6f5e3"/><stop offset="0.5060" stop-color="#f7f6e7"/><stop offset="0.5090" stop-color="#f7f7e8"/><stop offset="0.5258" stop-color="#f8f8ea"/><stop offset="0.5455" stop-color="#f9f9ed"/><stop offset="0.5653" stop-color="#fafaef"/><stop offset="0.5711" stop-color="#fafaf0"/><stop offset="0.5850" stop-color="#fafaf1"/><stop offset="0.6048" stop-color="#fbfbf3"/><stop offset="0.6246" stop-color="#fbfbf4"/><stop offset="0.6443" stop-color="#fcfcf5"/><stop offset="0.6641" stop-color="#fcfcf7"/><stop offset="0.6838" stop-color="#fcfcf7"/><stop offset="0.7036" stop-color="#fdfdf8"/><stop offset="0.7234" stop-color="#fdfdf9"/><stop offset="0.7431" stop-color="#fdfdfa"/><stop offset="0.7629" stop-color="#fdfdfa"/><stop offset="0.7826" stop-color="#fefefb"/><stop offset="0.8024" stop-color="#fefefb"/><stop offset="0.8222" stop-color="#fefefc"/><stop offset="0.8419" stop-color="#fefefc"/><stop offset="0.8617" stop-color="#fefefd"/><stop offset="0.9012" stop-color="#fefefd"/><stop offset="0.9210" stop-color="#fffffe"/><stop offset="0.9605" stop-color="#fffffe"/><stop offset="0.9802" stop-color="#ffffff"/><stop offset="1.0000" stop-color="#ffffff"/></linearGradient><linearGradient id="g34"><stop offset="0.0000" stop-color="#ffffff"/><stop offset="0.0078" stop-color="#fefefc"/><stop offset="0.0137" stop-color="#fefefb"/><stop offset="0.0181" stop-color="#fdfdfa"/><stop offset="0.0273" stop-color="#fdfdf9"/><stop offset="0.0410" stop-color="#fcfcf7"/><stop offset="0.0439" stop-color="#fcfcf7"/><stop offset="0.0547" stop-color="#fcfcf6"/><stop offset="0.0684" stop-color="#fcfcf5"/><stop offset="0.0820" stop-color="#fbfbf4"/><stop offset="0.0956" stop-color="#fbfbf2"/><stop offset="0.0957" stop-color="#fbfbf2"/><stop offset="0.1094" stop-color="#fafaf0"/><stop offset="0.1231" stop-color="#f9f9ee"/><stop offset="0.1367" stop-color="#f9f8ec"/><stop offset="0.1504" stop-color="#f8f7e9"/><stop offset="0.1576" stop-color="#f7f7e8"/><stop offset="0.1641" stop-color="#f7f6e6"/><stop offset="0.1778" stop-color="#f5f4e2"/><stop offset="0.1914" stop-color="#f4f3de"/><stop offset="0.2041" stop-color="#f3f1db"/><stop offset="0.2051" stop-color="#f3f1da"/><stop offset="0.2188" stop-color="#f1eed2"/><stop offset="0.2325" stop-color="#eeecca"/><stop offset="0.2351" stop-color="#eeebc8"/><stop offset="0.2461" stop-color="#ebe7bb"/><stop offset="0.2532" stop-color="#e9e5b2"/><stop offset="0.2598" stop-color="#e5e1a4"/><stop offset="0.2636" stop-color="#e3de9c"/><stop offset="0.2718" stop-color="#ddd886"/><stop offset="0.2735" stop-color="#dcd681"/><stop offset="0.2780" stop-color="#dad376"/><stop offset="0.2842" stop-color="#d4cd5b"/><stop offset="0.2871" stop-color="#cdc53e"/><stop offset="0.2879" stop-color="#cbc33a"/><stop offset="0.2915" stop-color="#c5be31"/><stop offset="0.2951" stop-color="#b0b630"/><stop offset="0.2997" stop-color="#c0b130"/><stop offset="0.3008" stop-color="#c4b030"/><stop offset="0.3121" stop-color="#ca9d2f"/><stop offset="0.3145" stop-color="#d88a2c"/><stop offset="0.3152" stop-color="#da852b"/><stop offset="0.3183" stop-color="#de7e29"/><stop offset="0.3282" stop-color="#e07928"/><stop offset="0.3380" stop-color="#de7e29"/><stop offset="0.3411" stop-color="#da852b"/><stop offset="0.3442" stop-color="#ca9d2f"/><stop offset="0.3479" stop-color="#c7a230"/><stop offset="0.3576" stop-color="#c0b130"/><stop offset="0.3623" stop-color="#b0b630"/><stop offset="0.3664" stop-color="#c5be31"/><stop offset="0.3677" stop-color="#c7bf30"/><stop offset="0.3705" stop-color="#cbc33a"/><stop offset="0.3747" stop-color="#d4cd5b"/><stop offset="0.3829" stop-color="#dad376"/><stop offset="0.3874" stop-color="#ded98a"/><stop offset="0.3902" stop-color="#e2dd96"/><stop offset="0.4005" stop-color="#e9e5b2"/><stop offset="0.4072" stop-color="#ebe8bc"/><stop offset="0.4160" stop-color="#eeebc8"/><stop offset="0.4270" stop-color="#f0edcf"/><stop offset="0.4367" stop-color="#f1efd6"/><stop offset="0.4467" stop-color="#f2f1d9"/><stop offset="0.4665" stop-color="#f5f3e0"/><stop offset="0.4677" stop-color="#f5f4e0"/><stop offset="0.4862" stop-color="#f6f5e4"/><stop offset="0.5060" stop-color="#f8f7e9"/><stop offset="0.5090" stop-color="#f8f7e9"/><stop offset="0.5258" stop-color="#f8f8eb"/><stop offset="0.5455" stop-color="#f9f9ee"/><stop offset="0.5653" stop-color="#fafaf0"/><stop offset="0.5711" stop-color="#fafaf1"/><stop offset="0.5850" stop-color="#fbfbf2"/><stop offset="0.6048" stop-color="#fbfbf3"/><stop offset="0.6246" stop-color="#fbfbf4"/><stop offset="0.6443" stop-color="#fcfcf6"/><stop offset="0.6641" stop-color="#fcfcf7"/><stop offset="0.6838" stop-color="#fdfdf8"/><stop offset="0.7036" stop-color="#fdfdf8"/><stop offset="0.7234" stop-color="#fdfdf9"/><stop offset="0.7431" stop-color="#fdfdfa"/><stop offset="0.7629" stop-color="#fdfdfa"/><stop offset="0.7826" stop-color="#fefefb"/><stop offset="0.7933" stop-color="#fefefb"/><stop offset="0.8024" stop-color="#fefefc"/><stop offset="0.8419" stop-color="#fefefc"/><stop offset="0.8617" stop-color="#fefefd"/><stop offset="0.9012" stop-color="#fefefd"/><stop offset="0.9210" stop-color="#fffffe"/><stop offset="0.9605" stop-color="#fffffe"/><stop offset="0.9802" stop-color="#ffffff"/><stop offset="1.0000" stop-color="#ffffff"/></linearGradient><linearGradient id="g35"><stop offset="0.0000" stop-color="#ffffff"/><stop offset="0.0078" stop-color="#fefefc"/><stop offset="0.0137" stop-color="#fefefb"/><stop offset="0.0181" stop-color="#fefefa"/><stop offset="0.0273" stop-color="#fdfdf9"/><stop offset="0.0410" stop-color="#fdfdf8"/><stop offset="0.0439" stop-color="#fcfcf8"/><stop offset="0.0547" stop-color="#fcfcf7"/><stop offset="0.0684" stop-color="#fcfcf5"/><stop offset="0.0820" stop-color="#fbfbf4"/><stop offset="0.0956" stop-color="#fbfbf3"/><stop offset="0.0957" stop-color="#fbfbf3"/><stop offset="0.1094" stop-color="#fafaf1"/><stop offset="0.1231" stop-color="#fafaef"/><stop offset="0.1367" stop-color="#f9f9ed"/><stop offset="0.1504" stop-color="#f8f8eb"/><stop offset="0.1576" stop-color="#f8f7e9"/><stop offset="0.1641" stop-color="#f7f7e8"/><stop offset="0.1778" stop-color="#f6f5e4"/><stop offset="0.1914" stop-color="#f5f3e0"/><stop offset="0.2041" stop-color="#f3f2dc"/><stop offset="0.2051" stop-color="#f3f2dc"/><stop offset="0.2188" stop-color="#f1efd5"/><stop offset="0.2325" stop-color="#efedcd"/><stop offset="0.2351" stop-color="#efeccb"/><stop offset="0.2461" stop-color="#ece8bf"/><stop offset="0.2532" stop-color="#eae6b6"/><stop offset="0.2598" stop-color="#e6e2a9"/><stop offset="0.2636" stop-color="#e4e0a1"/><stop offset="0.2718" stop-color="#dfda8c"/><stop offset="0.2735" stop-color="#ded888"/><stop offset="0.2780" stop-color="#dbd57c"/><stop offset="0.2842" stop-color="#d6cf63"/><stop offset="0.2871" stop-color="#cec643"/><stop offset="0.2879" stop-color="#cdc53e"/><stop offset="0.2915" stop-color="#c7bf30"/><stop offset="0.2951" stop-color="#b8b832"/><stop offset="0.2997" stop-color="#b3b32f"/><stop offset="0.3008" stop-color="#b7b22f"/><stop offset="0.3121" stop-color="#c7a530"/><stop offset="0.3145" stop-color="#d2932e"/><stop offset="0.3152" stop-color="#d68d2d"/><stop offset="0.3183" stop-color="#db852b"/><stop offset="0.3282" stop-color="#dd812a"/><stop offset="0.3380" stop-color="#db852b"/><stop offset="0.3411" stop-color="#d68d2d"/><stop offset="0.3442" stop-color="#c7a530"/><stop offset="0.3479" stop-color="#c5aa30"/><stop offset="0.3576" stop-color="#b3b32f"/><stop offset="0.3623" stop-color="#b8b832"/><stop offset="0.3664" stop-color="#c7bf30"/><stop offset="0.3677" stop-color="#c9c133"/><stop offset="0.3705" stop-color="#cdc53e"/><stop offset="0.3747" stop-color="#d6cf63"/><stop offset="0.3829" stop-color="#dbd57c"/><stop offset="0.3874" stop-color="#e0db90"/><stop offset="0.3902" stop-color="#e3de9c"/><stop offset="0.4005" stop-color="#eae6b6"/><stop offset="0.4072" stop-color="#ece9bf"/><stop offset="0.4160" stop-color="#efeccb"/><stop offset="0.4270" stop-color="#f0eed2"/><stop offset="0.4367" stop-color="#f2f0d8"/><stop offset="0.4467" stop-color="#f3f1db"/><stop offset="0.4665" stop-color="#f5f4e2"/><stop offset="0.4677" stop-color="#f5f4e2"/><stop offset="0.4862" stop-color="#f7f6e6"/><stop offset="0.5060" stop-color="#f8f7ea"/><stop offset="0.5090" stop-color="#f8f8ea"/><stop offset="0.5258" stop-color="#f9f8ec"/><stop offset="0.5455" stop-color="#faf9ef"/><stop offset="0.5653" stop-color="#fafaf1"/><stop offset="0.5711" stop-color="#fafaf2"/><stop offset="0.5850" stop-color="#fbfbf2"/><stop offset="0.6048" stop-color="#fbfbf4"/><stop offset="0.6246" stop-color="#fcfcf5"/><stop offset="0.6443" stop-color="#fcfcf6"/><stop offset="0.6641" stop-color="#fcfcf8"/><stop offset="0.6838" stop-color="#fdfdf8"/><stop offset="0.7036" stop-color="#fdfdf9"/><stop offset="0.7234" stop-color="#fdfdf9"/><stop offset="0.7431" stop-color="#fdfdfa"/><stop offset="0.7629" stop-color="#fefefb"/><stop offset="0.7826" stop-color="#fefefb"/><stop offset="0.7933" stop-color="#fefefc"/><stop offset="0.8419" stop-color="#fefefc"/><stop offset="0.8617" stop-color="#fefefd"/><stop offset="0.9012" stop-color="#fefefd"/><stop offset="0.9210" stop-color="#fffffe"/><stop offset="0.9605" stop-color="#fffffe"/><stop offset="0.9802" stop-color="#ffffff"/><stop offset="1.0000" stop-color="#ffffff"/></linearGradient><linearGradient id="g36"><stop offset="0.0000" stop-color="#ffffff"/><stop offset="0.0078" stop-color="#fefefd"/><stop offset="0.0137" stop-color="#fefefc"/><stop offset="0.0181" stop-color="#fefefb"/><stop offset="0.0273" stop-color="#fdfdfa"/><stop offset="0.0410" stop-color="#fdfdf9"/><stop offset="0.0439" stop-color="#fdfdf8"/><stop offset="0.0547" stop-color="#fcfcf7"/><stop offset="0.0684" stop-color="#fcfcf6"/><stop offset="0.0820" stop-color="#fcfcf5"/><stop offset="0.0956" stop-color="#fbfbf4"/><stop offset="0.0957" stop-color="#fbfbf4"/><stop offset="0.1094" stop-color="#fbfbf2"/><stop offset="0.1231" stop-color="#fafaf1"/><stop offset="0.1367" stop-color="#fafaef"/><stop offset="0.1504" stop-color="#f9f9ed"/><stop offset="0.1576" stop-color="#f9f8ec"/><stop offset="0.1641" stop-color="#f8f8ea"/><stop offset="0.1778" stop-color="#f7f6e7"/><stop offset="0.1914" stop-color="#f6f5e3"/><stop offset="0.2041" stop-color="#f5f3e0"/><stop offset="0.2051" stop-color="#f5f3e0"/><stop offset="0.2188" stop-color="#f3f1da"/><stop offset="0.2325" stop-color="#f1eed3"/><stop offset="0.2351" stop-color="#f0eed1"/><stop offset="0.2461" stop-color="#eeebc6"/><stop offset="0.2532" stop-color="#ece8bf"/><stop offset="0.2598" stop-color="#e9e5b3"/><stop offset="0.2636" stop-color="#e7e3ac"/><stop offset="0.2718" stop-color="#e2dd99"/><stop offset="0.2735" stop-color="#e1dc95"/><stop offset="0.2780" stop-color="#dfd98a"/><stop offset="0.2842" stop-color="#d9d373"/><stop offset="0.2871" stop-color="#d2ca4f"/><stop offset="0.2879" stop-color="#d0c847"/><stop offset="0.2915" stop-color="#cbc338"/><stop offset="0.2951" stop-color="#c2bc33"/><stop offset="0.2997" stop-color="#b6b731"/><stop offset="0.3008" stop-color="#b4b731"/><stop offset="0.3121" stop-color="#bbb12f"/><stop offset="0.3145" stop-color="#c7a430"/><stop offset="0.3152" stop-color="#c99f30"/><stop offset="0.3183" stop-color="#cf962e"/><stop offset="0.3282" stop-color="#d3912d"/><stop offset="0.3380" stop-color="#cf962e"/><stop offset="0.3411" stop-color="#c99f30"/><stop offset="0.3442" stop-color="#bbb12f"/><stop offset="0.3479" stop-color="#b1b32f"/><stop offset="0.3576" stop-color="#b6b731"/><stop offset="0.3623" stop-color="#c2bc33"/><stop offset="0.3664" stop-color="#cbc338"/><stop offset="0.3677" stop-color="#ccc43d"/><stop offset="0.3705" stop-color="#d0c847"/><stop offset="0.3747" stop-color="#d9d373"/><stop offset="0.3829" stop-color="#dfd98a"/><stop offset="0.3874" stop-color="#e3de9c"/><stop offset="0.3902" stop-color="#e6e1a7"/><stop offset="0.4005" stop-color="#ece8bf"/><stop offset="0.4072" stop-color="#eeebc7"/><stop offset="0.4160" stop-color="#f0eed1"/><stop offset="0.4270" stop-color="#f2f0d7"/><stop offset="0.4367" stop-color="#f3f2dc"/><stop offset="0.4467" stop-color="#f4f3df"/><stop offset="0.4665" stop-color="#f6f5e5"/><stop offset="0.4677" stop-color="#f6f5e5"/><stop offset="0.4862" stop-color="#f8f7e9"/><stop offset="0.5060" stop-color="#f9f8ec"/><stop offset="0.5090" stop-color="#f9f9ed"/><stop offset="0.5258" stop-color="#f9f9ee"/><stop offset="0.5455" stop-color="#fafaf0"/><stop offset="0.5653" stop-color="#fbfbf2"/><stop offset="0.5711" stop-color="#fbfbf3"/><stop offset="0.5850" stop-color="#fbfbf4"/><stop offset="0.6048" stop-color="#fcfcf5"/><stop offset="0.6246" stop-color="#fcfcf6"/><stop offset="0.6443" stop-color="#fcfcf7"/><stop offset="0.6641" stop-color="#fdfdf8"/><stop offset="0.6838" stop-color="#fdfdf9"/><stop offset="0.7036" stop-color="#fdfdf9"/><stop offset="0.7234" stop-color="#fdfdfa"/><stop offset="0.7431" stop-color="#fefefb"/><stop offset="0.7629" stop-color="#fefefb"/><stop offset="0.7826" stop-color="#fefefc"/><stop offset="0.8222" stop-color="#fefefc"/><stop offset="0.8419" stop-color="#fefefd"/><stop offset="0.8814" stop-color="#fefefd"/><stop offset="0.9012" stop-color="#fffffe"/><stop offset="0.9605" stop-color="#fffffe"/><stop offset="0.9802" stop-color="#ffffff"/><stop offset="1.0000" stop-color="#ffffff"/></linearGradient><linearGradient id="g37"><stop offset="0.0000" stop-color="#ffffff"/><stop offset="0.0078" stop-color="#fefefd"/><stop offset="0.0137" stop-color="#fefefc"/><stop offset="0.0181" stop-color="#fefefb"/><stop offset="0.0273" stop-color="#fdfdfa"/><stop offset="0.0410" stop-color="#fdfdf9"/><stop offset="0.0439" stop-color="#fdfdf9"/><stop offset="0.0547" stop-color="#fdfdf8"/><stop offset="0.0684" stop-color="#fcfcf7"/><stop offset="0.0820" stop-color="#fcfcf6"/><stop offset="0.0956" stop-color="#fcfcf5"/><stop offset="0.0957" stop-color="#fcfcf5"/><stop offset="0.1094" stop-color="#fbfbf3"/><stop offset="0.1231" stop-color="#fbfbf2"/><stop offset="0.1367" stop-color="#fafaf0"/><stop offset="0.1504" stop-color="#f9f9ee"/><stop offset="0.1576" stop-color="#f9f9ed"/><stop offset="0.1641" stop-color="#f9f8ec"/><stop offset="0.1778" stop-color="#f7f7e8"/><stop offset="0.1914" stop-color="#f6f5e5"/><stop offset="0.2041" stop-color="#f5f4e2"/><stop offset="0.2051" stop-color="#f5f4e2"/><stop offset="0.2188" stop-color="#f3f2dc"/><stop offset="0.2325" stop-color="#f1efd6"/><stop offset="0.2351" stop-color="#f1efd4"/><stop offset="0.2461" stop-color="#eeecca"/><stop offset="0.2532" stop-color="#edeac3"/><stop offset="0.2598" stop-color="#eae6b8"/><stop offset="0.2636" stop-color="#e8e4b1"/><stop offset="0.2718" stop-color="#e4df9f"/><stop offset="0.2735" stop-color="#e3de9c"/><stop offset="0.2780" stop-color="#e0db92"/><stop offset="0.2842" stop-color="#dbd57b"/><stop offset="0.2871" stop-color="#d4cc59"/><stop offset="0.2879" stop-color="#d2ca51"/><stop offset="0.2915" stop-color="#ccc43d"/><stop offset="0.2951" stop-color="#c4be31"/><stop offset="0.2997" stop-color="#beba34"/><stop offset="0.3008" stop-color="#bdba34"/><stop offset="0.3121" stop-color="#acb42e"/><stop offset="0.3145" stop-color="#c5ad30"/><stop offset="0.3152" stop-color="#c6a830"/><stop offset="0.3183" stop-color="#c8a030"/><stop offset="0.3282" stop-color="#cc9b2f"/><stop offset="0.3380" stop-color="#c8a030"/><stop offset="0.3411" stop-color="#c6a830"/><stop offset="0.3442" stop-color="#acb42e"/><stop offset="0.3479" stop-color="#afb52f"/><stop offset="0.3576" stop-color="#beba34"/><stop offset="0.3623" stop-color="#c4be31"/><stop offset="0.3664" stop-color="#ccc43d"/><stop offset="0.3677" stop-color="#cec642"/><stop offset="0.3705" stop-color="#d2ca51"/><stop offset="0.3747" stop-color="#dbd57b"/><stop offset="0.3829" stop-color="#e0db92"/><stop offset="0.3874" stop-color="#e5e0a3"/><stop offset="0.3902" stop-color="#e7e3ad"/><stop offset="0.4005" stop-color="#edeac3"/><stop offset="0.4072" stop-color="#efecca"/><stop offset="0.4160" stop-color="#f1efd4"/><stop offset="0.4270" stop-color="#f3f1da"/><stop offset="0.4367" stop-color="#f4f3de"/><stop offset="0.4467" stop-color="#f5f4e1"/><stop offset="0.4665" stop-color="#f7f6e6"/><stop offset="0.4677" stop-color="#f7f6e7"/><stop offset="0.4862" stop-color="#f8f7ea"/><stop offset="0.5060" stop-color="#f9f9ed"/><stop offset="0.5090" stop-color="#f9f9ee"/><stop offset="0.5258" stop-color="#fafaef"/><stop offset="0.5455" stop-color="#fafaf1"/><stop offset="0.5653" stop-color="#fbfbf3"/><stop offset="0.5711" stop-color="#fbfbf4"/><stop offset="0.5850" stop-color="#fbfbf4"/><stop offset="0.6048" stop-color="#fcfcf5"/><stop offset="0.6246" stop-color="#fcfcf6"/><stop offset="0.6443" stop-color="#fdfdf8"/><stop offset="0.6641" stop-color="#fdfdf9"/><stop offset="0.6838" stop-color="#fdfdf9"/><stop offset="0.7036" stop-color="#fdfdfa"/><stop offset="0.7234" stop-color="#fdfdfa"/><stop offset="0.7431" stop-color="#fefefb"/><stop offset="0.7629" stop-color="#fefefb"/><stop offset="0.7826" stop-color="#fefefc"/><stop offset="0.8024" stop-color="#fefefc"/><stop offset="0.8222" stop-color="#fefefd"/><stop offset="0.8814" stop-color="#fefefd"/><stop offset="0.9012" stop-color="#fffffe"/><stop offset="0.9605" stop-color="#fffffe"/><stop offset="0.9802" stop-color="#ffffff"/><stop offset="1.0000" stop-color="#ffffff"/></linearGradient><linearGradient id="g38"><stop offset="0.0000" stop-color="#ffffff"/><stop offset="0.0078" stop-color="#fefefd"/><stop offset="0.0137" stop-color="#fefefc"/><stop offset="0.0181" stop-color="#fefefb"/><stop offset="0.0273" stop-color="#fefefb"/><stop offset="0.0410" stop-color="#fdfdf9"/><stop offset="0.0439" stop-color="#fdfdf9"/><stop offset="0.0547" stop-color="#fdfdf8"/><stop offset="0.0684" stop-color="#fcfcf7"/><stop offset="0.0820" stop-color="#fcfcf6"/><stop offset="0.0956" stop-color="#fcfcf5"/><stop offset="0.0957" stop-color="#fcfcf5"/><stop offset="0.1094" stop-color="#fbfbf4"/><stop offset="0.1231" stop-color="#fbfbf2"/><stop offset="0.1367" stop-color="#fafaf1"/><stop offset="0.1504" stop-color="#fafaef"/><stop offset="0.1576" stop-color="#f9f9ee"/><stop offset="0.1641" stop-color="#f9f9ed"/><stop offset="0.1778" stop-color="#f8f7ea"/><stop offset="0.1914" stop-color="#f7f6e7"/><stop offset="0.2041" stop-color="#f6f5e4"/><stop offset="0.2051" stop-color="#f6f5e3"/><stop offset="0.2188" stop-color="#f4f3de"/><stop offset="0.2325" stop-color="#f2f0d9"/><stop offset="0.2351" stop-color="#f2f0d7"/><stop offset="0.2461" stop-color="#efedcd"/><stop offset="0.2532" stop-color="#eeebc7"/><stop offset="0.2598" stop-color="#ebe8bc"/><stop offset="0.2636" stop-color="#eae6b6"/><stop offset="0.2718" stop-color="#e5e1a6"/><stop offset="0.2735" stop-color="#e5e0a2"/><stop offset="0.2780" stop-color="#e2dd99"/><stop offset="0.2842" stop-color="#ddd783"/><stop offset="0.2871" stop-color="#d6cf63"/><stop offset="0.2879" stop-color="#d4cd5b"/><stop offset="0.2915" stop-color="#cec643"/><stop offset="0.2951" stop-color="#c7c030"/><stop offset="0.2997" stop-color="#c1bc33"/><stop offset="0.3008" stop-color="#c1bc33"/><stop offset="0.3121" stop-color="#b3b731"/><stop offset="0.3145" stop-color="#b8b22f"/><stop offset="0.3152" stop-color="#c1b130"/><stop offset="0.3183" stop-color="#c6aa30"/><stop offset="0.3282" stop-color="#c7a530"/><stop offset="0.3380" stop-color="#c6aa30"/><stop offset="0.3411" stop-color="#c1b130"/><stop offset="0.3442" stop-color="#b3b731"/><stop offset="0.3479" stop-color="#b9b832"/><stop offset="0.3576" stop-color="#c1bc33"/><stop offset="0.3623" stop-color="#c7c030"/><stop offset="0.3664" stop-color="#cec643"/><stop offset="0.3677" stop-color="#d0c847"/><stop offset="0.3705" stop-color="#d4cd5b"/><stop offset="0.3747" stop-color="#ddd783"/><stop offset="0.3829" stop-color="#e2dd99"/><stop offset="0.3874" stop-color="#e6e2a9"/><stop offset="0.3902" stop-color="#e9e5b2"/><stop offset="0.4005" stop-color="#eeebc7"/><stop offset="0.4072" stop-color="#f0edce"/><stop offset="0.4160" stop-color="#f2f0d7"/><stop offset="0.4270" stop-color="#f3f2dc"/><stop offset="0.4367" stop-color="#f5f3e0"/><stop offset="0.4467" stop-color="#f6f5e3"/><stop offset="0.4665" stop-color="#f7f7e8"/><stop offset="0.4677" stop-color="#f7f7e8"/><stop offset="0.4862" stop-color="#f8f8eb"/><stop offset="0.5060" stop-color="#f9f9ee"/><stop offset="0.5090" stop-color="#fafaef"/><stop offset="0.5258" stop-color="#fafaf0"/><stop offset="0.5455" stop-color="#fbfbf2"/><stop offset="0.5653" stop-color="#fbfbf4"/><stop offset="0.5711" stop-color="#fbfbf4"/><stop offset="0.5850" stop-color="#fcfcf5"/><stop offset="0.6048" stop-color="#fcfcf6"/><stop offset="0.6246" stop-color="#fcfcf7"/><stop offset="0.6443" stop-color="#fdfdf8"/><stop offset="0.6641" stop-color="#fdfdf9"/><stop offset="0.6838" stop-color="#fdfdfa"/><stop offset="0.7036" stop-color="#fdfdfa"/><stop offset="0.7234" stop-color="#fefefb"/><stop offset="0.7431" stop-color="#fefefb"/><stop offset="0.7629" stop-color="#fefefc"/><stop offset="0.8024" stop-color="#fefefc"/><stop offset="0.8222" stop-color="#fefefd"/><stop offset="0.8814" stop-color="#fefefd"/><stop offset="0.9012" stop-color="#fffffe"/><stop offset="0.9605" stop-color="#fffffe"/><stop offset="0.9802" stop-color="#ffffff"/><stop offset="1.0000" stop-color="#ffffff"/></linearGradient><linearGradient id="g39"><stop offset="0.0000" stop-color="#ffffff"/><stop offset="0.0078" stop-color="#fefefd"/><stop offset="0.0137" stop-color="#fefefc"/><stop offset="0.0181" stop-color="#fefefc"/><stop offset="0.0273" stop-color="#fefefb"/><stop offset="0.0410" stop-color="#fdfdfa"/><stop offset="0.0439" stop-color="#fdfdf9"/><stop offset="0.0547" stop-color="#fdfdf9"/><stop offset="0.0684" stop-color="#fdfdf8"/><stop offset="0.0820" stop-color="#fcfcf7"/><stop offset="0.0956" stop-color="#fcfcf6"/><stop offset="0.0957" stop-color="#fcfcf6"/><stop offset="0.1094" stop-color="#fcfcf5"/><stop offset="0.1231" stop-color="#fbfbf3"/><stop offset="0.1367" stop-color="#fbfbf2"/><stop offset="0.1504" stop-color="#fafaf0"/><stop offset="0.1576" stop-color="#fafaef"/><stop offset="0.1641" stop-color="#f9f9ee"/><stop offset="0.1778" stop-color="#f8f8eb"/><stop offset="0.1914" stop-color="#f7f7e8"/><stop offset="0.2041" stop-color="#f7f6e6"/><stop offset="0.2051" stop-color="#f6f6e5"/><stop offset="0.2188" stop-color="#f5f3e0"/><stop offset="0.2325" stop-color="#f3f1db"/><stop offset="0.2351" stop-color="#f3f1da"/><stop offset="0.2461" stop-color="#f0eed1"/><stop offset="0.2532" stop-color="#efeccb"/><stop offset="0.2598" stop-color="#ece9c1"/><stop offset="0.2636" stop-color="#ebe7bc"/><stop offset="0.2718" stop-color="#e7e3ac"/><stop offset="0.2735" stop-color="#e6e2a9"/><stop offset="0.2780" stop-color="#e4dfa0"/><stop offset="0.2842" stop-color="#dfda8c"/><stop offset="0.2871" stop-color="#d8d16d"/><stop offset="0.2879" stop-color="#d6cf66"/><stop offset="0.2915" stop-color="#d0c848"/><stop offset="0.2951" stop-color="#cac235"/><stop offset="0.2997" stop-color="#c5be31"/><stop offset="0.3008" stop-color="#c4be32"/><stop offset="0.3121" stop-color="#bdba34"/><stop offset="0.3145" stop-color="#acb52f"/><stop offset="0.3152" stop-color="#b0b32e"/><stop offset="0.3183" stop-color="#beb130"/><stop offset="0.3282" stop-color="#c4af30"/><stop offset="0.3380" stop-color="#beb130"/><stop offset="0.3411" stop-color="#b0b32e"/><stop offset="0.3442" stop-color="#bdba34"/><stop offset="0.3479" stop-color="#c0bb33"/><stop offset="0.3576" stop-color="#c5be31"/><stop offset="0.3623" stop-color="#cac235"/><stop offset="0.3664" stop-color="#d0c848"/><stop offset="0.3677" stop-color="#d2ca51"/><stop offset="0.3705" stop-color="#d6cf66"/><stop offset="0.3747" stop-color="#dfda8c"/><stop offset="0.3829" stop-color="#e4dfa0"/><stop offset="0.3874" stop-color="#e8e4af"/><stop offset="0.3902" stop-color="#eae6b8"/><stop offset="0.4005" stop-color="#efeccb"/><stop offset="0.4072" stop-color="#f0eed2"/><stop offset="0.4160" stop-color="#f3f1da"/><stop offset="0.4270" stop-color="#f4f3df"/><stop offset="0.4367" stop-color="#f5f4e2"/><stop offset="0.4467" stop-color="#f6f5e5"/><stop offset="0.4665" stop-color="#f8f7ea"/><stop offset="0.4677" stop-color="#f8f7ea"/><stop offset="0.4862" stop-color="#f9f9ed"/><stop offset="0.5060" stop-color="#fafaf0"/><stop offset="0.5090" stop-color="#fafaf0"/><stop offset="0.5258" stop-color="#fafaf1"/><stop offset="0.5455" stop-color="#fbfbf3"/><stop offset="0.5653" stop-color="#fbfbf4"/><stop offset="0.5711" stop-color="#fcfcf5"/><stop offset="0.5850" stop-color="#fcfcf6"/><stop offset="0.6048" stop-color="#fcfcf7"/><stop offset="0.6246" stop-color="#fcfcf7"/><stop offset="0.6443" stop-color="#fdfdf8"/><stop offset="0.6641" stop-color="#fdfdf9"/><stop offset="0.6838" stop-color="#fdfdfa"/><stop offset="0.7036" stop-color="#fdfdfa"/><stop offset="0.7234" stop-color="#fefefb"/><stop offset="0.7431" stop-color="#fefefb"/><stop offset="0.7629" stop-color="#fefefc"/><stop offset="0.7933" stop-color="#fefefc"/><stop offset="0.8024" stop-color="#fefefd"/><stop offset="0.8617" stop-color="#fefefd"/><stop offset="0.8814" stop-color="#fffffe"/><stop offset="0.9407" stop-color="#fffffe"/><stop offset="0.9605" stop-color="#ffffff"/><stop offset="1.0000" stop-color="#ffffff"/></linearGradient><linearGradient id="g40"><stop offset="0.0000" stop-color="#ffffff"/><stop offset="0.0078" stop-color="#fefefd"/><stop offset="0.0137" stop-color="#fefefc"/><stop offset="0.0181" stop-color="#fefefc"/><stop offset="0.0273" stop-color="#fefefb"/><stop offset="0.0410" stop-color="#fdfdfa"/><stop offset="0.0439" stop-color="#fdfdfa"/><stop offset="0.0547" stop-color="#fdfdf9"/><stop offset="0.0684" stop-color="#fdfdf8"/><stop offset="0.0820" stop-color="#fcfcf7"/><stop offset="0.0957" stop-color="#fcfcf7"/><stop offset="0.1094" stop-color="#fcfcf5"/><stop offset="0.1231" stop-color="#fbfbf4"/><stop offset="0.1367" stop-color="#fbfbf3"/><stop offset="0.1504" stop-color="#fafaf1"/><stop offset="0.1576" stop-color="#fafaf1"/><stop offset="0.1641" stop-color="#fafaef"/><stop offset="0.1778" stop-color="#f9f9ed"/><stop offset="0.1914" stop-color="#f8f7ea"/><stop offset="0.2041" stop-color="#f7f6e7"/><stop offset="0.2051" stop-color="#f7f6e7"/><stop offset="0.2188" stop-color="#f5f4e2"/><stop offset="0.2325" stop-color="#f4f2de"/><stop offset="0.2351" stop-color="#f4f2dd"/><stop offset="0.2461" stop-color="#f1efd5"/><stop offset="0.2532" stop-color="#f0edcf"/><stop offset="0.2598" stop-color="#eeebc6"/><stop offset="0.2636" stop-color="#ece9c1"/><stop offset="0.2718" stop-color="#e9e5b2"/><stop offset="0.2735" stop-color="#e8e4af"/><stop offset="0.2780" stop-color="#e6e1a7"/><stop offset="0.2842" stop-color="#e1dc95"/><stop offset="0.2871" stop-color="#dad477"/><stop offset="0.2879" stop-color="#d9d270"/><stop offset="0.2915" stop-color="#d3cb54"/><stop offset="0.2951" stop-color="#ccc43b"/><stop offset="0.2997" stop-color="#c8c030"/><stop offset="0.3008" stop-color="#c7c030"/><stop offset="0.3121" stop-color="#c1bc33"/><stop offset="0.3145" stop-color="#b7b832"/><stop offset="0.3152" stop-color="#b2b630"/><stop offset="0.3183" stop-color="#abb42e"/><stop offset="0.3282" stop-color="#b3b32f"/><stop offset="0.3380" stop-color="#abb42e"/><stop offset="0.3411" stop-color="#b2b630"/><stop offset="0.3442" stop-color="#c1bc33"/><stop offset="0.3479" stop-color="#c3bd32"/><stop offset="0.3576" stop-color="#c8c030"/><stop offset="0.3623" stop-color="#ccc43b"/><stop offset="0.3664" stop-color="#d3cb54"/><stop offset="0.3677" stop-color="#d5cd5d"/><stop offset="0.3705" stop-color="#d9d270"/><stop offset="0.3747" stop-color="#e1dc95"/><stop offset="0.3829" stop-color="#e6e1a7"/><stop offset="0.3874" stop-color="#e9e5b5"/><stop offset="0.3902" stop-color="#ebe8bd"/><stop offset="0.4005" stop-color="#f0edcf"/><stop offset="0.4072" stop-color="#f1efd5"/><stop offset="0.4160" stop-color="#f4f2dd"/><stop offset="0.4270" stop-color="#f5f4e1"/><stop offset="0.4367" stop-color="#f6f5e4"/><stop offset="0.4467" stop-color="#f7f6e7"/><stop offset="0.4665" stop-color="#f8f8eb"/><stop offset="0.4677" stop-color="#f8f8eb"/><stop offset="0.4862" stop-color="#f9f9ee"/><stop offset="0.5060" stop-color="#fafaf1"/><stop offset="0.5090" stop-color="#fafaf1"/><stop offset="0.5258" stop-color="#fbfbf2"/><stop offset="0.5455" stop-color="#fbfbf4"/><stop offset="0.5653" stop-color="#fcfcf5"/><stop offset="0.5711" stop-color="#fcfcf6"/><stop offset="0.5850" stop-color="#fcfcf6"/><stop offset="0.6048" stop-color="#fcfcf7"/><stop offset="0.6246" stop-color="#fdfdf8"/><stop offset="0.6443" stop-color="#fdfdf9"/><stop offset="0.6641" stop-color="#fdfdfa"/><stop offset="0.6838" stop-color="#fdfdfa"/><stop offset="0.7036" stop-color="#fefefb"/><stop offset="0.7234" stop-color="#fefefb"/><stop offset="0.7431" stop-color="#fefefc"/><stop offset="0.7826" stop-color="#fefefc"/><stop offset="0.7933" stop-color="#fefefd"/><stop offset="0.8617" stop-color="#fefefd"/><stop offset="0.8814" stop-color="#fffffe"/><stop offset="0.9407" stop-color="#fffffe"/><stop offset="0.9605" stop-color="#ffffff"/><stop offset="1.0000" stop-color="#ffffff"/></linearGradient><linearGradient id="g41"><stop offset="0.0000" stop-color="#ffffff"/><stop offset="0.0078" stop-color="#fefefd"/><stop offset="0.0137" stop-color="#fefefd"/><stop offset="0.0181" stop-color="#fefefc"/><stop offset="0.0273" stop-color="#fefefb"/><stop offset="0.0410" stop-color="#fdfdfa"/><stop offset="0.0547" stop-color="#fdfdfa"/><stop offset="0.0684" stop-color="#fdfdf9"/><stop offset="0.0820" stop-color="#fdfdf8"/><stop offset="0.0956" stop-color="#fcfcf7"/><stop offset="0.0957" stop-color="#fcfcf7"/><stop offset="0.1094" stop-color="#fcfcf6"/><stop offset="0.1231" stop-color="#fcfcf5"/><stop offset="0.1367" stop-color="#fbfbf3"/><stop offset="0.1504" stop-color="#fbfbf2"/><stop offset="0.1576" stop-color="#fbfbf2"/><stop offset="0.1641" stop-color="#fafaf1"/><stop offset="0.1778" stop-color="#f9f9ee"/><stop offset="0.1914" stop-color="#f9f8ec"/><stop offset="0.2041" stop-color="#f8f7e9"/><stop offset="0.2051" stop-color="#f8f7e9"/><stop offset="0.2188" stop-color="#f6f5e5"/><stop offset="0.2325" stop-color="#f5f3e0"/><stop offset="0.2351" stop-color="#f4f3df"/><stop offset="0.2461" stop-color="#f2f0d9"/><stop offset="0.2532" stop-color="#f1efd3"/><stop offset="0.2598" stop-color="#efeccb"/><stop offset="0.2636" stop-color="#edebc6"/><stop offset="0.2718" stop-color="#eae7b9"/><stop offset="0.2735" stop-color="#e9e6b6"/><stop offset="0.2780" stop-color="#e8e4ae"/><stop offset="0.2842" stop-color="#e3de9d"/><stop offset="0.2871" stop-color="#dcd681"/><stop offset="0.2879" stop-color="#dbd57b"/><stop offset="0.2915" stop-color="#d5ce61"/><stop offset="0.2951" stop-color="#cec642"/><stop offset="0.2997" stop-color="#cac237"/><stop offset="0.3008" stop-color="#cac236"/><stop offset="0.3121" stop-color="#c5be31"/><stop offset="0.3145" stop-color="#c0bb33"/><stop offset="0.3152" stop-color="#beba34"/><stop offset="0.3183" stop-color="#b5b731"/><stop offset="0.3282" stop-color="#b0b630"/><stop offset="0.3380" stop-color="#b5b731"/><stop offset="0.3411" stop-color="#beba34"/><stop offset="0.3442" stop-color="#c5be31"/><stop offset="0.3479" stop-color="#c7bf31"/><stop offset="0.3576" stop-color="#cac237"/><stop offset="0.3623" stop-color="#cec642"/><stop offset="0.3664" stop-color="#d5ce61"/><stop offset="0.3677" stop-color="#d7d069"/><stop offset="0.3705" stop-color="#dbd57b"/><stop offset="0.3747" stop-color="#e3de9d"/><stop offset="0.3829" stop-color="#e8e4ae"/><stop offset="0.3874" stop-color="#ebe7bb"/><stop offset="0.3902" stop-color="#edeac3"/><stop offset="0.4005" stop-color="#f1efd3"/><stop offset="0.4072" stop-color="#f2f0d9"/><stop offset="0.4160" stop-color="#f4f3df"/><stop offset="0.4270" stop-color="#f6f5e3"/><stop offset="0.4367" stop-color="#f7f6e7"/><stop offset="0.4467" stop-color="#f8f7e9"/><stop offset="0.4665" stop-color="#f9f9ed"/><stop offset="0.4677" stop-color="#f9f9ed"/><stop offset="0.4862" stop-color="#fafaef"/><stop offset="0.5060" stop-color="#fbfbf2"/><stop offset="0.5090" stop-color="#fbfbf2"/><stop offset="0.5258" stop-color="#fbfbf3"/><stop offset="0.5455" stop-color="#fcfcf5"/><stop offset="0.5653" stop-color="#fcfcf6"/><stop offset="0.5711" stop-color="#fcfcf6"/><stop offset="0.5850" stop-color="#fcfcf7"/><stop offset="0.6048" stop-color="#fdfdf8"/><stop offset="0.6246" stop-color="#fdfdf8"/><stop offset="0.6443" stop-color="#fdfdf9"/><stop offset="0.6641" stop-color="#fdfdfa"/><stop offset="0.6838" stop-color="#fefefb"/><stop offset="0.7234" stop-color="#fefefb"/><stop offset="0.7431" stop-color="#fefefc"/><stop offset="0.7629" stop-color="#fefefc"/><stop offset="0.7826" stop-color="#fefefd"/><stop offset="0.8419" stop-color="#fefefd"/><stop offset="0.8617" stop-color="#fffffe"/><stop offset="0.9407" stop-color="#fffffe"/><stop offset="0.9605" stop-color="#ffffff"/><stop offset="1.0000" stop-color="#ffffff"/></linearGradient><linearGradient id="g42"><stop offset="0.0000" stop-color="#ffffff"/><stop offset="0.0078" stop-color="#fefefd"/><stop offset="0.0137" stop-color="#fefefd"/><stop offset="0.0181" stop-color="#fefefc"/><stop offset="0.0273" stop-color="#fefefc"/><stop offset="0.0410" stop-color="#fefefb"/><stop offset="0.0439" stop-color="#fefefa"/><stop offset="0.0547" stop-color="#fdfdfa"/><stop offset="0.0684" stop-color="#fdfdf9"/><stop offset="0.0820" stop-color="#fdfdf9"/><stop offset="0.0956" stop-color="#fdfdf8"/><stop offset="0.0957" stop-color="#fdfdf8"/><stop offset="0.1094" stop-color="#fcfcf7"/><stop offset="0.1231" stop-color="#fcfcf6"/><stop offset="0.1367" stop-color="#fbfbf4"/><stop offset="0.1504" stop-color="#fbfbf3"/><stop offset="0.1576" stop-color="#fbfbf3"/><stop offset="0.1641" stop-color="#fbfbf2"/><stop offset="0.1778" stop-color="#fafaf0"/><stop offset="0.1914" stop-color="#f9f9ed"/><stop offset="0.2041" stop-color="#f8f8eb"/><stop offset="0.2051" stop-color="#f8f8eb"/><stop offset="0.2188" stop-color="#f7f6e7"/><stop offset="0.2325" stop-color="#f6f5e3"/><stop offset="0.2351" stop-color="#f5f4e2"/><stop offset="0.2461" stop-color="#f3f2dc"/><stop offset="0.2532" stop-color="#f2f0d7"/><stop offset="0.2598" stop-color="#f0edd0"/><stop offset="0.2636" stop-color="#efeccb"/><stop offset="0.2718" stop-color="#ece8bf"/><stop offset="0.2735" stop-color="#ebe8bc"/><stop offset="0.2780" stop-color="#e9e6b5"/><stop offset="0.2842" stop-color="#e5e1a6"/><stop offset="0.2871" stop-color="#dfd98c"/><stop offset="0.2879" stop-color="#ddd886"/><stop offset="0.2915" stop-color="#d8d16d"/><stop offset="0.2951" stop-color="#d0c849"/><stop offset="0.2997" stop-color="#cdc53e"/><stop offset="0.3008" stop-color="#ccc43d"/><stop offset="0.3121" stop-color="#c9c132"/><stop offset="0.3145" stop-color="#c4bd32"/><stop offset="0.3152" stop-color="#c2bc32"/><stop offset="0.3183" stop-color="#bfbb33"/><stop offset="0.3282" stop-color="#bdba34"/><stop offset="0.3380" stop-color="#bfbb33"/><stop offset="0.3411" stop-color="#c2bc32"/><stop offset="0.3442" stop-color="#c9c132"/><stop offset="0.3479" stop-color="#cac235"/><stop offset="0.3576" stop-color="#cdc53e"/><stop offset="0.3623" stop-color="#d0c849"/><stop offset="0.3664" stop-color="#d8d16d"/><stop offset="0.3677" stop-color="#dad375"/><stop offset="0.3705" stop-color="#ddd886"/><stop offset="0.3747" stop-color="#e5e1a6"/><stop offset="0.3829" stop-color="#e9e6b5"/><stop offset="0.3874" stop-color="#ece9c1"/><stop offset="0.3902" stop-color="#eeebc8"/><stop offset="0.4005" stop-color="#f2f0d7"/><stop offset="0.4072" stop-color="#f3f2dc"/><stop offset="0.4160" stop-color="#f5f4e2"/><stop offset="0.4270" stop-color="#f7f6e6"/><stop offset="0.4367" stop-color="#f8f7e9"/><stop offset="0.4467" stop-color="#f8f8eb"/><stop offset="0.4665" stop-color="#f9f9ee"/><stop offset="0.4677" stop-color="#faf9ef"/><stop offset="0.4862" stop-color="#fafaf1"/><stop offset="0.5060" stop-color="#fbfbf3"/><stop offset="0.5090" stop-color="#fbfbf3"/><stop offset="0.5258" stop-color="#fbfbf4"/><stop offset="0.5455" stop-color="#fcfcf5"/><stop offset="0.5653" stop-color="#fcfcf7"/><stop offset="0.5850" stop-color="#fcfcf7"/><stop offset="0.6048" stop-color="#fdfdf8"/><stop offset="0.6246" stop-color="#fdfdf9"/><stop offset="0.6443" stop-color="#fdfdfa"/><stop offset="0.6641" stop-color="#fefefa"/><stop offset="0.6838" stop-color="#fefefb"/><stop offset="0.7036" stop-color="#fefefb"/><stop offset="0.7234" stop-color="#fefefc"/><stop offset="0.7629" stop-color="#fefefc"/><stop offset="0.7826" stop-color="#fefefd"/><stop offset="0.8419" stop-color="#fefefd"/><stop offset="0.8617" stop-color="#fffffe"/><stop offset="0.9407" stop-color="#fffffe"/><stop offset="0.9605" stop-color="#ffffff"/><stop offset="1.0000" stop-color="#ffffff"/></linearGradient><linearGradient id="g43"><stop offset="0.0000" stop-color="#ffffff"/><stop offset="0.0078" stop-color="#fffffe"/><stop offset="0.0137" stop-color="#fefefd"/><stop offset="0.0181" stop-color="#fefefd"/><stop offset="0.0273" stop-color="#fefefc"/><stop offset="0.0410" stop-color="#fefefb"/><stop offset="0.0439" stop-color="#fefefb"/><stop offset="0.0547" stop-color="#fdfdfa"/><stop offset="0.0684" stop-color="#fdfdfa"/><stop offset="0.0820" stop-color="#fdfdf9"/><stop offset="0.0956" stop-color="#fdfdf8"/><stop offset="0.0957" stop-color="#fdfdf8"/><stop offset="0.1094" stop-color="#fcfcf7"/><stop offset="0.1231" stop-color="#fcfcf6"/><stop offset="0.1367" stop-color="#fcfcf5"/><stop offset="0.1504" stop-color="#fbfbf4"/><stop offset="0.1576" stop-color="#fbfbf4"/><stop offset="0.1641" stop-color="#fbfbf3"/><stop offset="0.1778" stop-color="#fafaf1"/><stop offset="0.1914" stop-color="#fafaef"/><stop offset="0.2041" stop-color="#f9f9ed"/><stop offset="0.2051" stop-color="#f9f9ed"/><stop offset="0.2188" stop-color="#f8f7e9"/><stop offset="0.2325" stop-color="#f6f6e5"/><stop offset="0.2351" stop-color="#f6f5e5"/><stop offset="0.2461" stop-color="#f4f3df"/><stop offset="0.2532" stop-color="#f3f1db"/><stop offset="0.2598" stop-color="#f1efd4"/><stop offset="0.2636" stop-color="#f0eed0"/><stop offset="0.2718" stop-color="#edeac5"/><stop offset="0.2735" stop-color="#edeac3"/><stop offset="0.2780" stop-color="#ebe8bc"/><stop offset="0.2842" stop-color="#e8e3ae"/><stop offset="0.2871" stop-color="#e2dd97"/><stop offset="0.2879" stop-color="#e0db91"/><stop offset="0.2915" stop-color="#dbd47a"/><stop offset="0.2951" stop-color="#d4cc59"/><stop offset="0.2997" stop-color="#cfc746"/><stop offset="0.3008" stop-color="#cfc745"/><stop offset="0.3121" stop-color="#cbc33a"/><stop offset="0.3145" stop-color="#c8c030"/><stop offset="0.3152" stop-color="#c6bf31"/><stop offset="0.3183" stop-color="#c4bd32"/><stop offset="0.3282" stop-color="#c2bd32"/><stop offset="0.3380" stop-color="#c4bd32"/><stop offset="0.3411" stop-color="#c6bf31"/><stop offset="0.3442" stop-color="#cbc33a"/><stop offset="0.3479" stop-color="#ccc43d"/><stop offset="0.3576" stop-color="#cfc746"/><stop offset="0.3623" stop-color="#d4cc59"/><stop offset="0.3664" stop-color="#dbd47a"/><stop offset="0.3677" stop-color="#dcd681"/><stop offset="0.3705" stop-color="#e0db91"/><stop offset="0.3747" stop-color="#e8e3ae"/><stop offset="0.3829" stop-color="#ebe8bc"/><stop offset="0.3874" stop-color="#eeebc7"/><stop offset="0.3902" stop-color="#efedcd"/><stop offset="0.4005" stop-color="#f3f1db"/><stop offset="0.4072" stop-color="#f4f3df"/><stop offset="0.4160" stop-color="#f6f5e5"/><stop offset="0.4270" stop-color="#f7f7e8"/><stop offset="0.4367" stop-color="#f8f8eb"/><stop offset="0.4467" stop-color="#f9f9ec"/><stop offset="0.4665" stop-color="#fafaf0"/><stop offset="0.4677" stop-color="#fafaf0"/><stop offset="0.4862" stop-color="#fbfbf2"/><stop offset="0.5060" stop-color="#fbfbf4"/><stop offset="0.5090" stop-color="#fbfbf4"/><stop offset="0.5258" stop-color="#fcfcf5"/><stop offset="0.5455" stop-color="#fcfcf6"/><stop offset="0.5653" stop-color="#fcfcf7"/><stop offset="0.5711" stop-color="#fdfdf8"/><stop offset="0.5850" stop-color="#fdfdf8"/><stop offset="0.6048" stop-color="#fdfdf9"/><stop offset="0.6246" stop-color="#fdfdf9"/><stop offset="0.6443" stop-color="#fdfdfa"/><stop offset="0.6641" stop-color="#fefefb"/><stop offset="0.6838" stop-color="#fefefb"/><stop offset="0.7036" stop-color="#fefefc"/><stop offset="0.7431" stop-color="#fefefc"/><stop offset="0.7629" stop-color="#fefefd"/><stop offset="0.8222" stop-color="#fefefd"/><stop offset="0.8419" stop-color="#fffffe"/><stop offset="0.9407" stop-color="#fffffe"/><stop offset="0.9605" stop-color="#ffffff"/><stop offset="1.0000" stop-color="#ffffff"/></linearGradient><linearGradient id="g44"><stop offset="0.0000" stop-color="#ffffff"/><stop offset="0.0078" stop-color="#fffffe"/><stop offset="0.0137" stop-color="#fefefd"/><stop offset="0.0181" stop-color="#fefefd"/><stop offset="0.0273" stop-color="#fefefc"/><stop offset="0.0410" stop-color="#fefefb"/><stop offset="0.0547" stop-color="#fefefb"/><stop offset="0.0684" stop-color="#fdfdfa"/><stop offset="0.0820" stop-color="#fdfdfa"/><stop offset="0.0956" stop-color="#fdfdf9"/><stop offset="0.0957" stop-color="#fdfdf9"/><stop offset="0.1094" stop-color="#fdfdf8"/><stop offset="0.1231" stop-color="#fcfcf7"/><stop offset="0.1367" stop-color="#fcfcf6"/><stop offset="0.1504" stop-color="#fcfcf5"/><stop offset="0.1576" stop-color="#fcfcf5"/><stop offset="0.1641" stop-color="#fbfbf4"/><stop offset="0.1778" stop-color="#fbfbf2"/><stop offset="0.1914" stop-color="#fafaf1"/><stop offset="0.2041" stop-color="#fafaef"/><stop offset="0.2051" stop-color="#faf9ef"/><stop offset="0.2188" stop-color="#f8f8eb"/><stop offset="0.2325" stop-color="#f7f7e8"/><stop offset="0.2351" stop-color="#f7f6e7"/><stop offset="0.2461" stop-color="#f5f4e2"/><stop offset="0.2532" stop-color="#f4f3df"/><stop offset="0.2598" stop-color="#f2f0d9"/><stop offset="0.2636" stop-color="#f1efd5"/><stop offset="0.2718" stop-color="#efeccb"/><stop offset="0.2735" stop-color="#eeecc9"/><stop offset="0.2780" stop-color="#edeac3"/><stop offset="0.2842" stop-color="#eae6b6"/><stop offset="0.2871" stop-color="#e4e0a1"/><stop offset="0.2879" stop-color="#e3de9c"/><stop offset="0.2915" stop-color="#ded887"/><stop offset="0.2951" stop-color="#d7d068"/><stop offset="0.2997" stop-color="#d3cb54"/><stop offset="0.3008" stop-color="#d2cb52"/><stop offset="0.3121" stop-color="#cec643"/><stop offset="0.3145" stop-color="#cbc339"/><stop offset="0.3152" stop-color="#cac236"/><stop offset="0.3183" stop-color="#c8c031"/><stop offset="0.3282" stop-color="#c7bf30"/><stop offset="0.3380" stop-color="#c8c031"/><stop offset="0.3411" stop-color="#cac236"/><stop offset="0.3442" stop-color="#cec643"/><stop offset="0.3479" stop-color="#cfc746"/><stop offset="0.3576" stop-color="#d3cb54"/><stop offset="0.3623" stop-color="#d7d068"/><stop offset="0.3664" stop-color="#ded887"/><stop offset="0.3677" stop-color="#dfda8d"/><stop offset="0.3705" stop-color="#e3de9c"/><stop offset="0.3747" stop-color="#eae6b6"/><stop offset="0.3829" stop-color="#edeac3"/><stop offset="0.3874" stop-color="#efedcd"/><stop offset="0.3902" stop-color="#f1eed3"/><stop offset="0.4005" stop-color="#f4f3df"/><stop offset="0.4072" stop-color="#f5f4e2"/><stop offset="0.4160" stop-color="#f7f6e7"/><stop offset="0.4270" stop-color="#f8f8ea"/><stop offset="0.4367" stop-color="#f9f9ed"/><stop offset="0.4467" stop-color="#f9f9ee"/><stop offset="0.4665" stop-color="#fafaf1"/><stop offset="0.4677" stop-color="#fafaf2"/><stop offset="0.4862" stop-color="#fbfbf3"/><stop offset="0.5060" stop-color="#fcfcf5"/><stop offset="0.5090" stop-color="#fcfcf5"/><stop offset="0.5258" stop-color="#fcfcf6"/><stop offset="0.5455" stop-color="#fcfcf7"/><stop offset="0.5653" stop-color="#fdfdf8"/><stop offset="0.5711" stop-color="#fdfdf8"/><stop offset="0.5850" stop-color="#fdfdf9"/><stop offset="0.6048" stop-color="#fdfdf9"/><stop offset="0.6246" stop-color="#fdfdfa"/><stop offset="0.6443" stop-color="#fefefb"/><stop offset="0.6641" stop-color="#fefefb"/><stop offset="0.6838" stop-color="#fefefc"/><stop offset="0.7234" stop-color="#fefefc"/><stop offset="0.7431" stop-color="#fefefd"/><stop offset="0.8024" stop-color="#fefefd"/><stop offset="0.8222" stop-color="#fffffe"/><stop offset="0.9210" stop-color="#fffffe"/><stop offset="0.9407" stop-color="#ffffff"/><stop offset="1.0000" stop-color="#ffffff"/></linearGradient><linearGradient id="g45"><stop offset="0.0000" stop-color="#ffffff"/><stop offset="0.0078" stop-color="#fffffe"/><stop offset="0.0137" stop-color="#fefefd"/><stop offset="0.0181" stop-color="#fefefd"/><stop offset="0.0273" stop-color="#fefefc"/><stop offset="0.0439" stop-color="#fefefc"/><stop offset="0.0547" stop-color="#fefefb"/><stop offset="0.0684" stop-color="#fefefb"/><stop offset="0.0820" stop-color="#fdfdfa"/><stop offset="0.0957" stop-color="#fdfdfa"/><stop offset="0.1094" stop-color="#fdfdf9"/><stop offset="0.1231" stop-color="#fdfdf8"/><stop offset="0.1367" stop-color="#fcfcf7"/><stop offset="0.1504" stop-color="#fcfcf6"/><stop offset="0.1576" stop-color="#fcfcf6"/><stop offset="0.1641" stop-color="#fcfcf5"/><stop offset="0.1778" stop-color="#fbfbf4"/><stop offset="0.1914" stop-color="#fbfbf2"/><stop offset="0.2041" stop-color="#fafaf1"/><stop offset="0.2051" stop-color="#fafaf0"/><stop offset="0.2188" stop-color="#f9f9ee"/><stop offset="0.2325" stop-color="#f8f8ea"/><stop offset="0.2351" stop-color="#f8f7ea"/><stop offset="0.2461" stop-color="#f6f5e5"/><stop offset="0.2532" stop-color="#f5f4e2"/><stop offset="0.2598" stop-color="#f4f2dd"/><stop offset="0.2636" stop-color="#f3f1da"/><stop offset="0.2718" stop-color="#f0eed1"/><stop offset="0.2735" stop-color="#f0edcf"/><stop offset="0.2780" stop-color="#efecca"/><stop offset="0.2842" stop-color="#ece8bf"/><stop offset="0.2871" stop-color="#e7e3ac"/><stop offset="0.2879" stop-color="#e6e1a7"/><stop offset="0.2915" stop-color="#e1dc94"/><stop offset="0.2951" stop-color="#dad478"/><stop offset="0.2997" stop-color="#d6cf66"/><stop offset="0.3008" stop-color="#d6cf64"/><stop offset="0.3121" stop-color="#d2ca4f"/><stop offset="0.3145" stop-color="#cec642"/><stop offset="0.3152" stop-color="#cdc540"/><stop offset="0.3183" stop-color="#ccc43b"/><stop offset="0.3282" stop-color="#cbc338"/><stop offset="0.3380" stop-color="#ccc43b"/><stop offset="0.3411" stop-color="#cdc540"/><stop offset="0.3442" stop-color="#d2ca4f"/><stop offset="0.3479" stop-color="#d3cb56"/><stop offset="0.3576" stop-color="#d6cf66"/><stop offset="0.3623" stop-color="#dad478"/><stop offset="0.3664" stop-color="#e1dc94"/><stop offset="0.3677" stop-color="#e2de9a"/><stop offset="0.3705" stop-color="#e6e1a7"/><stop offset="0.3747" stop-color="#ece8bf"/><stop offset="0.3829" stop-color="#efecca"/><stop offset="0.3874" stop-color="#f1eed3"/><stop offset="0.3902" stop-color="#f2f0d8"/><stop offset="0.4005" stop-color="#f5f4e2"/><stop offset="0.4072" stop-color="#f6f6e5"/><stop offset="0.4160" stop-color="#f8f7ea"/><stop offset="0.4270" stop-color="#f9f9ec"/><stop offset="0.4367" stop-color="#fafaef"/><stop offset="0.4467" stop-color="#fafaf0"/><stop offset="0.4665" stop-color="#fbfbf3"/><stop offset="0.4677" stop-color="#fbfbf3"/><stop offset="0.4862" stop-color="#fbfbf4"/><stop offset="0.5060" stop-color="#fcfcf6"/><stop offset="0.5090" stop-color="#fcfcf6"/><stop offset="0.5258" stop-color="#fcfcf7"/><stop offset="0.5455" stop-color="#fdfdf8"/><stop offset="0.5653" stop-color="#fdfdf9"/><stop offset="0.5850" stop-color="#fdfdf9"/><stop offset="0.6048" stop-color="#fdfdfa"/><stop offset="0.6246" stop-color="#fdfdfa"/><stop offset="0.6443" stop-color="#fefefb"/><stop offset="0.6641" stop-color="#fefefc"/><stop offset="0.7234" stop-color="#fefefc"/><stop offset="0.7431" stop-color="#fefefd"/><stop offset="0.7933" stop-color="#fefefd"/><stop offset="0.8024" stop-color="#fffffe"/><stop offset="0.9210" stop-color="#fffffe"/><stop offset="0.9407" stop-color="#ffffff"/><stop offset="1.0000" stop-color="#ffffff"/></linearGradient><linearGradient id="g46"><stop offset="0.0000" stop-color="#ffffff"/><stop offset="0.0078" stop-color="#fffffe"/><stop offset="0.0137" stop-color="#fffffe"/><stop offset="0.0181" stop-color="#fefefd"/><stop offset="0.0273" stop-color="#fefefd"/><stop offset="0.0410" stop-color="#fefefc"/><stop offset="0.0547" stop-color="#fefefc"/><stop offset="0.0684" stop-color="#fefefb"/><stop offset="0.0820" stop-color="#fefefb"/><stop offset="0.0956" stop-color="#fdfdfa"/><stop offset="0.0957" stop-color="#fdfdfa"/><stop offset="0.1094" stop-color="#fdfdf9"/><stop offset="0.1231" stop-color="#fdfdf9"/><stop offset="0.1367" stop-color="#fdfdf8"/><stop offset="0.1504" stop-color="#fcfcf7"/><stop offset="0.1576" stop-color="#fcfcf7"/><stop offset="0.1641" stop-color="#fcfcf6"/><stop offset="0.1778" stop-color="#fcfcf5"/><stop offset="0.1914" stop-color="#fbfbf3"/><stop offset="0.2041" stop-color="#fbfbf2"/><stop offset="0.2051" stop-color="#fbfbf2"/><stop offset="0.2188" stop-color="#fafaf0"/><stop offset="0.2325" stop-color="#f9f9ed"/><stop offset="0.2351" stop-color="#f9f9ed"/><stop offset="0.2461" stop-color="#f7f7e8"/><stop offset="0.2532" stop-color="#f7f6e6"/><stop offset="0.2598" stop-color="#f5f4e1"/><stop offset="0.2636" stop-color="#f4f3df"/><stop offset="0.2718" stop-color="#f2f0d7"/><stop offset="0.2735" stop-color="#f1efd6"/><stop offset="0.2780" stop-color="#f0eed1"/><stop offset="0.2842" stop-color="#eeebc7"/><stop offset="0.2871" stop-color="#eae6b6"/><stop offset="0.2879" stop-color="#e9e5b2"/><stop offset="0.2915" stop-color="#e4e0a1"/><stop offset="0.2951" stop-color="#ded888"/><stop offset="0.2997" stop-color="#dad477"/><stop offset="0.3008" stop-color="#dad376"/><stop offset="0.3121" stop-color="#d6cf63"/><stop offset="0.3145" stop-color="#d2ca51"/><stop offset="0.3152" stop-color="#d1c94b"/><stop offset="0.3183" stop-color="#cfc745"/><stop offset="0.3282" stop-color="#cec643"/><stop offset="0.3380" stop-color="#cfc745"/><stop offset="0.3411" stop-color="#d1c94b"/><stop offset="0.3442" stop-color="#d6cf63"/><stop offset="0.3479" stop-color="#d7d069"/><stop offset="0.3576" stop-color="#dad477"/><stop offset="0.3623" stop-color="#ded888"/><stop offset="0.3664" stop-color="#e4e0a1"/><stop offset="0.3677" stop-color="#e6e1a7"/><stop offset="0.3705" stop-color="#e9e5b2"/><stop offset="0.3747" stop-color="#eeebc7"/><stop offset="0.3829" stop-color="#f0eed1"/><stop offset="0.3874" stop-color="#f2f0d9"/><stop offset="0.3902" stop-color="#f4f2dd"/><stop offset="0.4005" stop-color="#f7f6e6"/><stop offset="0.4072" stop-color="#f8f7e9"/><stop offset="0.4160" stop-color="#f9f9ed"/><stop offset="0.4270" stop-color="#fafaef"/><stop offset="0.4367" stop-color="#fafaf1"/><stop offset="0.4467" stop-color="#fbfbf2"/><stop offset="0.4665" stop-color="#fbfbf4"/><stop offset="0.4677" stop-color="#fbfbf4"/><stop offset="0.4862" stop-color="#fcfcf5"/><stop offset="0.5060" stop-color="#fcfcf7"/><stop offset="0.5090" stop-color="#fcfcf7"/><stop offset="0.5258" stop-color="#fdfdf8"/><stop offset="0.5455" stop-color="#fdfdf9"/><stop offset="0.5653" stop-color="#fdfdf9"/><stop offset="0.5711" stop-color="#fdfdfa"/><stop offset="0.6048" stop-color="#fdfdfa"/><stop offset="0.6246" stop-color="#fefefb"/><stop offset="0.6443" stop-color="#fefefb"/><stop offset="0.6641" stop-color="#fefefc"/><stop offset="0.6838" stop-color="#fefefc"/><stop offset="0.7036" stop-color="#fefefd"/><stop offset="0.7629" stop-color="#fefefd"/><stop offset="0.7826" stop-color="#fffffe"/><stop offset="0.9210" stop-color="#fffffe"/><stop offset="0.9407" stop-color="#ffffff"/><stop offset="1.0000" stop-color="#ffffff"/></linearGradient><linearGradient id="stb49"><stop offset="0" stop-color="#f0e830" stop-opacity="0"/><stop offset="0.3" stop-color="#f0e830" stop-opacity="0.75"/><stop offset="0.7" stop-color="#f0e830" stop-opacity="0.75"/><stop offset="1" stop-color="#f0e830" stop-opacity="0"/></linearGradient><linearGradient id="stb50"><stop offset="0" stop-color="#f0e830" stop-opacity="0"/><stop offset="0.3" stop-color="#f0e830" stop-opacity="0.85"/><stop offset="0.7" stop-color="#f0e830" stop-opacity="0.85"/><stop offset="1" stop-color="#f0e830" stop-opacity="0"/></linearGradient><linearGradient id="g47"><stop offset="0.0000" stop-color="#ffffff"/><stop offset="0.0077" stop-color="#fdfdf8"/><stop offset="0.0137" stop-color="#fcfcf6"/><stop offset="0.0179" stop-color="#fbfbf4"/><stop offset="0.0275" stop-color="#fbfbf2"/><stop offset="0.0412" stop-color="#fafaef"/><stop offset="0.0435" stop-color="#fafaef"/><stop offset="0.0550" stop-color="#f9f9ed"/><stop offset="0.0687" stop-color="#f8f8eb"/><stop offset="0.0825" stop-color="#f8f7e9"/><stop offset="0.0946" stop-color="#f7f6e7"/><stop offset="0.0962" stop-color="#f7f6e7"/><stop offset="0.1100" stop-color="#f6f5e3"/><stop offset="0.1237" stop-color="#f5f3e0"/><stop offset="0.1375" stop-color="#f4f2dd"/><stop offset="0.1512" stop-color="#f2f0d9"/><stop offset="0.1559" stop-color="#f2f0d8"/><stop offset="0.1650" stop-color="#f1eed2"/><stop offset="0.1787" stop-color="#eeecca"/><stop offset="0.1925" stop-color="#ece9c1"/><stop offset="0.2020" stop-color="#ebe7bc"/><stop offset="0.2062" stop-color="#eae6b7"/><stop offset="0.2200" stop-color="#e6e2a8"/><stop offset="0.2326" stop-color="#e3de9b"/><stop offset="0.2337" stop-color="#e2dd98"/><stop offset="0.2475" stop-color="#dbd479"/><stop offset="0.2531" stop-color="#d8d16d"/><stop offset="0.2612" stop-color="#d0c847"/><stop offset="0.2633" stop-color="#cec643"/><stop offset="0.2705" stop-color="#c2bd32"/><stop offset="0.2750" stop-color="#b0b630"/><stop offset="0.2761" stop-color="#aab42e"/><stop offset="0.2828" stop-color="#c7a530"/><stop offset="0.2867" stop-color="#e07928"/><stop offset="0.2887" stop-color="#e66c28"/><stop offset="0.2905" stop-color="#e86128"/><stop offset="0.2944" stop-color="#e83825"/><stop offset="0.2994" stop-color="#ee1c25"/><stop offset="0.3025" stop-color="#ee1c26"/><stop offset="0.3128" stop-color="#da1f28"/><stop offset="0.3161" stop-color="#51090e"/><stop offset="0.3162" stop-color="#4f090d"/><stop offset="0.3194" stop-color="#270303"/><stop offset="0.3300" stop-color="#000000"/><stop offset="0.3406" stop-color="#270303"/><stop offset="0.3439" stop-color="#51090e"/><stop offset="0.3472" stop-color="#da1f28"/><stop offset="0.3497" stop-color="#e81d28"/><stop offset="0.3617" stop-color="#ee1c25"/><stop offset="0.3667" stop-color="#e83825"/><stop offset="0.3694" stop-color="#e85228"/><stop offset="0.3711" stop-color="#e86128"/><stop offset="0.3756" stop-color="#e07928"/><stop offset="0.3800" stop-color="#c7a530"/><stop offset="0.3889" stop-color="#aab42e"/><stop offset="0.3891" stop-color="#abb42e"/><stop offset="0.3967" stop-color="#c5be31"/><stop offset="0.4069" stop-color="#cec643"/><stop offset="0.4088" stop-color="#cfc745"/><stop offset="0.4223" stop-color="#d8d16d"/><stop offset="0.4285" stop-color="#dad477"/><stop offset="0.4427" stop-color="#dfda8d"/><stop offset="0.4482" stop-color="#e1dc93"/><stop offset="0.4679" stop-color="#e6e1a7"/><stop offset="0.4734" stop-color="#e7e3ac"/><stop offset="0.4876" stop-color="#e9e5b5"/><stop offset="0.5074" stop-color="#ece9c0"/><stop offset="0.5143" stop-color="#edeac5"/><stop offset="0.5271" stop-color="#eeecc9"/><stop offset="0.5468" stop-color="#f0eed0"/><stop offset="0.5665" stop-color="#f2f0d7"/><stop offset="0.5756" stop-color="#f3f1da"/><stop offset="0.5862" stop-color="#f3f2dc"/><stop offset="0.6059" stop-color="#f5f3e0"/><stop offset="0.6256" stop-color="#f6f5e4"/><stop offset="0.6453" stop-color="#f7f6e7"/><stop offset="0.6650" stop-color="#f8f8eb"/><stop offset="0.6677" stop-color="#f9f8ec"/><stop offset="0.6847" stop-color="#f9f9ed"/><stop offset="0.7044" stop-color="#fafaef"/><stop offset="0.7241" stop-color="#fafaf1"/><stop offset="0.7438" stop-color="#fbfbf2"/><stop offset="0.7635" stop-color="#fbfbf4"/><stop offset="0.7832" stop-color="#fcfcf6"/><stop offset="0.7955" stop-color="#fcfcf7"/><stop offset="0.8029" stop-color="#fcfcf7"/><stop offset="0.8226" stop-color="#fdfdf8"/><stop offset="0.8424" stop-color="#fdfdf8"/><stop offset="0.8621" stop-color="#fdfdf9"/><stop offset="0.8818" stop-color="#fdfdfa"/><stop offset="0.9015" stop-color="#fefefb"/><stop offset="0.9212" stop-color="#fefefc"/><stop offset="0.9409" stop-color="#fefefd"/><stop offset="0.9606" stop-color="#fefefd"/><stop offset="0.9803" stop-color="#fffffe"/><stop offset="1.0000" stop-color="#ffffff"/></linearGradient><linearGradient id="g48"><stop offset="0.0000" stop-color="#ffffff"/><stop offset="0.0078" stop-color="#fdfdf8"/><stop offset="0.0136" stop-color="#fcfcf6"/><stop offset="0.0182" stop-color="#fbfbf4"/><stop offset="0.0273" stop-color="#fbfbf2"/><stop offset="0.0409" stop-color="#fafaf0"/><stop offset="0.0441" stop-color="#fafaef"/><stop offset="0.0546" stop-color="#f9f9ed"/><stop offset="0.0682" stop-color="#f8f8eb"/><stop offset="0.0818" stop-color="#f8f7e9"/><stop offset="0.0955" stop-color="#f7f6e7"/><stop offset="0.0961" stop-color="#f7f6e7"/><stop offset="0.1091" stop-color="#f6f5e4"/><stop offset="0.1228" stop-color="#f5f4e1"/><stop offset="0.1364" stop-color="#f4f2dd"/><stop offset="0.1500" stop-color="#f3f1da"/><stop offset="0.1584" stop-color="#f2f0d8"/><stop offset="0.1637" stop-color="#f1efd5"/><stop offset="0.1773" stop-color="#efedcd"/><stop offset="0.1909" stop-color="#edeac4"/><stop offset="0.2046" stop-color="#ebe8bc"/><stop offset="0.2051" stop-color="#ebe7bc"/><stop offset="0.2182" stop-color="#e7e3ae"/><stop offset="0.2319" stop-color="#e4df9f"/><stop offset="0.2363" stop-color="#e3de9b"/><stop offset="0.2455" stop-color="#ddd886"/><stop offset="0.2570" stop-color="#d8d16d"/><stop offset="0.2591" stop-color="#d6cf63"/><stop offset="0.2674" stop-color="#cec643"/><stop offset="0.2728" stop-color="#c5be31"/><stop offset="0.2739" stop-color="#c2bd32"/><stop offset="0.2789" stop-color="#aab42e"/><stop offset="0.2849" stop-color="#c7a530"/><stop offset="0.2864" stop-color="#d48f2d"/><stop offset="0.2884" stop-color="#e07928"/><stop offset="0.2919" stop-color="#e86128"/><stop offset="0.2954" stop-color="#e83825"/><stop offset="0.2999" stop-color="#ee1c25"/><stop offset="0.3001" stop-color="#ee1c25"/><stop offset="0.3119" stop-color="#da1f28"/><stop offset="0.3137" stop-color="#82171d"/><stop offset="0.3149" stop-color="#51090e"/><stop offset="0.3179" stop-color="#270303"/><stop offset="0.3273" stop-color="#000000"/><stop offset="0.3368" stop-color="#270303"/><stop offset="0.3398" stop-color="#51090e"/><stop offset="0.3428" stop-color="#da1f28"/><stop offset="0.3471" stop-color="#ee1c28"/><stop offset="0.3558" stop-color="#ee1c25"/><stop offset="0.3603" stop-color="#e83825"/><stop offset="0.3643" stop-color="#e86128"/><stop offset="0.3669" stop-color="#e47128"/><stop offset="0.3683" stop-color="#e07928"/><stop offset="0.3723" stop-color="#c7a530"/><stop offset="0.3803" stop-color="#aab42e"/><stop offset="0.3867" stop-color="#c3bd32"/><stop offset="0.3873" stop-color="#c5be31"/><stop offset="0.3976" stop-color="#cec643"/><stop offset="0.4065" stop-color="#d3cc58"/><stop offset="0.4132" stop-color="#d8d16d"/><stop offset="0.4263" stop-color="#dcd681"/><stop offset="0.4340" stop-color="#dfda8d"/><stop offset="0.4460" stop-color="#e2dd99"/><stop offset="0.4651" stop-color="#e7e3ac"/><stop offset="0.4658" stop-color="#e7e3ac"/><stop offset="0.4856" stop-color="#eae6b8"/><stop offset="0.5054" stop-color="#edeac4"/><stop offset="0.5067" stop-color="#edeac5"/><stop offset="0.5252" stop-color="#efeccb"/><stop offset="0.5450" stop-color="#f1eed2"/><stop offset="0.5648" stop-color="#f2f0d9"/><stop offset="0.5690" stop-color="#f3f1da"/><stop offset="0.5845" stop-color="#f4f2dd"/><stop offset="0.6043" stop-color="#f5f4e1"/><stop offset="0.6241" stop-color="#f6f5e4"/><stop offset="0.6439" stop-color="#f7f7e8"/><stop offset="0.6625" stop-color="#f9f8ec"/><stop offset="0.6637" stop-color="#f9f8ec"/><stop offset="0.6835" stop-color="#f9f9ee"/><stop offset="0.7032" stop-color="#fafaef"/><stop offset="0.7230" stop-color="#fafaf1"/><stop offset="0.7428" stop-color="#fbfbf3"/><stop offset="0.7626" stop-color="#fbfbf4"/><stop offset="0.7824" stop-color="#fcfcf6"/><stop offset="0.7923" stop-color="#fcfcf7"/><stop offset="0.8022" stop-color="#fcfcf7"/><stop offset="0.8219" stop-color="#fdfdf8"/><stop offset="0.8417" stop-color="#fdfdf9"/><stop offset="0.8615" stop-color="#fdfdf9"/><stop offset="0.8813" stop-color="#fdfdfa"/><stop offset="0.9011" stop-color="#fefefb"/><stop offset="0.9209" stop-color="#fefefc"/><stop offset="0.9406" stop-color="#fefefd"/><stop offset="0.9604" stop-color="#fefefd"/><stop offset="0.9802" stop-color="#fffffe"/><stop offset="1.0000" stop-color="#ffffff"/></linearGradient><linearGradient id="g49"><stop offset="0.0000" stop-color="#ffffff"/><stop offset="0.0078" stop-color="#fdfdf8"/><stop offset="0.0136" stop-color="#fcfcf6"/><stop offset="0.0182" stop-color="#fbfbf4"/><stop offset="0.0272" stop-color="#fbfbf2"/><stop offset="0.0409" stop-color="#fafaf0"/><stop offset="0.0442" stop-color="#fafaef"/><stop offset="0.0545" stop-color="#f9f9ed"/><stop offset="0.0681" stop-color="#f8f8eb"/><stop offset="0.0817" stop-color="#f8f7e9"/><stop offset="0.0954" stop-color="#f7f6e7"/><stop offset="0.0963" stop-color="#f7f6e7"/><stop offset="0.1090" stop-color="#f6f5e4"/><stop offset="0.1226" stop-color="#f5f4e1"/><stop offset="0.1362" stop-color="#f4f2de"/><stop offset="0.1499" stop-color="#f3f1da"/><stop offset="0.1587" stop-color="#f2f0d8"/><stop offset="0.1635" stop-color="#f1efd5"/><stop offset="0.1771" stop-color="#efedcd"/><stop offset="0.1907" stop-color="#edeac5"/><stop offset="0.2043" stop-color="#ebe8bc"/><stop offset="0.2056" stop-color="#ebe7bc"/><stop offset="0.2180" stop-color="#e8e4af"/><stop offset="0.2316" stop-color="#e4dfa0"/><stop offset="0.2368" stop-color="#e3de9b"/><stop offset="0.2452" stop-color="#ded888"/><stop offset="0.2576" stop-color="#d8d16d"/><stop offset="0.2588" stop-color="#d7d068"/><stop offset="0.2680" stop-color="#cec643"/><stop offset="0.2725" stop-color="#c6bf31"/><stop offset="0.2744" stop-color="#c2bd32"/><stop offset="0.2793" stop-color="#aab42e"/><stop offset="0.2852" stop-color="#c7a530"/><stop offset="0.2861" stop-color="#ce982f"/><stop offset="0.2887" stop-color="#e07928"/><stop offset="0.2921" stop-color="#e86128"/><stop offset="0.2955" stop-color="#e83825"/><stop offset="0.2997" stop-color="#ee1c24"/><stop offset="0.2999" stop-color="#ee1c25"/><stop offset="0.3117" stop-color="#da1f28"/><stop offset="0.3133" stop-color="#8b1a20"/><stop offset="0.3147" stop-color="#51090e"/><stop offset="0.3176" stop-color="#270303"/><stop offset="0.3270" stop-color="#000000"/><stop offset="0.3363" stop-color="#270303"/><stop offset="0.3392" stop-color="#51090e"/><stop offset="0.3422" stop-color="#da1f28"/><stop offset="0.3467" stop-color="#ee1c27"/><stop offset="0.3549" stop-color="#ee1c25"/><stop offset="0.3594" stop-color="#e83825"/><stop offset="0.3633" stop-color="#e86128"/><stop offset="0.3665" stop-color="#e27528"/><stop offset="0.3672" stop-color="#e07928"/><stop offset="0.3711" stop-color="#c7a530"/><stop offset="0.3790" stop-color="#aab42e"/><stop offset="0.3859" stop-color="#c5be31"/><stop offset="0.3863" stop-color="#c5be31"/><stop offset="0.3963" stop-color="#cec643"/><stop offset="0.4061" stop-color="#d4cd5b"/><stop offset="0.4119" stop-color="#d8d16d"/><stop offset="0.4259" stop-color="#ddd782"/><stop offset="0.4327" stop-color="#dfda8d"/><stop offset="0.4457" stop-color="#e3de9a"/><stop offset="0.4639" stop-color="#e7e3ac"/><stop offset="0.4655" stop-color="#e7e3ad"/><stop offset="0.4853" stop-color="#eae7b9"/><stop offset="0.5051" stop-color="#edeac4"/><stop offset="0.5056" stop-color="#edeac5"/><stop offset="0.5249" stop-color="#efeccb"/><stop offset="0.5447" stop-color="#f1eed2"/><stop offset="0.5645" stop-color="#f2f0d9"/><stop offset="0.5680" stop-color="#f3f1da"/><stop offset="0.5843" stop-color="#f4f2dd"/><stop offset="0.6041" stop-color="#f5f4e1"/><stop offset="0.6239" stop-color="#f6f5e5"/><stop offset="0.6437" stop-color="#f7f7e8"/><stop offset="0.6617" stop-color="#f9f8ec"/><stop offset="0.6635" stop-color="#f9f8ec"/><stop offset="0.6833" stop-color="#f9f9ee"/><stop offset="0.7031" stop-color="#fafaef"/><stop offset="0.7229" stop-color="#fafaf1"/><stop offset="0.7427" stop-color="#fbfbf3"/><stop offset="0.7625" stop-color="#fbfbf4"/><stop offset="0.7822" stop-color="#fcfcf6"/><stop offset="0.7918" stop-color="#fcfcf7"/><stop offset="0.8020" stop-color="#fcfcf7"/><stop offset="0.8218" stop-color="#fdfdf8"/><stop offset="0.8416" stop-color="#fdfdf9"/><stop offset="0.8614" stop-color="#fdfdf9"/><stop offset="0.8812" stop-color="#fdfdfa"/><stop offset="0.9010" stop-color="#fefefb"/><stop offset="0.9208" stop-color="#fefefc"/><stop offset="0.9406" stop-color="#fefefd"/><stop offset="0.9604" stop-color="#fefefd"/><stop offset="0.9802" stop-color="#fffffe"/><stop offset="1.0000" stop-color="#ffffff"/></linearGradient><linearGradient id="stc54"><stop offset="0" stop-color="#f0e830" stop-opacity="0"/><stop offset="0.3" stop-color="#f0e830" stop-opacity="0.55"/><stop offset="0.7" stop-color="#f0e830" stop-opacity="0.55"/><stop offset="1" stop-color="#f0e830" stop-opacity="0"/></linearGradient><linearGradient id="stc55"><stop offset="0" stop-color="#f0e830" stop-opacity="0"/><stop offset="0.3" stop-color="#f0e830" stop-opacity="0.70"/><stop offset="0.7" stop-color="#f0e830" stop-opacity="0.70"/><stop offset="1" stop-color="#f0e830" stop-opacity="0"/></linearGradient><linearGradient id="cbar" x1="0" y1="0" x2="0" y2="1"><stop offset="0.000" stop-color="#000000"/><stop offset="0.010" stop-color="#1a0000"/><stop offset="0.045" stop-color="#300505"/><stop offset="0.090" stop-color="#5a0a10"/><stop offset="0.134" stop-color="#8a1a20"/><stop offset="0.157" stop-color="#a82028"/><stop offset="0.188" stop-color="#d02028"/><stop offset="0.224" stop-color="#ee1c28"/><stop offset="0.313" stop-color="#ee1c24"/><stop offset="0.345" stop-color="#e82c20"/><stop offset="0.403" stop-color="#e84028"/><stop offset="0.470" stop-color="#e85828"/><stop offset="0.523" stop-color="#e86828"/><stop offset="0.582" stop-color="#e07a28"/><stop offset="0.626" stop-color="#d88a2c"/><stop offset="0.671" stop-color="#c8a030"/><stop offset="0.702" stop-color="#c4b030"/><stop offset="0.730" stop-color="#aab42e"/><stop offset="0.761" stop-color="#beba34"/><stop offset="0.805" stop-color="#c8c030"/><stop offset="0.850" stop-color="#d0c848"/><stop offset="0.895" stop-color="#dcd680"/><stop offset="0.931" stop-color="#e8e4b0"/><stop offset="0.962" stop-color="#f2f0d8"/><stop offset="0.984" stop-color="#fafaf0"/><stop offset="1.000" stop-color="#ffffff"/></linearGradient></defs><clipPath id="clipa"><rect x="38" y="19" width="264" height="194"/></clipPath><g clip-path="url(#clipa)"><rect x="129.58" y="19" width="187.70" height="1" fill="url(#g0)"/><rect x="129.80" y="20" width="187.70" height="1" fill="url(#g0)"/><rect x="130.02" y="21" width="187.70" height="1" fill="url(#g0)"/><rect x="130.24" y="22" width="187.69" height="1" fill="url(#g0)"/><rect x="130.46" y="23" width="187.69" height="1" fill="url(#g0)"/><rect x="130.68" y="24" width="187.69" height="1" fill="url(#g0)"/><rect x="130.90" y="25" width="187.69" height="1" fill="url(#g0)"/><rect x="131.12" y="26" width="187.69" height="1" fill="url(#g0)"/><rect x="131.34" y="27" width="187.69" height="1" fill="url(#g0)"/><rect x="131.56" y="28" width="187.69" height="1" fill="url(#g0)"/><rect x="131.78" y="29" width="187.69" height="1" fill="url(#g0)"/><rect x="131.99" y="30" width="187.70" height="1" fill="url(#g0)"/><rect x="132.21" y="31" width="187.70" height="1" fill="url(#g0)"/><rect x="132.43" y="32" width="187.70" height="1" fill="url(#g0)"/><rect x="132.65" y="33" width="187.71" height="1" fill="url(#g0)"/><rect x="132.87" y="34" width="187.72" height="1" fill="url(#g0)"/><rect x="133.08" y="35" width="187.72" height="1" fill="url(#g0)"/><rect x="133.30" y="36" width="187.73" height="1" fill="url(#g0)"/><rect x="133.52" y="37" width="187.74" height="1" fill="url(#g0)"/><rect x="133.74" y="38" width="187.75" height="1" fill="url(#g0)"/><rect x="133.96" y="39" width="187.76" height="1" fill="url(#g0)"/><rect x="134.17" y="40" width="187.77" height="1" fill="url(#g0)"/><rect x="134.39" y="41" width="187.78" height="1" fill="url(#g0)"/><rect x="134.61" y="42" width="187.79" height="1" fill="url(#g0)"/><rect x="134.83" y="43" width="187.80" height="1" fill="url(#g0)"/><rect x="133.99" y="44" width="191.29" height="1" fill="url(#g1)"/><rect x="134.21" y="45" width="191.31" height="1" fill="url(#g1)"/><rect x="134.42" y="46" width="191.32" height="1" fill="url(#g1)"/><rect x="134.64" y="47" width="191.34" height="1" fill="url(#g1)"/><rect x="134.86" y="48" width="191.35" height="1" fill="url(#g1)"/><rect x="135.08" y="49" width="191.37" height="1" fill="url(#g1)"/><rect x="135.30" y="50" width="191.39" height="1" fill="url(#g1)"/><rect x="135.52" y="51" width="191.41" height="1" fill="url(#g1)"/><rect x="135.74" y="52" width="191.43" height="1" fill="url(#g1)"/><rect x="135.96" y="53" width="191.45" height="1" fill="url(#g1)"/><rect x="136.18" y="54" width="191.47" height="1" fill="url(#g1)"/><rect x="136.40" y="55" width="191.50" height="1" fill="url(#g1)"/><rect x="136.62" y="56" width="191.52" height="1" fill="url(#g1)"/><rect x="136.84" y="57" width="191.55" height="1" fill="url(#g1)"/><rect x="137.06" y="58" width="191.57" height="1" fill="url(#g1)"/><rect x="137.28" y="59" width="191.60" height="1" fill="url(#g1)"/><rect x="137.50" y="60" width="191.62" height="1" fill="url(#g1)"/><rect x="137.72" y="61" width="191.65" height="1" fill="url(#g1)"/><rect x="137.94" y="62" width="191.68" height="1" fill="url(#g1)"/><rect x="138.17" y="63" width="191.71" height="1" fill="url(#g1)"/><rect x="138.39" y="64" width="191.74" height="1" fill="url(#g1)"/><rect x="138.61" y="65" width="191.77" height="1" fill="url(#g1)"/><rect x="138.84" y="66" width="191.81" height="1" fill="url(#g1)"/><rect x="139.06" y="67" width="191.84" height="1" fill="url(#g1)"/><rect x="139.29" y="68" width="191.87" height="1" fill="url(#g1)"/><rect x="139.51" y="69" width="191.91" height="1" fill="url(#g1)"/><rect x="139.74" y="70" width="191.95" height="1" fill="url(#g1)"/><rect x="139.96" y="71" width="191.98" height="1" fill="url(#g1)"/><rect x="140.19" y="72" width="192.02" height="1" fill="url(#g1)"/><rect x="140.42" y="73" width="192.06" height="1" fill="url(#g1)"/><rect x="140.65" y="74" width="192.10" height="1" fill="url(#g1)"/><rect x="140.87" y="75" width="192.14" height="1" fill="url(#g1)"/><rect x="141.10" y="76" width="192.18" height="1" fill="url(#g1)"/><rect x="141.33" y="77" width="192.23" height="1" fill="url(#g1)"/><rect x="141.56" y="78" width="192.27" height="1" fill="url(#g1)"/><rect x="141.80" y="79" width="192.32" height="1" fill="url(#g1)"/><rect x="142.03" y="80" width="192.36" height="1" fill="url(#g1)"/><rect x="142.26" y="81" width="192.41" height="1" fill="url(#g1)"/><rect x="142.49" y="82" width="192.46" height="1" fill="url(#g1)"/><rect x="142.73" y="83" width="192.51" height="1" fill="url(#g1)"/><rect x="142.96" y="84" width="192.56" height="1" fill="url(#g1)"/><rect x="143.20" y="85" width="192.61" height="1" fill="url(#g1)"/><rect x="143.43" y="86" width="192.66" height="1" fill="url(#g1)"/><rect x="143.67" y="87" width="192.71" height="1" fill="url(#g1)"/><rect x="143.91" y="88" width="192.77" height="1" fill="url(#g1)"/><rect x="144.15" y="89" width="192.83" height="1" fill="url(#g1)"/><rect x="144.39" y="90" width="192.88" height="1" fill="url(#g1)"/><rect x="144.63" y="91" width="192.94" height="1" fill="url(#g1)"/><rect x="143.81" y="92" width="196.50" height="1" fill="url(#g2)"/><rect x="144.05" y="93" width="196.57" height="1" fill="url(#g2)"/><rect x="144.29" y="94" width="196.63" height="1" fill="url(#g2)"/><rect x="144.53" y="95" width="196.69" height="1" fill="url(#g2)"/><rect x="144.78" y="96" width="196.76" height="1" fill="url(#g2)"/><rect x="145.02" y="97" width="196.82" height="1" fill="url(#g2)"/><rect x="145.27" y="98" width="196.89" height="1" fill="url(#g2)"/><rect x="145.52" y="99" width="196.96" height="1" fill="url(#g2)"/><rect x="145.77" y="100" width="197.03" height="1" fill="url(#g2)"/><rect x="146.02" y="101" width="197.10" height="1" fill="url(#g2)"/><rect x="146.27" y="102" width="197.18" height="1" fill="url(#g2)"/><rect x="146.52" y="103" width="197.25" height="1" fill="url(#g2)"/><rect x="146.77" y="104" width="197.33" height="1" fill="url(#g2)"/><rect x="147.02" y="105" width="197.40" height="1" fill="url(#g2)"/><rect x="147.28" y="106" width="197.48" height="1" fill="url(#g2)"/><rect x="147.53" y="107" width="197.56" height="1" fill="url(#g2)"/><rect x="147.79" y="108" width="197.64" height="1" fill="url(#g2)"/><rect x="148.05" y="109" width="197.72" height="1" fill="url(#g2)"/><rect x="148.31" y="110" width="197.81" height="1" fill="url(#g2)"/><rect x="148.57" y="111" width="197.89" height="1" fill="url(#g2)"/><rect x="148.83" y="112" width="197.98" height="1" fill="url(#g2)"/><rect x="149.09" y="113" width="198.07" height="1" fill="url(#g2)"/><rect x="149.36" y="114" width="198.16" height="1" fill="url(#g2)"/><rect x="149.62" y="115" width="198.25" height="1" fill="url(#g2)"/><rect x="149.89" y="116" width="198.34" height="1" fill="url(#g2)"/><rect x="150.15" y="117" width="198.44" height="1" fill="url(#g2)"/><rect x="150.42" y="118" width="198.53" height="1" fill="url(#g2)"/><rect x="150.69" y="119" width="198.63" height="1" fill="url(#g2)"/><rect x="150.96" y="120" width="198.73" height="1" fill="url(#g2)"/><rect x="151.24" y="121" width="198.83" height="1" fill="url(#g2)"/><rect x="151.51" y="122" width="198.93" height="1" fill="url(#g2)"/><rect x="151.78" y="123" width="199.03" height="1" fill="url(#g2)"/><rect x="152.06" y="124" width="199.14" height="1" fill="url(#g2)"/><rect x="152.34" y="125" width="199.25" height="1" fill="url(#g2)"/><rect x="152.62" y="126" width="199.36" height="1" fill="url(#g2)"/><rect x="152.90" y="127" width="199.47" height="1" fill="url(#g2)"/><rect x="153.18" y="128" width="199.58" height="1" fill="url(#g2)"/><rect x="153.46" y="129" width="199.69" height="1" fill="url(#g2)"/><rect x="153.75" y="130" width="199.81" height="1" fill="url(#g2)"/><rect x="154.03" y="131" width="199.93" height="1" fill="url(#g2)"/><rect x="154.32" y="132" width="200.05" height="1" fill="url(#g2)"/><rect x="154.61" y="133" width="200.17" height="1" fill="url(#g2)"/><rect x="154.90" y="134" width="200.29" height="1" fill="url(#g2)"/><rect x="155.19" y="135" width="200.41" height="1" fill="url(#g2)"/><rect x="155.48" y="136" width="200.54" height="1" fill="url(#g2)"/><rect x="155.78" y="137" width="200.67" height="1" fill="url(#g2)"/><rect x="156.07" y="138" width="200.80" height="1" fill="url(#g2)"/><rect x="156.37" y="139" width="200.93" height="1" fill="url(#g2)"/><rect x="156.67" y="140" width="201.07" height="1" fill="url(#g2)"/><rect x="155.88" y="141" width="204.79" height="1" fill="url(#g3)"/><rect x="156.18" y="142" width="204.93" height="1" fill="url(#g3)"/><rect x="156.49" y="143" width="205.07" height="1" fill="url(#g3)"/><rect x="156.79" y="144" width="205.22" height="1" fill="url(#g3)"/><rect x="157.10" y="145" width="205.36" height="1" fill="url(#g3)"/><rect x="157.41" y="146" width="205.51" height="1" fill="url(#g3)"/><rect x="157.72" y="147" width="205.66" height="1" fill="url(#g3)"/><rect x="158.03" y="148" width="205.82" height="1" fill="url(#g3)"/><rect x="158.34" y="149" width="205.97" height="1" fill="url(#g3)"/><rect x="158.65" y="150" width="206.13" height="1" fill="url(#g3)"/><rect x="158.97" y="151" width="206.29" height="1" fill="url(#g3)"/><rect x="159.29" y="152" width="206.45" height="1" fill="url(#g3)"/><rect x="159.61" y="153" width="206.61" height="1" fill="url(#g3)"/><rect x="159.93" y="154" width="206.78" height="1" fill="url(#g3)"/><rect x="160.25" y="155" width="206.95" height="1" fill="url(#g3)"/><rect x="160.57" y="156" width="207.12" height="1" fill="url(#g3)"/><rect x="160.90" y="157" width="207.29" height="1" fill="url(#g3)"/><rect x="161.23" y="158" width="207.47" height="1" fill="url(#g3)"/><rect x="161.56" y="159" width="207.64" height="1" fill="url(#g3)"/><rect x="161.89" y="160" width="207.82" height="1" fill="url(#g3)"/><rect x="162.22" y="161" width="208.01" height="1" fill="url(#g3)"/><rect x="162.56" y="162" width="208.19" height="1" fill="url(#g3)"/><rect x="162.90" y="163" width="208.38" height="1" fill="url(#g3)"/><rect x="163.23" y="164" width="208.57" height="1" fill="url(#g3)"/><rect x="163.58" y="165" width="208.76" height="1" fill="url(#g3)"/><rect x="163.92" y="166" width="208.95" height="1" fill="url(#g3)"/><rect x="164.26" y="167" width="209.15" height="1" fill="url(#g3)"/><rect x="164.61" y="168" width="209.35" height="1" fill="url(#g3)"/><rect x="164.96" y="169" width="209.55" height="1" fill="url(#g3)"/><rect x="165.31" y="170" width="209.76" height="1" fill="url(#g3)"/><rect x="165.66" y="171" width="209.96" height="1" fill="url(#g3)"/><rect x="166.01" y="172" width="210.17" height="1" fill="url(#g3)"/><rect x="166.37" y="173" width="210.38" height="1" fill="url(#g3)"/><rect x="166.72" y="174" width="210.60" height="1" fill="url(#g3)"/><rect x="167.08" y="175" width="210.82" height="1" fill="url(#g3)"/><rect x="167.45" y="176" width="211.04" height="1" fill="url(#g3)"/><rect x="167.81" y="177" width="211.26" height="1" fill="url(#g3)"/><rect x="168.18" y="178" width="211.49" height="1" fill="url(#g3)"/><rect x="168.54" y="179" width="211.71" height="1" fill="url(#g3)"/><rect x="168.91" y="180" width="211.95" height="1" fill="url(#g3)"/><rect x="169.28" y="181" width="212.18" height="1" fill="url(#g3)"/><rect x="169.66" y="182" width="212.42" height="1" fill="url(#g3)"/><rect x="170.03" y="183" width="212.66" height="1" fill="url(#g3)"/><rect x="170.41" y="184" width="212.90" height="1" fill="url(#g3)"/><rect x="170.79" y="185" width="213.14" height="1" fill="url(#g3)"/><rect x="171.17" y="186" width="213.39" height="1" fill="url(#g3)"/><rect x="171.56" y="187" width="213.64" height="1" fill="url(#g3)"/><rect x="171.94" y="188" width="213.90" height="1" fill="url(#g3)"/><rect x="171.19" y="189" width="217.91" height="1" fill="url(#g4)"/><rect x="171.58" y="190" width="218.17" height="1" fill="url(#g4)"/><rect x="171.97" y="191" width="218.44" height="1" fill="url(#g4)"/><rect x="172.37" y="192" width="218.71" height="1" fill="url(#g4)"/><rect x="172.76" y="193" width="218.98" height="1" fill="url(#g4)"/><rect x="173.16" y="194" width="219.26" height="1" fill="url(#g4)"/><rect x="173.56" y="195" width="219.54" height="1" fill="url(#g4)"/><rect x="173.96" y="196" width="219.82" height="1" fill="url(#g4)"/><rect x="174.37" y="197" width="220.11" height="1" fill="url(#g4)"/><rect x="174.77" y="198" width="220.40" height="1" fill="url(#g4)"/><rect x="175.18" y="199" width="220.69" height="1" fill="url(#g4)"/><rect x="175.59" y="200" width="220.99" height="1" fill="url(#g4)"/><rect x="176.00" y="201" width="221.28" height="1" fill="url(#g4)"/><rect x="176.42" y="202" width="221.59" height="1" fill="url(#g4)"/><rect x="176.84" y="203" width="221.89" height="1" fill="url(#g4)"/><rect x="177.26" y="204" width="222.20" height="1" fill="url(#g4)"/><rect x="177.68" y="205" width="222.51" height="1" fill="url(#g4)"/><rect x="178.11" y="206" width="222.83" height="1" fill="url(#g4)"/><rect x="178.53" y="207" width="223.15" height="1" fill="url(#g4)"/><rect x="178.96" y="208" width="223.47" height="1" fill="url(#g4)"/><rect x="179.39" y="209" width="223.80" height="1" fill="url(#g4)"/><rect x="179.83" y="210" width="224.12" height="1" fill="url(#g4)"/><rect x="180.26" y="211" width="224.46" height="1" fill="url(#g4)"/><rect x="180.70" y="212" width="224.79" height="1" fill="url(#g4)"/><rect x="168.0" y="19.0" width="60.0" height="1.6" fill="url(#sta5)"/><rect x="230.0" y="211.4" width="64.0" height="1.6" fill="url(#sta6)"/></g><rect x="37" y="18" width="267" height="196" fill="none" stroke="#000" stroke-width="2"/><line x1="69.00" y1="210" x2="69.00" y2="214" stroke="#000" stroke-width="1.7"/><text x="69.00" y="227.7" text-anchor="middle" font-size="13.5" font-family="Liberation Serif, serif" stroke="#000" stroke-width="0.15">25</text><line x1="102.58" y1="210" x2="102.58" y2="214" stroke="#000" stroke-width="1.7"/><text x="102.58" y="227.7" text-anchor="middle" font-size="13.5" font-family="Liberation Serif, serif" stroke="#000" stroke-width="0.15">50</text><line x1="136.16" y1="210" x2="136.16" y2="214" stroke="#000" stroke-width="1.7"/><text x="136.16" y="227.7" text-anchor="middle" font-size="13.5" font-family="Liberation Serif, serif" stroke="#000" stroke-width="0.15">75</text><line x1="169.74" y1="210" x2="169.74" y2="214" stroke="#000" stroke-width="1.7"/><text x="169.74" y="227.7" text-anchor="middle" font-size="13.5" font-family="Liberation Serif, serif" stroke="#000" stroke-width="0.15">100</text><line x1="203.32" y1="210" x2="203.32" y2="214" stroke="#000" stroke-width="1.7"/><text x="203.32" y="227.7" text-anchor="middle" font-size="13.5" font-family="Liberation Serif, serif" stroke="#000" stroke-width="0.15">125</text><line x1="236.90" y1="210" x2="236.90" y2="214" stroke="#000" stroke-width="1.7"/><text x="236.90" y="227.7" text-anchor="middle" font-size="13.5" font-family="Liberation Serif, serif" stroke="#000" stroke-width="0.15">150</text><line x1="270.48" y1="210" x2="270.48" y2="214" stroke="#000" stroke-width="1.7"/><text x="270.48" y="227.7" text-anchor="middle" font-size="13.5" font-family="Liberation Serif, serif" stroke="#000" stroke-width="0.15">175</text><text x="33.4" y="217.70" text-anchor="end" font-size="13.5" font-family="Liberation Serif, serif" stroke="#000" stroke-width="0.15">1</text><line x1="37" y1="181.33" x2="41" y2="181.33" stroke="#000" stroke-width="1.5"/><text x="33.4" y="185.03" text-anchor="end" font-size="13.5" font-family="Liberation Serif, serif" stroke="#000" stroke-width="0.15">2</text><line x1="37" y1="148.67" x2="41" y2="148.67" stroke="#000" stroke-width="1.5"/><text x="33.4" y="152.37" text-anchor="end" font-size="13.5" font-family="Liberation Serif, serif" stroke="#000" stroke-width="0.15">3</text><line x1="37" y1="116.00" x2="41" y2="116.00" stroke="#000" stroke-width="1.5"/><text x="33.4" y="119.70" text-anchor="end" font-size="13.5" font-family="Liberation Serif, serif" stroke="#000" stroke-width="0.15">4</text><line x1="37" y1="83.33" x2="41" y2="83.33" stroke="#000" stroke-width="1.5"/><text x="33.4" y="87.03" text-anchor="end" font-size="13.5" font-family="Liberation Serif, serif" stroke="#000" stroke-width="0.15">5</text><line x1="37" y1="50.67" x2="41" y2="50.67" stroke="#000" stroke-width="1.5"/><text x="33.4" y="54.37" text-anchor="end" font-size="13.5" font-family="Liberation Serif, serif" stroke="#000" stroke-width="0.15">6</text><text x="33.4" y="21.70" text-anchor="end" font-size="13.5" font-family="Liberation Serif, serif" stroke="#000" stroke-width="0.15">7</text><text x="170.3" y="242.6" text-anchor="middle" font-size="15.5" font-family="Liberation Serif, serif" stroke="#000" stroke-width="0.15">Frequency/Hz</text><text transform="translate(14.3 116.4) rotate(-90)" text-anchor="middle" font-size="15" font-family="Liberation Serif, serif" stroke="#000" stroke-width="0.15">Facesheet thickness/mm</text><text x="0" y="15.0" font-size="21" font-family="Liberation Serif, serif" stroke="#000" stroke-width="0.15">(a)</text><clipPath id="clipb"><rect x="38" y="259" width="264" height="194"/></clipPath><g clip-path="url(#clipb)"><rect x="195.88" y="259" width="214.09" height="1" fill="url(#g5)"/><rect x="195.31" y="260" width="214.14" height="1" fill="url(#g5)"/><rect x="194.74" y="261" width="214.18" height="1" fill="url(#g5)"/><rect x="194.16" y="262" width="214.24" height="1" fill="url(#g6)"/><rect x="193.58" y="263" width="214.29" height="1" fill="url(#g6)"/><rect x="193.01" y="264" width="214.35" height="1" fill="url(#g6)"/><rect x="192.43" y="265" width="214.40" height="1" fill="url(#g6)"/><rect x="191.85" y="266" width="214.47" height="1" fill="url(#g7)"/><rect x="191.26" y="267" width="214.53" height="1" fill="url(#g7)"/><rect x="190.68" y="268" width="214.60" height="1" fill="url(#g7)"/><rect x="190.09" y="269" width="214.67" height="1" fill="url(#g7)"/><rect x="189.50" y="270" width="214.74" height="1" fill="url(#g7)"/><rect x="188.91" y="271" width="214.82" height="1" fill="url(#g7)"/><rect x="188.32" y="272" width="214.89" height="1" fill="url(#g7)"/><rect x="187.72" y="273" width="214.98" height="1" fill="url(#g7)"/><rect x="187.12" y="274" width="215.06" height="1" fill="url(#g7)"/><rect x="186.52" y="275" width="215.15" height="1" fill="url(#g7)"/><rect x="185.92" y="276" width="215.23" height="1" fill="url(#g7)"/><rect x="185.32" y="277" width="215.33" height="1" fill="url(#g7)"/><rect x="184.71" y="278" width="215.42" height="1" fill="url(#g7)"/><rect x="184.10" y="279" width="215.52" height="1" fill="url(#g7)"/><rect x="183.49" y="280" width="215.62" height="1" fill="url(#g7)"/><rect x="182.88" y="281" width="215.72" height="1" fill="url(#g7)"/><rect x="182.27" y="282" width="215.82" height="1" fill="url(#g7)"/><rect x="181.65" y="283" width="215.93" height="1" fill="url(#g7)"/><rect x="181.03" y="284" width="216.04" height="1" fill="url(#g7)"/><rect x="180.41" y="285" width="216.15" height="1" fill="url(#g7)"/><rect x="179.78" y="286" width="216.27" height="1" fill="url(#g7)"/><rect x="179.16" y="287" width="216.39" height="1" fill="url(#g7)"/><rect x="178.53" y="288" width="216.51" height="1" fill="url(#g7)"/><rect x="177.89" y="289" width="216.63" height="1" fill="url(#g7)"/><rect x="177.26" y="290" width="216.75" height="1" fill="url(#g7)"/><rect x="176.62" y="291" width="216.88" height="1" fill="url(#g7)"/><rect x="175.98" y="292" width="217.01" height="1" fill="url(#g7)"/><rect x="175.34" y="293" width="217.14" height="1" fill="url(#g7)"/><rect x="174.69" y="294" width="217.28" height="1" fill="url(#g7)"/><rect x="174.05" y="295" width="217.42" height="1" fill="url(#g7)"/><rect x="173.40" y="296" width="217.56" height="1" fill="url(#g7)"/><rect x="172.74" y="297" width="217.70" height="1" fill="url(#g7)"/><rect x="172.09" y="298" width="217.85" height="1" fill="url(#g7)"/><rect x="171.43" y="299" width="217.99" height="1" fill="url(#g7)"/><rect x="170.76" y="300" width="218.14" height="1" fill="url(#g7)"/><rect x="170.10" y="301" width="218.30" height="1" fill="url(#g7)"/><rect x="169.43" y="302" width="218.45" height="1" fill="url(#g7)"/><rect x="168.76" y="303" width="218.61" height="1" fill="url(#g7)"/><rect x="168.09" y="304" width="218.77" height="1" fill="url(#g7)"/><rect x="167.41" y="305" width="218.93" height="1" fill="url(#g7)"/><rect x="166.73" y="306" width="219.09" height="1" fill="url(#g7)"/><rect x="166.05" y="307" width="219.26" height="1" fill="url(#g7)"/><rect x="165.36" y="308" width="219.43" height="1" fill="url(#g7)"/><rect x="164.68" y="309" width="219.60" height="1" fill="url(#g7)"/><rect x="163.98" y="310" width="219.77" height="1" fill="url(#g7)"/><rect x="163.29" y="311" width="219.95" height="1" fill="url(#g7)"/><rect x="162.59" y="312" width="220.13" height="1" fill="url(#g7)"/><rect x="161.89" y="313" width="220.31" height="1" fill="url(#g7)"/><rect x="161.19" y="314" width="220.49" height="1" fill="url(#g7)"/><rect x="160.48" y="315" width="220.68" height="1" fill="url(#g7)"/><rect x="159.77" y="316" width="220.86" height="1" fill="url(#g7)"/><rect x="159.05" y="317" width="221.05" height="1" fill="url(#g7)"/><rect x="158.34" y="318" width="221.25" height="1" fill="url(#g7)"/><rect x="157.62" y="319" width="221.44" height="1" fill="url(#g7)"/><rect x="156.89" y="320" width="221.64" height="1" fill="url(#g7)"/><rect x="156.17" y="321" width="221.83" height="1" fill="url(#g7)"/><rect x="155.44" y="322" width="222.03" height="1" fill="url(#g7)"/><rect x="154.70" y="323" width="222.24" height="1" fill="url(#g7)"/><rect x="153.97" y="324" width="222.44" height="1" fill="url(#g7)"/><rect x="153.23" y="325" width="222.65" height="1" fill="url(#g7)"/><rect x="152.48" y="326" width="222.86" height="1" fill="url(#g7)"/><rect x="151.74" y="327" width="223.07" height="1" fill="url(#g7)"/><rect x="150.98" y="328" width="223.28" height="1" fill="url(#g7)"/><rect x="150.23" y="329" width="223.50" height="1" fill="url(#g7)"/><rect x="149.47" y="330" width="223.72" height="1" fill="url(#g7)"/><rect x="148.71" y="331" width="223.93" height="1" fill="url(#g7)"/><rect x="147.95" y="332" width="224.16" height="1" fill="url(#g7)"/><rect x="147.18" y="333" width="224.38" height="1" fill="url(#g7)"/><rect x="146.41" y="334" width="224.60" height="1" fill="url(#g7)"/><rect x="145.64" y="335" width="224.83" height="1" fill="url(#g7)"/><rect x="144.86" y="336" width="225.06" height="1" fill="url(#g7)"/><rect x="144.08" y="337" width="225.29" height="1" fill="url(#g7)"/><rect x="143.29" y="338" width="225.53" height="1" fill="url(#g7)"/><rect x="142.50" y="339" width="225.76" height="1" fill="url(#g7)"/><rect x="141.71" y="340" width="226.00" height="1" fill="url(#g7)"/><rect x="140.91" y="341" width="226.24" height="1" fill="url(#g7)"/><rect x="140.11" y="342" width="226.48" height="1" fill="url(#g7)"/><rect x="139.31" y="343" width="226.72" height="1" fill="url(#g7)"/><rect x="138.50" y="344" width="226.96" height="1" fill="url(#g7)"/><rect x="137.69" y="345" width="227.21" height="1" fill="url(#g7)"/><rect x="136.88" y="346" width="227.46" height="1" fill="url(#g7)"/><rect x="136.06" y="347" width="227.71" height="1" fill="url(#g7)"/><rect x="135.24" y="348" width="227.96" height="1" fill="url(#g7)"/><rect x="134.42" y="349" width="228.21" height="1" fill="url(#g7)"/><rect x="133.59" y="350" width="228.46" height="1" fill="url(#g7)"/><rect x="132.76" y="351" width="228.72" height="1" fill="url(#g7)"/><rect x="131.92" y="352" width="228.98" height="1" fill="url(#g7)"/><rect x="131.08" y="353" width="229.24" height="1" fill="url(#g7)"/><rect x="130.24" y="354" width="229.50" height="1" fill="url(#g7)"/><rect x="129.39" y="355" width="229.76" height="1" fill="url(#g7)"/><rect x="128.54" y="356" width="230.02" height="1" fill="url(#g7)"/><rect x="127.69" y="357" width="230.29" height="1" fill="url(#g7)"/><rect x="126.83" y="358" width="230.56" height="1" fill="url(#g7)"/><rect x="125.97" y="359" width="230.82" height="1" fill="url(#g7)"/><rect x="125.10" y="360" width="231.09" height="1" fill="url(#g7)"/><rect x="124.23" y="361" width="231.36" height="1" fill="url(#g7)"/><rect x="123.36" y="362" width="231.64" height="1" fill="url(#g7)"/><rect x="122.49" y="363" width="231.91" height="1" fill="url(#g7)"/><rect x="121.61" y="364" width="232.19" height="1" fill="url(#g7)"/><rect x="120.72" y="365" width="232.46" height="1" fill="url(#g6)"/><rect x="119.83" y="366" width="232.74" height="1" fill="url(#g6)"/><rect x="118.94" y="367" width="233.02" height="1" fill="url(#g6)"/><rect x="118.05" y="368" width="233.30" height="1" fill="url(#g6)"/><rect x="117.15" y="369" width="233.58" height="1" fill="url(#g5)"/><rect x="116.25" y="370" width="233.86" height="1" fill="url(#g5)"/><rect x="115.34" y="371" width="234.15" height="1" fill="url(#g5)"/><rect x="114.43" y="372" width="234.43" height="1" fill="url(#g5)"/><rect x="113.52" y="373" width="234.72" height="1" fill="url(#g5)"/><rect x="112.61" y="374" width="235.00" height="1" fill="url(#g8)"/><rect x="111.69" y="375" width="235.29" height="1" fill="url(#g8)"/><rect x="110.76" y="376" width="235.58" height="1" fill="url(#g8)"/><rect x="109.83" y="377" width="235.87" height="1" fill="url(#g9)"/><rect x="108.90" y="378" width="236.16" height="1" fill="url(#g9)"/><rect x="107.97" y="379" width="236.45" height="1" fill="url(#g9)"/><rect x="107.03" y="380" width="236.75" height="1" fill="url(#g10)"/><rect x="106.09" y="381" width="237.04" height="1" fill="url(#g10)"/><rect x="105.14" y="382" width="237.33" height="1" fill="url(#g10)"/><rect x="104.19" y="383" width="237.63" height="1" fill="url(#g11)"/><rect x="103.24" y="384" width="237.93" height="1" fill="url(#g11)"/><rect x="102.28" y="385" width="238.22" height="1" fill="url(#g11)"/><rect x="101.32" y="386" width="238.52" height="1" fill="url(#g12)"/><rect x="100.36" y="387" width="238.82" height="1" fill="url(#g12)"/><rect x="99.39" y="388" width="239.12" height="1" fill="url(#g12)"/><rect x="98.42" y="389" width="239.42" height="1" fill="url(#g13)"/><rect x="97.45" y="390" width="239.72" height="1" fill="url(#g13)"/><rect x="96.47" y="391" width="240.02" height="1" fill="url(#g14)"/><rect x="95.49" y="392" width="240.32" height="1" fill="url(#g14)"/><rect x="94.50" y="393" width="240.62" height="1" fill="url(#g14)"/><rect x="93.51" y="394" width="240.92" height="1" fill="url(#g15)"/><rect x="92.52" y="395" width="241.22" height="1" fill="url(#g15)"/><rect x="91.53" y="396" width="241.52" height="1" fill="url(#g15)"/><rect x="90.53" y="397" width="241.83" height="1" fill="url(#g16)"/><rect x="89.53" y="398" width="242.13" height="1" fill="url(#g16)"/><rect x="88.52" y="399" width="242.43" height="1" fill="url(#g16)"/><rect x="87.51" y="400" width="242.74" height="1" fill="url(#g17)"/><rect x="86.50" y="401" width="243.04" height="1" fill="url(#g17)"/><rect x="85.48" y="402" width="243.35" height="1" fill="url(#g17)"/><rect x="84.46" y="403" width="243.65" height="1" fill="url(#g18)"/><rect x="83.44" y="404" width="243.96" height="1" fill="url(#g18)"/><rect x="82.41" y="405" width="244.26" height="1" fill="url(#g18)"/><rect x="81.38" y="406" width="244.56" height="1" fill="url(#g18)"/><rect x="80.35" y="407" width="244.87" height="1" fill="url(#g19)"/><rect x="79.31" y="408" width="245.17" height="1" fill="url(#g19)"/><rect x="78.27" y="409" width="245.48" height="1" fill="url(#g19)"/><rect x="77.23" y="410" width="245.78" height="1" fill="url(#g20)"/><rect x="76.19" y="411" width="246.09" height="1" fill="url(#g20)"/><rect x="75.14" y="412" width="246.39" height="1" fill="url(#g21)"/><rect x="74.08" y="413" width="246.70" height="1" fill="url(#g21)"/><rect x="73.03" y="414" width="247.00" height="1" fill="url(#g21)"/><rect x="71.97" y="415" width="247.30" height="1" fill="url(#g22)"/><rect x="70.91" y="416" width="247.61" height="1" fill="url(#g22)"/><rect x="69.84" y="417" width="247.91" height="1" fill="url(#g23)"/><rect x="68.77" y="418" width="248.21" height="1" fill="url(#g23)"/><rect x="67.70" y="419" width="248.51" height="1" fill="url(#g23)"/><rect x="66.63" y="420" width="248.82" height="1" fill="url(#g24)"/><rect x="65.55" y="421" width="249.12" height="1" fill="url(#g24)"/><rect x="64.47" y="422" width="249.42" height="1" fill="url(#g25)"/><rect x="63.38" y="423" width="249.72" height="1" fill="url(#g25)"/><rect x="62.30" y="424" width="250.02" height="1" fill="url(#g26)"/><rect x="61.21" y="425" width="250.32" height="1" fill="url(#g26)"/><rect x="60.11" y="426" width="250.61" height="1" fill="url(#g26)"/><rect x="59.02" y="427" width="250.91" height="1" fill="url(#g27)"/><rect x="57.92" y="428" width="251.21" height="1" fill="url(#g27)"/><rect x="56.82" y="429" width="251.50" height="1" fill="url(#g28)"/><rect x="55.71" y="430" width="251.80" height="1" fill="url(#g28)"/><rect x="54.61" y="431" width="252.09" height="1" fill="url(#g29)"/><rect x="53.50" y="432" width="252.39" height="1" fill="url(#g30)"/><rect x="52.38" y="433" width="252.68" height="1" fill="url(#g30)"/><rect x="51.27" y="434" width="252.97" height="1" fill="url(#g31)"/><rect x="50.15" y="435" width="253.26" height="1" fill="url(#g32)"/><rect x="49.03" y="436" width="253.55" height="1" fill="url(#g32)"/><rect x="47.90" y="437" width="253.84" height="1" fill="url(#g33)"/><rect x="46.78" y="438" width="254.13" height="1" fill="url(#g34)"/><rect x="45.65" y="439" width="254.42" height="1" fill="url(#g35)"/><rect x="44.52" y="440" width="254.70" height="1" fill="url(#g36)"/><rect x="43.38" y="441" width="254.99" height="1" fill="url(#g37)"/><rect x="42.24" y="442" width="255.27" height="1" fill="url(#g38)"/><rect x="41.10" y="443" width="255.55" height="1" fill="url(#g39)"/><rect x="39.96" y="444" width="255.83" height="1" fill="url(#g40)"/><rect x="38.82" y="445" width="256.11" height="1" fill="url(#g41)"/><rect x="37.67" y="446" width="256.39" height="1" fill="url(#g42)"/><rect x="36.52" y="447" width="256.66" height="1" fill="url(#g43)"/><rect x="35.37" y="448" width="256.94" height="1" fill="url(#g44)"/><rect x="34.22" y="449" width="257.21" height="1" fill="url(#g45)"/><rect x="33.06" y="450" width="257.48" height="1" fill="url(#g45)"/><rect x="31.90" y="451" width="257.75" height="1" fill="url(#g46)"/><rect x="30.74" y="452" width="258.02" height="1" fill="url(#g46)"/><rect x="178.0" y="259.0" width="167.0" height="1.6" fill="url(#stb49)"/><rect x="98.0" y="451.4" width="42.0" height="1.6" fill="url(#stb50)"/></g><rect x="37" y="258" width="267" height="196" fill="none" stroke="#000" stroke-width="2"/><line x1="69.00" y1="450" x2="69.00" y2="454" stroke="#000" stroke-width="1.7"/><text x="69.00" y="467.7" text-anchor="middle" font-size="13.5" font-family="Liberation Serif, serif" stroke="#000" stroke-width="0.15">25</text><line x1="102.58" y1="450" x2="102.58" y2="454" stroke="#000" stroke-width="1.7"/><text x="102.58" y="467.7" text-anchor="middle" font-size="13.5" font-family="Liberation Serif, serif" stroke="#000" stroke-width="0.15">50</text><line x1="136.16" y1="450" x2="136.16" y2="454" stroke="#000" stroke-width="1.7"/><text x="136.16" y="467.7" text-anchor="middle" font-size="13.5" font-family="Liberation Serif, serif" stroke="#000" stroke-width="0.15">75</text><line x1="169.74" y1="450" x2="169.74" y2="454" stroke="#000" stroke-width="1.7"/><text x="169.74" y="467.7" text-anchor="middle" font-size="13.5" font-family="Liberation Serif, serif" stroke="#000" stroke-width="0.15">100</text><line x1="203.32" y1="450" x2="203.32" y2="454" stroke="#000" stroke-width="1.7"/><text x="203.32" y="467.7" text-anchor="middle" font-size="13.5" font-family="Liberation Serif, serif" stroke="#000" stroke-width="0.15">125</text><line x1="236.90" y1="450" x2="236.90" y2="454" stroke="#000" stroke-width="1.7"/><text x="236.90" y="467.7" text-anchor="middle" font-size="13.5" font-family="Liberation Serif, serif" stroke="#000" stroke-width="0.15">150</text><line x1="270.48" y1="450" x2="270.48" y2="454" stroke="#000" stroke-width="1.7"/><text x="270.48" y="467.7" text-anchor="middle" font-size="13.5" font-family="Liberation Serif, serif" stroke="#000" stroke-width="0.15">175</text><text x="33.4" y="457.70" text-anchor="end" font-size="13.5" font-family="Liberation Serif, serif" stroke="#000" stroke-width="0.15">2</text><line x1="37" y1="421.33" x2="41" y2="421.33" stroke="#000" stroke-width="1.5"/><text x="33.4" y="425.03" text-anchor="end" font-size="13.5" font-family="Liberation Serif, serif" stroke="#000" stroke-width="0.15">3</text><line x1="37" y1="388.67" x2="41" y2="388.67" stroke="#000" stroke-width="1.5"/><text x="33.4" y="392.37" text-anchor="end" font-size="13.5" font-family="Liberation Serif, serif" stroke="#000" stroke-width="0.15">4</text><line x1="37" y1="356.00" x2="41" y2="356.00" stroke="#000" stroke-width="1.5"/><text x="33.4" y="359.70" text-anchor="end" font-size="13.5" font-family="Liberation Serif, serif" stroke="#000" stroke-width="0.15">5</text><line x1="37" y1="323.33" x2="41" y2="323.33" stroke="#000" stroke-width="1.5"/><text x="33.4" y="327.03" text-anchor="end" font-size="13.5" font-family="Liberation Serif, serif" stroke="#000" stroke-width="0.15">6</text><line x1="37" y1="290.67" x2="41" y2="290.67" stroke="#000" stroke-width="1.5"/><text x="33.4" y="294.37" text-anchor="end" font-size="13.5" font-family="Liberation Serif, serif" stroke="#000" stroke-width="0.15">7</text><text x="33.4" y="261.70" text-anchor="end" font-size="13.5" font-family="Liberation Serif, serif" stroke="#000" stroke-width="0.15">8</text><text x="170.3" y="482.6" text-anchor="middle" font-size="15.5" font-family="Liberation Serif, serif" stroke="#000" stroke-width="0.15">Frequency/Hz</text><text transform="translate(14.3 356.4) rotate(-90)" text-anchor="middle" font-size="15" font-family="Liberation Serif, serif" stroke="#000" stroke-width="0.15">Perforation diameter/mm</text><text x="0" y="254.1" font-size="21" font-family="Liberation Serif, serif" stroke="#000" stroke-width="0.15">(b)</text><clipPath id="clipc"><rect x="38" y="499" width="264" height="194"/></clipPath><g clip-path="url(#clipc)"><rect x="133.97" y="499" width="184.47" height="1" fill="url(#g47)"/><rect x="134.20" y="500" width="184.47" height="1" fill="url(#g47)"/><rect x="134.42" y="501" width="184.48" height="1" fill="url(#g47)"/><rect x="134.65" y="502" width="184.48" height="1" fill="url(#g47)"/><rect x="134.87" y="503" width="184.48" height="1" fill="url(#g47)"/><rect x="135.10" y="504" width="184.49" height="1" fill="url(#g47)"/><rect x="135.32" y="505" width="184.49" height="1" fill="url(#g47)"/><rect x="135.55" y="506" width="184.50" height="1" fill="url(#g47)"/><rect x="135.77" y="507" width="184.50" height="1" fill="url(#g47)"/><rect x="135.99" y="508" width="184.51" height="1" fill="url(#g47)"/><rect x="136.22" y="509" width="184.52" height="1" fill="url(#g47)"/><rect x="136.44" y="510" width="184.53" height="1" fill="url(#g47)"/><rect x="136.67" y="511" width="184.54" height="1" fill="url(#g47)"/><rect x="136.89" y="512" width="184.55" height="1" fill="url(#g47)"/><rect x="136.06" y="513" width="188.03" height="1" fill="url(#g0)"/><rect x="136.28" y="514" width="188.05" height="1" fill="url(#g0)"/><rect x="136.51" y="515" width="188.06" height="1" fill="url(#g0)"/><rect x="136.73" y="516" width="188.07" height="1" fill="url(#g0)"/><rect x="136.96" y="517" width="188.08" height="1" fill="url(#g0)"/><rect x="137.18" y="518" width="188.10" height="1" fill="url(#g0)"/><rect x="137.41" y="519" width="188.11" height="1" fill="url(#g0)"/><rect x="137.63" y="520" width="188.13" height="1" fill="url(#g0)"/><rect x="137.86" y="521" width="188.15" height="1" fill="url(#g0)"/><rect x="138.08" y="522" width="188.16" height="1" fill="url(#g0)"/><rect x="138.31" y="523" width="188.18" height="1" fill="url(#g0)"/><rect x="138.53" y="524" width="188.20" height="1" fill="url(#g0)"/><rect x="138.76" y="525" width="188.22" height="1" fill="url(#g0)"/><rect x="138.99" y="526" width="188.24" height="1" fill="url(#g0)"/><rect x="139.21" y="527" width="188.26" height="1" fill="url(#g0)"/><rect x="139.44" y="528" width="188.28" height="1" fill="url(#g0)"/><rect x="139.67" y="529" width="188.30" height="1" fill="url(#g0)"/><rect x="139.89" y="530" width="188.33" height="1" fill="url(#g0)"/><rect x="140.12" y="531" width="188.35" height="1" fill="url(#g0)"/><rect x="140.35" y="532" width="188.38" height="1" fill="url(#g0)"/><rect x="140.58" y="533" width="188.40" height="1" fill="url(#g0)"/><rect x="140.80" y="534" width="188.43" height="1" fill="url(#g0)"/><rect x="141.03" y="535" width="188.46" height="1" fill="url(#g0)"/><rect x="141.26" y="536" width="188.48" height="1" fill="url(#g0)"/><rect x="141.49" y="537" width="188.51" height="1" fill="url(#g0)"/><rect x="141.72" y="538" width="188.54" height="1" fill="url(#g0)"/><rect x="141.95" y="539" width="188.57" height="1" fill="url(#g0)"/><rect x="142.18" y="540" width="188.60" height="1" fill="url(#g0)"/><rect x="141.36" y="541" width="192.12" height="1" fill="url(#g1)"/><rect x="141.59" y="542" width="192.16" height="1" fill="url(#g1)"/><rect x="141.82" y="543" width="192.19" height="1" fill="url(#g1)"/><rect x="142.05" y="544" width="192.23" height="1" fill="url(#g1)"/><rect x="142.28" y="545" width="192.26" height="1" fill="url(#g1)"/><rect x="142.52" y="546" width="192.30" height="1" fill="url(#g1)"/><rect x="142.75" y="547" width="192.34" height="1" fill="url(#g1)"/><rect x="142.99" y="548" width="192.38" height="1" fill="url(#g1)"/><rect x="143.22" y="549" width="192.42" height="1" fill="url(#g1)"/><rect x="143.46" y="550" width="192.46" height="1" fill="url(#g1)"/><rect x="143.70" y="551" width="192.50" height="1" fill="url(#g1)"/><rect x="143.93" y="552" width="192.54" height="1" fill="url(#g1)"/><rect x="144.17" y="553" width="192.58" height="1" fill="url(#g1)"/><rect x="144.41" y="554" width="192.63" height="1" fill="url(#g1)"/><rect x="144.65" y="555" width="192.67" height="1" fill="url(#g1)"/><rect x="144.89" y="556" width="192.72" height="1" fill="url(#g1)"/><rect x="145.13" y="557" width="192.76" height="1" fill="url(#g1)"/><rect x="145.37" y="558" width="192.81" height="1" fill="url(#g1)"/><rect x="145.61" y="559" width="192.86" height="1" fill="url(#g1)"/><rect x="145.85" y="560" width="192.91" height="1" fill="url(#g1)"/><rect x="146.10" y="561" width="192.96" height="1" fill="url(#g1)"/><rect x="146.34" y="562" width="193.01" height="1" fill="url(#g1)"/><rect x="146.59" y="563" width="193.07" height="1" fill="url(#g1)"/><rect x="146.83" y="564" width="193.12" height="1" fill="url(#g1)"/><rect x="147.08" y="565" width="193.18" height="1" fill="url(#g1)"/><rect x="147.33" y="566" width="193.23" height="1" fill="url(#g1)"/><rect x="147.58" y="567" width="193.29" height="1" fill="url(#g1)"/><rect x="147.82" y="568" width="193.35" height="1" fill="url(#g1)"/><rect x="147.01" y="569" width="196.92" height="1" fill="url(#g2)"/><rect x="147.26" y="570" width="196.98" height="1" fill="url(#g2)"/><rect x="147.51" y="571" width="197.04" height="1" fill="url(#g2)"/><rect x="147.76" y="572" width="197.11" height="1" fill="url(#g2)"/><rect x="148.01" y="573" width="197.17" height="1" fill="url(#g2)"/><rect x="148.27" y="574" width="197.24" height="1" fill="url(#g2)"/><rect x="148.52" y="575" width="197.30" height="1" fill="url(#g2)"/><rect x="148.78" y="576" width="197.37" height="1" fill="url(#g2)"/><rect x="149.04" y="577" width="197.44" height="1" fill="url(#g2)"/><rect x="149.29" y="578" width="197.51" height="1" fill="url(#g2)"/><rect x="149.55" y="579" width="197.58" height="1" fill="url(#g2)"/><rect x="149.81" y="580" width="197.66" height="1" fill="url(#g2)"/><rect x="150.07" y="581" width="197.73" height="1" fill="url(#g2)"/><rect x="150.34" y="582" width="197.81" height="1" fill="url(#g2)"/><rect x="150.60" y="583" width="197.88" height="1" fill="url(#g2)"/><rect x="150.86" y="584" width="197.96" height="1" fill="url(#g2)"/><rect x="151.13" y="585" width="198.04" height="1" fill="url(#g2)"/><rect x="151.39" y="586" width="198.12" height="1" fill="url(#g2)"/><rect x="151.66" y="587" width="198.20" height="1" fill="url(#g2)"/><rect x="151.93" y="588" width="198.29" height="1" fill="url(#g2)"/><rect x="152.20" y="589" width="198.37" height="1" fill="url(#g2)"/><rect x="152.47" y="590" width="198.46" height="1" fill="url(#g2)"/><rect x="152.74" y="591" width="198.54" height="1" fill="url(#g2)"/><rect x="153.01" y="592" width="198.63" height="1" fill="url(#g2)"/><rect x="153.29" y="593" width="198.72" height="1" fill="url(#g2)"/><rect x="153.56" y="594" width="198.81" height="1" fill="url(#g2)"/><rect x="153.84" y="595" width="198.91" height="1" fill="url(#g2)"/><rect x="153.04" y="596" width="202.55" height="1" fill="url(#g3)"/><rect x="153.32" y="597" width="202.65" height="1" fill="url(#g3)"/><rect x="153.60" y="598" width="202.75" height="1" fill="url(#g3)"/><rect x="153.88" y="599" width="202.85" height="1" fill="url(#g3)"/><rect x="154.16" y="600" width="202.95" height="1" fill="url(#g3)"/><rect x="154.44" y="601" width="203.05" height="1" fill="url(#g3)"/><rect x="154.73" y="602" width="203.16" height="1" fill="url(#g3)"/><rect x="155.01" y="603" width="203.26" height="1" fill="url(#g3)"/><rect x="155.30" y="604" width="203.37" height="1" fill="url(#g3)"/><rect x="155.59" y="605" width="203.48" height="1" fill="url(#g3)"/><rect x="155.88" y="606" width="203.59" height="1" fill="url(#g3)"/><rect x="156.17" y="607" width="203.70" height="1" fill="url(#g3)"/><rect x="156.46" y="608" width="203.82" height="1" fill="url(#g3)"/><rect x="156.76" y="609" width="203.93" height="1" fill="url(#g3)"/><rect x="157.05" y="610" width="204.05" height="1" fill="url(#g3)"/><rect x="157.35" y="611" width="204.17" height="1" fill="url(#g3)"/><rect x="157.64" y="612" width="204.29" height="1" fill="url(#g3)"/><rect x="157.94" y="613" width="204.41" height="1" fill="url(#g3)"/><rect x="158.25" y="614" width="204.54" height="1" fill="url(#g3)"/><rect x="158.55" y="615" width="204.67" height="1" fill="url(#g3)"/><rect x="158.85" y="616" width="204.79" height="1" fill="url(#g3)"/><rect x="159.16" y="617" width="204.92" height="1" fill="url(#g3)"/><rect x="159.46" y="618" width="205.05" height="1" fill="url(#g3)"/><rect x="159.77" y="619" width="205.19" height="1" fill="url(#g3)"/><rect x="160.08" y="620" width="205.32" height="1" fill="url(#g3)"/><rect x="160.39" y="621" width="205.46" height="1" fill="url(#g3)"/><rect x="160.70" y="622" width="205.60" height="1" fill="url(#g3)"/><rect x="161.02" y="623" width="205.74" height="1" fill="url(#g3)"/><rect x="160.24" y="624" width="209.49" height="1" fill="url(#g4)"/><rect x="160.55" y="625" width="209.63" height="1" fill="url(#g4)"/><rect x="160.87" y="626" width="209.78" height="1" fill="url(#g4)"/><rect x="161.19" y="627" width="209.93" height="1" fill="url(#g4)"/><rect x="161.51" y="628" width="210.09" height="1" fill="url(#g4)"/><rect x="161.84" y="629" width="210.24" height="1" fill="url(#g4)"/><rect x="162.16" y="630" width="210.40" height="1" fill="url(#g4)"/><rect x="162.49" y="631" width="210.55" height="1" fill="url(#g4)"/><rect x="162.81" y="632" width="210.72" height="1" fill="url(#g4)"/><rect x="163.14" y="633" width="210.88" height="1" fill="url(#g4)"/><rect x="163.47" y="634" width="211.04" height="1" fill="url(#g4)"/><rect x="163.81" y="635" width="211.21" height="1" fill="url(#g4)"/><rect x="164.14" y="636" width="211.38" height="1" fill="url(#g4)"/><rect x="164.47" y="637" width="211.55" height="1" fill="url(#g4)"/><rect x="164.81" y="638" width="211.72" height="1" fill="url(#g4)"/><rect x="165.15" y="639" width="211.90" height="1" fill="url(#g4)"/><rect x="165.49" y="640" width="212.07" height="1" fill="url(#g4)"/><rect x="165.84" y="641" width="212.25" height="1" fill="url(#g4)"/><rect x="166.18" y="642" width="212.44" height="1" fill="url(#g4)"/><rect x="166.53" y="643" width="212.62" height="1" fill="url(#g4)"/><rect x="166.87" y="644" width="212.81" height="1" fill="url(#g4)"/><rect x="167.22" y="645" width="213.00" height="1" fill="url(#g4)"/><rect x="167.57" y="646" width="213.19" height="1" fill="url(#g4)"/><rect x="167.93" y="647" width="213.38" height="1" fill="url(#g4)"/><rect x="168.28" y="648" width="213.57" height="1" fill="url(#g4)"/><rect x="168.64" y="649" width="213.77" height="1" fill="url(#g4)"/><rect x="169.00" y="650" width="213.97" height="1" fill="url(#g4)"/><rect x="169.36" y="651" width="214.17" height="1" fill="url(#g4)"/><rect x="168.60" y="652" width="218.07" height="1" fill="url(#g48)"/><rect x="168.96" y="653" width="218.28" height="1" fill="url(#g48)"/><rect x="169.33" y="654" width="218.49" height="1" fill="url(#g48)"/><rect x="169.69" y="655" width="218.71" height="1" fill="url(#g48)"/><rect x="170.06" y="656" width="218.93" height="1" fill="url(#g48)"/><rect x="170.43" y="657" width="219.15" height="1" fill="url(#g48)"/><rect x="170.81" y="658" width="219.37" height="1" fill="url(#g48)"/><rect x="171.18" y="659" width="219.60" height="1" fill="url(#g48)"/><rect x="171.56" y="660" width="219.83" height="1" fill="url(#g48)"/><rect x="171.93" y="661" width="220.06" height="1" fill="url(#g48)"/><rect x="172.31" y="662" width="220.29" height="1" fill="url(#g48)"/><rect x="172.70" y="663" width="220.53" height="1" fill="url(#g48)"/><rect x="173.08" y="664" width="220.77" height="1" fill="url(#g48)"/><rect x="173.47" y="665" width="221.01" height="1" fill="url(#g48)"/><rect x="173.86" y="666" width="221.25" height="1" fill="url(#g48)"/><rect x="174.25" y="667" width="221.50" height="1" fill="url(#g48)"/><rect x="174.64" y="668" width="221.75" height="1" fill="url(#g48)"/><rect x="175.03" y="669" width="222.00" height="1" fill="url(#g48)"/><rect x="175.43" y="670" width="222.26" height="1" fill="url(#g48)"/><rect x="175.83" y="671" width="222.51" height="1" fill="url(#g48)"/><rect x="176.23" y="672" width="222.77" height="1" fill="url(#g48)"/><rect x="176.63" y="673" width="223.04" height="1" fill="url(#g48)"/><rect x="177.03" y="674" width="223.30" height="1" fill="url(#g48)"/><rect x="177.44" y="675" width="223.57" height="1" fill="url(#g48)"/><rect x="177.85" y="676" width="223.84" height="1" fill="url(#g48)"/><rect x="178.26" y="677" width="224.12" height="1" fill="url(#g48)"/><rect x="178.67" y="678" width="224.40" height="1" fill="url(#g48)"/><rect x="179.09" y="679" width="224.68" height="1" fill="url(#g48)"/><rect x="178.35" y="680" width="228.77" height="1" fill="url(#g49)"/><rect x="178.77" y="681" width="229.06" height="1" fill="url(#g49)"/><rect x="179.19" y="682" width="229.35" height="1" fill="url(#g49)"/><rect x="179.61" y="683" width="229.65" height="1" fill="url(#g49)"/><rect x="180.03" y="684" width="229.95" height="1" fill="url(#g49)"/><rect x="180.46" y="685" width="230.25" height="1" fill="url(#g49)"/><rect x="180.89" y="686" width="230.56" height="1" fill="url(#g49)"/><rect x="181.32" y="687" width="230.87" height="1" fill="url(#g49)"/><rect x="181.75" y="688" width="231.18" height="1" fill="url(#g49)"/><rect x="182.19" y="689" width="231.50" height="1" fill="url(#g49)"/><rect x="182.62" y="690" width="231.82" height="1" fill="url(#g49)"/><rect x="183.06" y="691" width="232.14" height="1" fill="url(#g49)"/><rect x="183.51" y="692" width="232.46" height="1" fill="url(#g49)"/><rect x="170.0" y="499.0" width="58.0" height="1.6" fill="url(#stc54)"/><rect x="230.0" y="691.4" width="70.0" height="1.6" fill="url(#stc55)"/></g><rect x="37" y="498" width="267" height="196" fill="none" stroke="#000" stroke-width="2"/><line x1="69.00" y1="690" x2="69.00" y2="694" stroke="#000" stroke-width="1.7"/><text x="69.00" y="707.7" text-anchor="middle" font-size="13.5" font-family="Liberation Serif, serif" stroke="#000" stroke-width="0.15">25</text><line x1="102.58" y1="690" x2="102.58" y2="694" stroke="#000" stroke-width="1.7"/><text x="102.58" y="707.7" text-anchor="middle" font-size="13.5" font-family="Liberation Serif, serif" stroke="#000" stroke-width="0.15">50</text><line x1="136.16" y1="690" x2="136.16" y2="694" stroke="#000" stroke-width="1.7"/><text x="136.16" y="707.7" text-anchor="middle" font-size="13.5" font-family="Liberation Serif, serif" stroke="#000" stroke-width="0.15">75</text><line x1="169.74" y1="690" x2="169.74" y2="694" stroke="#000" stroke-width="1.7"/><text x="169.74" y="707.7" text-anchor="middle" font-size="13.5" font-family="Liberation Serif, serif" stroke="#000" stroke-width="0.15">100</text><line x1="203.32" y1="690" x2="203.32" y2="694" stroke="#000" stroke-width="1.7"/><text x="203.32" y="707.7" text-anchor="middle" font-size="13.5" font-family="Liberation Serif, serif" stroke="#000" stroke-width="0.15">125</text><line x1="236.90" y1="690" x2="236.90" y2="694" stroke="#000" stroke-width="1.7"/><text x="236.90" y="707.7" text-anchor="middle" font-size="13.5" font-family="Liberation Serif, serif" stroke="#000" stroke-width="0.15">150</text><line x1="270.48" y1="690" x2="270.48" y2="694" stroke="#000" stroke-width="1.7"/><text x="270.48" y="707.7" text-anchor="middle" font-size="13.5" font-family="Liberation Serif, serif" stroke="#000" stroke-width="0.15">175</text><text x="33.4" y="697.70" text-anchor="end" font-size="13.5" font-family="Liberation Serif, serif" stroke="#000" stroke-width="0.15">10</text><line x1="37" y1="654.80" x2="41" y2="654.80" stroke="#000" stroke-width="1.5"/><text x="33.4" y="658.50" text-anchor="end" font-size="13.5" font-family="Liberation Serif, serif" stroke="#000" stroke-width="0.15">12</text><line x1="37" y1="615.60" x2="41" y2="615.60" stroke="#000" stroke-width="1.5"/><text x="33.4" y="619.30" text-anchor="end" font-size="13.5" font-family="Liberation Serif, serif" stroke="#000" stroke-width="0.15">14</text><line x1="37" y1="576.40" x2="41" y2="576.40" stroke="#000" stroke-width="1.5"/><text x="33.4" y="580.10" text-anchor="end" font-size="13.5" font-family="Liberation Serif, serif" stroke="#000" stroke-width="0.15">16</text><line x1="37" y1="537.20" x2="41" y2="537.20" stroke="#000" stroke-width="1.5"/><text x="33.4" y="540.90" text-anchor="end" font-size="13.5" font-family="Liberation Serif, serif" stroke="#000" stroke-width="0.15">18</text><text x="33.4" y="501.70" text-anchor="end" font-size="13.5" font-family="Liberation Serif, serif" stroke="#000" stroke-width="0.15">20</text><text x="170.3" y="722.6" text-anchor="middle" font-size="15.5" font-family="Liberation Serif, serif" stroke="#000" stroke-width="0.15">Frequency/Hz</text><text transform="translate(14.3 597.7) rotate(-90)" text-anchor="middle" font-size="15" font-family="Liberation Serif, serif" stroke="#000" stroke-width="0.15">Honeycomb thickness/mm</text><text x="0" y="488.9" font-size="21" font-family="Liberation Serif, serif" stroke="#000" stroke-width="0.15">(c)</text><rect x="315" y="250" width="16" height="223.5" fill="url(#cbar)"/><text x="334.6" y="254.0" font-size="12" font-family="Liberation Serif, serif" stroke="#000" stroke-width="0.15">1</text><text x="334.6" y="298.7" font-size="12" font-family="Liberation Serif, serif" stroke="#000" stroke-width="0.15">0.8</text><text x="334.6" y="343.4" font-size="12" font-family="Liberation Serif, serif" stroke="#000" stroke-width="0.15">0.6</text><text x="334.6" y="388.1" font-size="12" font-family="Liberation Serif, serif" stroke="#000" stroke-width="0.15">0.4</text><text x="334.6" y="432.8" font-size="12" font-family="Liberation Serif, serif" stroke="#000" stroke-width="0.15">0.2</text><text x="334.6" y="477.5" font-size="12" font-family="Liberation Serif, serif" stroke="#000" stroke-width="0.15">0</text><text x="325.8" y="242" font-size="19.5" font-style="italic" font-family="Liberation Serif, serif" stroke="#000" stroke-width="0.7">&#945;</text></svg></body></html>
